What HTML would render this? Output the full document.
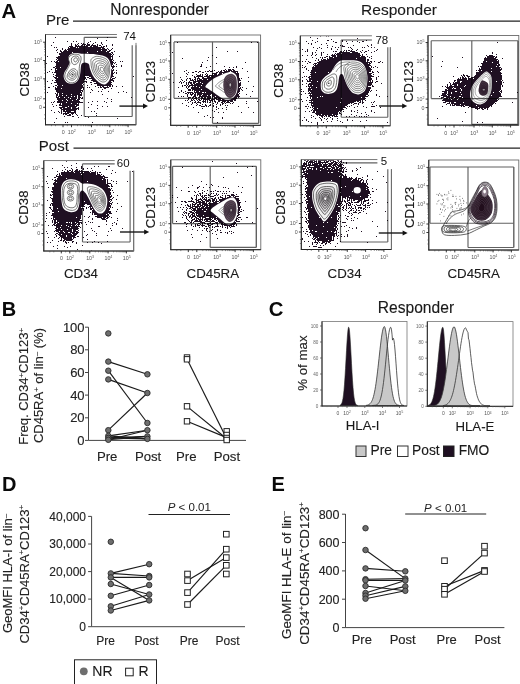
<!DOCTYPE html>
<html><head><meta charset="utf-8"><style>
html,body{margin:0;padding:0;background:#fff;width:520px;height:684px;overflow:hidden;}
svg{display:block;font-family:"Liberation Sans",sans-serif;will-change:transform;}
</style></head><body>
<svg width="520" height="684" viewBox="0 0 520 684" font-family="Liberation Sans, sans-serif">
<rect width="520" height="684" fill="#fff"/>
<defs>
<filter id="s1" x="-30%" y="-30%" width="160%" height="160%" color-interpolation-filters="sRGB"><feGaussianBlur in="SourceAlpha" stdDeviation="1.80" result="b"/><feTurbulence type="fractalNoise" baseFrequency="0.80" numOctaves="1" seed="4" result="n"/><feColorMatrix in="n" type="matrix" values="0 0 0 0 0 0 0 0 0 0 0 0 0 0 0 1 0 0 0 0" result="na"/><feComposite in="b" in2="na" operator="arithmetic" k1="0" k2="1" k3="2.00" k4="-1.00" result="d"/><feComponentTransfer in="d" result="t"><feFuncA type="discrete" tableValues="0 1"/></feComponentTransfer><feFlood flood-color="#1f1022"/><feComposite in2="t" operator="in"/></filter>
<filter id="s2" x="-30%" y="-30%" width="160%" height="160%" color-interpolation-filters="sRGB"><feGaussianBlur in="SourceAlpha" stdDeviation="2.40" result="b"/><feTurbulence type="fractalNoise" baseFrequency="0.80" numOctaves="1" seed="7" result="n"/><feColorMatrix in="n" type="matrix" values="0 0 0 0 0 0 0 0 0 0 0 0 0 0 0 1 0 0 0 0" result="na"/><feComposite in="b" in2="na" operator="arithmetic" k1="0" k2="1" k3="2.00" k4="-1.00" result="d"/><feComponentTransfer in="d" result="t"><feFuncA type="discrete" tableValues="0 1"/></feComponentTransfer><feFlood flood-color="#1f1022"/><feComposite in2="t" operator="in"/></filter>
<filter id="s3" x="-30%" y="-30%" width="160%" height="160%" color-interpolation-filters="sRGB"><feGaussianBlur in="SourceAlpha" stdDeviation="1.20" result="b"/><feTurbulence type="fractalNoise" baseFrequency="0.80" numOctaves="1" seed="11" result="n"/><feColorMatrix in="n" type="matrix" values="0 0 0 0 0 0 0 0 0 0 0 0 0 0 0 1 0 0 0 0" result="na"/><feComposite in="b" in2="na" operator="arithmetic" k1="0" k2="1" k3="2.00" k4="-1.00" result="d"/><feComponentTransfer in="d" result="t"><feFuncA type="discrete" tableValues="0 1"/></feComponentTransfer><feFlood flood-color="#1f1022"/><feComposite in2="t" operator="in"/></filter>
<radialGradient id="rg"><stop offset="0" stop-color="#000" stop-opacity="1"/><stop offset="0.45" stop-color="#000" stop-opacity="0.75"/><stop offset="1" stop-color="#000" stop-opacity="0"/></radialGradient>
<radialGradient id="gA"><stop offset="0.00" stop-opacity="0.900"/><stop offset="0.10" stop-opacity="0.826"/><stop offset="0.20" stop-opacity="0.687"/><stop offset="0.30" stop-opacity="0.571"/><stop offset="0.40" stop-opacity="0.473"/><stop offset="0.50" stop-opacity="0.404"/><stop offset="0.60" stop-opacity="0.319"/><stop offset="0.70" stop-opacity="0.228"/><stop offset="0.80" stop-opacity="0.140"/><stop offset="0.90" stop-opacity="0.072"/><stop offset="1.00" stop-opacity="0.000"/></radialGradient>
<radialGradient id="gB"><stop offset="0.00" stop-opacity="0.511"/><stop offset="0.10" stop-opacity="0.497"/><stop offset="0.20" stop-opacity="0.468"/><stop offset="0.30" stop-opacity="0.427"/><stop offset="0.40" stop-opacity="0.372"/><stop offset="0.50" stop-opacity="0.310"/><stop offset="0.60" stop-opacity="0.231"/><stop offset="0.70" stop-opacity="0.152"/><stop offset="0.80" stop-opacity="0.088"/><stop offset="0.90" stop-opacity="0.041"/><stop offset="1.00" stop-opacity="0.000"/></radialGradient>
</defs>
<text x="1.6" y="17.9" font-size="20.30" text-anchor="start" font-weight="bold" fill="#0a0a0a" >A</text>
<text x="110.2" y="14.6" font-size="15.60" text-anchor="start" font-weight="normal" fill="#1a1a1a" stroke="#1a1a1a" stroke-width="0.12" >Nonresponder</text>
<text x="361.1" y="14.6" font-size="15.50" text-anchor="start" font-weight="normal" fill="#1a1a1a" stroke="#1a1a1a" stroke-width="0.12" >Responder</text>
<text x="46.0" y="25.4" font-size="15.00" text-anchor="start" font-weight="normal" fill="#1a1a1a" stroke="#1a1a1a" stroke-width="0.12" >Pre</text>
<line x1="73.0" y1="21.2" x2="520.0" y2="21.2" stroke="#222" stroke-width="1.30"/>
<text x="38.8" y="151.4" font-size="15.00" text-anchor="start" font-weight="normal" fill="#1a1a1a" stroke="#1a1a1a" stroke-width="0.12" >Post</text>
<line x1="73.5" y1="148.1" x2="520.0" y2="148.1" stroke="#222" stroke-width="1.30"/>
<clipPath id="c1"><rect x="46.1" y="35.1" width="89.3" height="89.1"/></clipPath>
<g clip-path="url(#c1)"><g filter="url(#s1)">
<path d="M50.0,44.0 C55.8,30.3 73.7,39.3 85.0,39.0 C96.3,38.7 112.0,35.2 118.0,42.0 C124.0,48.8 121.3,70.3 121.0,80.0 C120.7,89.7 119.5,94.3 116.0,100.0 C112.5,105.7 105.3,110.5 100.0,114.0 C94.7,117.5 92.3,119.8 84.0,121.0 C75.7,122.2 55.7,133.8 50.0,121.0 C44.3,108.2 44.2,57.7 50.0,44.0Z" fill="#000" fill-opacity="0.13"/>
<path d="M57.2,55.2 C58.6,53.3 60.7,49.8 63.5,48.0 C66.3,46.1 70.4,45.0 73.8,44.1 C77.3,43.2 80.4,42.5 84.2,42.4 C88.0,42.2 92.9,42.6 96.7,43.2 C100.6,43.9 104.3,44.6 107.1,46.2 C109.9,47.9 111.9,49.9 113.4,53.2 C114.8,56.4 115.6,61.4 115.9,65.6 C116.1,69.7 115.4,74.6 114.8,78.0 C114.2,81.4 113.6,84.0 112.3,85.9 C111.0,87.7 109.0,88.8 107.1,89.0 C105.2,89.2 102.9,88.3 100.8,87.2 C98.8,86.1 96.4,83.8 94.6,82.3 C92.8,80.8 91.2,79.1 89.9,78.0 C88.7,76.9 88.0,75.5 87.2,75.8 C86.4,76.2 85.7,78.0 85.1,80.2 C84.4,82.3 83.9,85.7 83.2,88.8 C82.6,91.9 81.9,95.5 81.1,98.8 C80.2,102.2 79.3,105.9 78.1,108.8 C76.9,111.7 75.9,115.0 73.8,116.3 C71.8,117.7 67.9,117.6 65.5,116.7 C63.1,115.8 61.0,113.9 59.4,110.9 C57.7,108.0 56.5,103.3 55.7,98.8 C54.9,94.4 54.9,89.1 54.6,84.3 C54.3,79.4 53.7,73.9 53.8,69.8 C53.8,65.7 54.6,61.9 55.2,59.4 C55.7,57.0 55.8,57.1 57.2,55.2Z" fill="#000" fill-opacity="0.30"/>
<path d="M59.2,56.9 C60.5,55.1 62.4,51.9 65.0,50.2 C67.6,48.5 71.4,47.5 74.6,46.6 C77.8,45.7 80.7,45.1 84.2,45.0 C87.7,44.9 92.3,45.2 95.8,45.8 C99.3,46.4 102.8,47.1 105.4,48.6 C108.0,50.1 109.9,52.0 111.2,55.0 C112.5,58.0 113.3,62.7 113.5,66.5 C113.7,70.3 113.0,74.9 112.5,78.0 C112.0,81.1 111.4,83.6 110.2,85.3 C109.0,87.0 107.2,88.0 105.4,88.2 C103.6,88.4 101.5,87.5 99.6,86.5 C97.7,85.5 95.5,83.4 93.8,82.0 C92.1,80.6 90.6,79.0 89.5,78.0 C88.4,77.0 87.8,75.7 87.0,76.0 C86.2,76.3 85.6,78.0 85.0,80.0 C84.4,82.0 83.9,85.1 83.3,88.0 C82.7,90.9 82.1,94.2 81.3,97.3 C80.5,100.4 79.6,103.8 78.5,106.5 C77.4,109.2 76.5,112.3 74.6,113.5 C72.7,114.7 69.1,114.6 66.9,113.8 C64.7,113.0 62.7,111.2 61.2,108.5 C59.7,105.8 58.5,101.4 57.8,97.3 C57.1,93.2 57.1,88.3 56.8,83.8 C56.5,79.3 55.9,74.2 56.0,70.4 C56.1,66.6 56.8,63.0 57.3,60.8 C57.8,58.5 57.9,58.7 59.2,56.9Z" fill="#000" fill-opacity="0.66"/>
<path d="M58.0,58.0 C60.8,50.7 68.8,49.7 75.0,48.0 C81.2,46.3 89.3,46.7 95.0,48.0 C100.7,49.3 106.2,51.5 109.0,56.0 C111.8,60.5 112.5,70.0 112.0,75.0 C111.5,80.0 108.3,84.2 106.0,86.0 C103.7,87.8 101.0,88.0 98.0,86.0 C95.0,84.0 90.7,74.3 88.0,74.0 C85.3,73.7 83.3,81.0 82.0,84.0 C80.7,87.0 84.0,90.7 80.0,92.0 C76.0,93.3 61.7,97.7 58.0,92.0 C54.3,86.3 55.2,65.3 58.0,58.0Z" fill="#000" fill-opacity="0.80"/>
</g></g>
<path d="M68.8,56.2 C69.2,55.4 70.0,54.5 71.2,54.0 C72.5,53.5 74.6,53.1 76.2,53.1 C77.9,53.1 79.8,53.6 81.2,53.8 C82.7,53.9 83.3,53.7 85.0,53.8 C86.7,53.8 89.4,53.9 91.2,54.0 C93.1,54.1 94.4,54.1 96.2,54.4 C98.1,54.7 100.6,55.0 102.5,55.6 C104.4,56.2 106.2,57.0 107.5,58.1 C108.8,59.2 109.4,60.7 110.0,62.5 C110.6,64.3 111.2,66.5 111.2,68.8 C111.3,71.0 111.0,74.2 110.6,76.2 C110.2,78.3 109.7,79.9 108.8,81.2 C107.8,82.6 106.2,84.0 105.0,84.4 C103.8,84.8 102.7,84.5 101.2,83.8 C99.8,83.0 97.7,81.5 96.2,80.0 C94.8,78.5 93.5,76.9 92.5,75.0 C91.5,73.1 90.6,70.5 90.0,68.8 C89.4,67.0 89.5,65.3 89.0,64.4 C88.5,63.5 87.6,63.4 86.9,63.1 C86.2,62.8 85.7,62.5 85.0,62.5 C84.3,62.5 83.4,62.7 82.8,63.1 C82.1,63.5 81.6,63.9 81.2,65.0 C80.9,66.2 80.8,68.3 80.6,70.0 C80.4,71.7 80.4,73.3 80.0,75.0 C79.6,76.7 78.9,78.7 78.1,80.0 C77.3,81.3 76.2,82.5 75.0,83.1 C73.8,83.7 72.1,84.0 70.6,83.8 C69.1,83.5 67.4,82.9 66.2,81.9 C65.1,80.9 64.1,79.1 63.8,77.5 C63.4,75.9 63.8,74.2 64.4,72.5 C65.0,70.8 66.7,69.1 67.5,67.5 C68.3,65.9 69.2,64.5 69.4,63.1 C69.6,61.8 68.6,60.5 68.5,59.4 C68.4,58.3 68.3,57.1 68.8,56.2Z" fill="#fff"/>
<path d="M68.5,58.0 C68.9,56.5 70.6,55.4 72.0,54.8 C73.4,54.2 75.6,54.0 77.0,54.2 C78.4,54.4 79.8,55.0 80.5,56.0 C81.2,57.0 81.1,58.7 81.0,60.0 C80.9,61.3 80.1,62.6 79.8,64.0 C79.5,65.4 79.3,66.8 79.2,68.5 C79.1,70.2 79.5,72.2 79.2,74.0 C78.9,75.8 78.3,78.1 77.5,79.5 C76.7,80.9 75.7,81.8 74.5,82.3 C73.3,82.8 71.9,83.0 70.6,82.8 C69.3,82.5 67.8,81.8 66.8,80.8 C65.8,79.8 65.0,78.4 64.8,77.0 C64.6,75.6 64.9,74.0 65.5,72.5 C66.1,71.0 67.5,69.3 68.2,67.8 C68.9,66.3 69.8,65.1 69.8,63.5 C69.8,61.9 68.1,59.5 68.5,58.0Z" fill="none" stroke="#2a2a2a" stroke-width="0.65"/>
<path d="M71.8,57.8 C72.3,57.1 73.7,56.3 74.7,56.1 C75.8,55.9 77.4,56.0 78.1,56.5 C78.8,57.1 79.1,58.4 79.1,59.5 C79.0,60.6 78.4,62.0 77.7,62.9 C77.0,63.8 75.6,64.5 74.7,64.6 C73.8,64.7 72.7,64.0 72.2,63.3 C71.6,62.6 71.5,61.3 71.4,60.4 C71.3,59.4 71.2,58.5 71.8,57.8Z" fill="none" stroke="#2a2a2a" stroke-width="0.65"/>
<path d="M74.0,58.7 C74.3,58.4 74.9,58.0 75.4,57.9 C75.9,57.8 76.7,57.8 77.0,58.1 C77.3,58.4 77.5,59.0 77.4,59.5 C77.4,60.0 77.1,60.7 76.8,61.1 C76.5,61.5 75.8,61.9 75.4,61.9 C75.0,61.9 74.5,61.6 74.2,61.3 C73.9,61.0 73.9,60.3 73.8,59.9 C73.8,59.5 73.7,59.0 74.0,58.7Z" fill="none" stroke="#2a2a2a" stroke-width="0.65"/>
<path d="M67.7,74.1 C68.2,72.9 69.2,71.0 70.3,70.1 C71.4,69.2 73.1,68.6 74.3,68.8 C75.4,69.0 76.9,70.2 77.4,71.4 C77.8,72.7 77.5,74.9 76.9,76.3 C76.3,77.7 75.0,79.2 73.8,79.8 C72.7,80.4 71.0,80.2 69.9,79.8 C68.8,79.4 67.6,78.4 67.2,77.4 C66.9,76.5 67.2,75.3 67.7,74.1Z" fill="none" stroke="#2a2a2a" stroke-width="0.65"/>
<path d="M69.3,74.2 C69.6,73.4 70.3,72.2 71.1,71.6 C71.8,71.0 72.9,70.6 73.7,70.7 C74.5,70.9 75.5,71.6 75.8,72.5 C76.1,73.3 75.9,74.8 75.5,75.7 C75.1,76.7 74.2,77.7 73.4,78.1 C72.6,78.5 71.5,78.3 70.8,78.1 C70.0,77.8 69.2,77.1 69.0,76.5 C68.8,75.8 69.0,75.1 69.3,74.2Z" fill="none" stroke="#2a2a2a" stroke-width="0.65"/>
<path d="M70.9,74.4 C71.1,74.0 71.4,73.4 71.8,73.1 C72.2,72.8 72.8,72.5 73.2,72.6 C73.6,72.7 74.1,73.1 74.2,73.5 C74.4,73.9 74.3,74.7 74.1,75.2 C73.9,75.6 73.4,76.2 73.0,76.4 C72.6,76.6 72.0,76.5 71.7,76.4 C71.3,76.2 70.9,75.9 70.8,75.6 C70.6,75.2 70.7,74.8 70.9,74.4Z" fill="none" stroke="#2a2a2a" stroke-width="0.65"/>
<circle cx="72.6" cy="74.6" r="0.8" fill="#333"/>
<path d="M91.4,58.9 C92.3,57.9 94.5,56.6 96.3,56.4 C98.2,56.1 100.7,56.8 102.5,57.4 C104.3,57.9 106.0,58.7 107.1,59.8 C108.2,61.0 108.8,62.8 109.2,64.4 C109.6,66.1 109.7,68.1 109.7,70.0 C109.6,71.9 109.3,74.3 108.9,75.9 C108.5,77.6 107.8,79.1 107.1,80.1 C106.3,81.1 105.3,81.7 104.3,81.9 C103.3,82.2 102.3,82.1 101.1,81.5 C99.9,80.9 98.2,79.6 97.0,78.2 C95.7,76.9 94.6,75.3 93.7,73.6 C92.9,72.0 92.2,70.0 91.7,68.1 C91.3,66.3 91.0,64.1 91.0,62.6 C90.9,61.1 90.5,60.0 91.4,58.9Z" fill="none" stroke="#2e2e2e" stroke-width="0.60"/>
<path d="M93.2,60.7 C94.0,59.8 95.7,58.8 97.3,58.5 C98.8,58.3 100.9,58.9 102.4,59.4 C103.9,59.9 105.3,60.5 106.3,61.5 C107.2,62.4 107.7,63.9 108.0,65.3 C108.4,66.7 108.5,68.3 108.4,69.9 C108.4,71.5 108.2,73.5 107.8,74.9 C107.4,76.3 106.9,77.5 106.3,78.4 C105.6,79.2 104.8,79.7 104.0,79.9 C103.1,80.1 102.3,80.0 101.3,79.5 C100.3,79.0 98.8,77.9 97.8,76.8 C96.8,75.7 95.9,74.4 95.1,73.0 C94.4,71.6 93.8,69.9 93.4,68.4 C93.1,66.8 92.9,65.0 92.8,63.8 C92.8,62.5 92.5,61.6 93.2,60.7Z" fill="none" stroke="#2e2e2e" stroke-width="0.60"/>
<path d="M95.0,62.5 C95.6,61.8 97.0,60.9 98.3,60.7 C99.5,60.6 101.2,61.0 102.4,61.4 C103.6,61.8 104.7,62.3 105.5,63.1 C106.2,63.9 106.6,65.0 106.9,66.2 C107.2,67.3 107.2,68.6 107.2,69.8 C107.2,71.1 107.0,72.7 106.7,73.9 C106.4,75.0 106.0,76.0 105.5,76.6 C105.0,77.3 104.3,77.7 103.6,77.9 C102.9,78.0 102.3,78.0 101.5,77.5 C100.6,77.1 99.5,76.3 98.7,75.4 C97.9,74.5 97.1,73.4 96.5,72.3 C95.9,71.2 95.5,69.8 95.2,68.6 C94.9,67.4 94.7,65.9 94.7,64.9 C94.7,63.9 94.4,63.2 95.0,62.5Z" fill="none" stroke="#2e2e2e" stroke-width="0.60"/>
<path d="M96.8,64.2 C97.2,63.7 98.3,63.0 99.2,62.9 C100.2,62.8 101.4,63.1 102.3,63.4 C103.2,63.7 104.1,64.1 104.7,64.7 C105.2,65.3 105.5,66.2 105.7,67.0 C105.9,67.9 106.0,68.8 106.0,69.8 C105.9,70.8 105.8,72.0 105.6,72.8 C105.4,73.7 105.0,74.4 104.7,74.9 C104.3,75.4 103.8,75.7 103.3,75.8 C102.8,75.9 102.3,75.9 101.6,75.6 C101.0,75.3 100.2,74.6 99.6,74.0 C98.9,73.3 98.4,72.5 97.9,71.6 C97.5,70.8 97.1,69.8 96.9,68.9 C96.7,67.9 96.6,66.8 96.5,66.1 C96.5,65.3 96.3,64.7 96.8,64.2Z" fill="none" stroke="#2e2e2e" stroke-width="0.60"/>
<path d="M98.5,66.0 C98.9,65.6 99.6,65.2 100.2,65.1 C100.8,65.0 101.7,65.3 102.3,65.5 C102.9,65.6 103.5,65.9 103.9,66.3 C104.2,66.7 104.4,67.3 104.6,67.9 C104.7,68.4 104.7,69.1 104.7,69.7 C104.7,70.4 104.6,71.2 104.5,71.8 C104.3,72.3 104.1,72.8 103.9,73.2 C103.6,73.5 103.3,73.7 102.9,73.8 C102.6,73.9 102.2,73.8 101.8,73.6 C101.4,73.4 100.8,73.0 100.4,72.5 C100.0,72.1 99.6,71.5 99.3,71.0 C99.0,70.4 98.8,69.7 98.6,69.1 C98.5,68.5 98.4,67.7 98.4,67.2 C98.4,66.7 98.2,66.3 98.5,66.0Z" fill="none" stroke="#2e2e2e" stroke-width="0.60"/>
<path d="M100.3,67.7 C100.5,67.6 100.9,67.3 101.2,67.3 C101.5,67.3 101.9,67.4 102.2,67.5 C102.6,67.6 102.9,67.7 103.0,67.9 C103.2,68.1 103.3,68.4 103.4,68.7 C103.5,69.0 103.5,69.3 103.5,69.7 C103.5,70.0 103.4,70.4 103.4,70.7 C103.3,71.0 103.2,71.3 103.0,71.4 C102.9,71.6 102.7,71.7 102.6,71.7 C102.4,71.8 102.2,71.8 102.0,71.7 C101.8,71.6 101.5,71.3 101.3,71.1 C101.1,70.9 100.9,70.6 100.7,70.3 C100.6,70.0 100.5,69.7 100.4,69.3 C100.3,69.0 100.3,68.7 100.2,68.4 C100.2,68.1 100.2,67.9 100.3,67.7Z" fill="none" stroke="#2e2e2e" stroke-width="0.60"/>
<circle cx="102.2" cy="69.6" r="1" fill="#fff"/>
<clipPath id="c2"><rect x="171.3" y="35.6" width="88.7" height="89.1"/></clipPath>
<g clip-path="url(#c2)"><g filter="url(#s1)">
<ellipse cx="211.0" cy="88.0" rx="46.0" ry="34.0" fill="url(#gB)" fill-opacity="1.00"/>
<ellipse cx="203.0" cy="89.0" rx="24.0" ry="20.0" fill="url(#gA)" fill-opacity="0.85"/>
<path d="M201.5,85.9 C202.6,84.0 207.2,79.8 210.4,77.6 C213.6,75.4 217.4,73.8 220.7,72.4 C224.0,71.0 227.8,69.6 230.1,69.2 C232.3,68.8 232.9,69.1 234.3,69.8 C235.7,70.5 237.4,71.6 238.4,73.4 C239.3,75.2 239.7,78.1 239.9,80.7 C240.2,83.3 240.2,86.6 239.9,89.0 C239.7,91.4 239.3,93.3 238.4,95.2 C237.4,97.1 235.8,99.2 234.3,100.4 C232.7,101.6 230.7,102.2 229.0,102.4 C227.3,102.7 225.7,102.6 223.8,102.0 C221.9,101.3 219.8,99.8 217.6,98.4 C215.4,96.9 212.6,94.8 210.4,93.2 C208.2,91.6 205.6,90.2 204.2,89.0 C202.7,87.8 200.5,87.8 201.5,85.9Z" fill="#000" fill-opacity="1.00"/>
</g></g>
<path d="M205.6,85.9 C206.5,84.3 210.3,80.9 213.0,79.0 C215.7,77.1 218.9,75.9 221.6,74.7 C224.3,73.5 227.5,72.4 229.4,72.0 C231.3,71.6 231.8,71.9 232.9,72.5 C234.1,73.1 235.5,74.0 236.3,75.5 C237.1,77.0 237.4,79.4 237.6,81.6 C237.8,83.8 237.8,86.5 237.6,88.5 C237.4,90.5 237.1,92.1 236.3,93.7 C235.5,95.3 234.2,97.0 232.9,98.0 C231.6,99.0 229.9,99.5 228.5,99.7 C227.1,99.9 225.8,99.9 224.2,99.3 C222.6,98.7 220.9,97.5 219.0,96.3 C217.1,95.1 214.9,93.3 213.0,92.0 C211.1,90.7 209.0,89.5 207.8,88.5 C206.6,87.5 204.7,87.5 205.6,85.9Z" fill="#fff"/>
<path d="M215.6,85.7 C216.2,84.8 218.6,82.6 220.2,81.5 C221.9,80.3 223.9,79.5 225.6,78.8 C227.2,78.1 229.2,77.4 230.4,77.1 C231.6,76.9 231.8,77.1 232.6,77.4 C233.3,77.8 234.2,78.4 234.7,79.3 C235.2,80.2 235.3,81.7 235.5,83.1 C235.6,84.4 235.6,86.1 235.5,87.4 C235.3,88.6 235.2,89.6 234.7,90.6 C234.2,91.6 233.4,92.6 232.6,93.2 C231.8,93.9 230.7,94.2 229.8,94.3 C228.9,94.4 228.1,94.4 227.2,94.1 C226.2,93.7 225.1,93.0 223.9,92.2 C222.8,91.4 221.4,90.3 220.2,89.5 C219.1,88.7 217.8,88.0 217.0,87.4 C216.2,86.7 215.1,86.7 215.6,85.7Z" fill="#2a1a28" fill-opacity="0.00" stroke="#444" stroke-width="0.55"/>
<path d="M218.8,85.7 C219.2,84.9 221.2,83.2 222.5,82.2 C223.8,81.3 225.4,80.7 226.8,80.1 C228.2,79.5 229.8,78.9 230.7,78.8 C231.6,78.6 231.9,78.7 232.4,79.0 C233.0,79.3 233.8,79.7 234.2,80.5 C234.5,81.3 234.7,82.5 234.8,83.5 C234.9,84.6 234.9,86.0 234.8,87.0 C234.7,88.0 234.5,88.8 234.2,89.6 C233.8,90.4 233.1,91.2 232.4,91.8 C231.8,92.2 231.0,92.5 230.2,92.6 C229.5,92.7 228.9,92.7 228.1,92.4 C227.3,92.1 226.4,91.5 225.5,90.9 C224.6,90.3 223.4,89.4 222.5,88.8 C221.6,88.1 220.5,87.5 219.9,87.0 C219.3,86.5 218.4,86.5 218.8,85.7Z" fill="#2a1a28" fill-opacity="0.00" stroke="#444" stroke-width="0.55"/>
<path d="M223.4,85.5 C223.3,83.0 223.7,79.8 224.5,78.0 C225.3,76.2 226.7,75.2 228.0,74.5 C229.3,73.8 231.2,73.5 232.5,74.0 C233.8,74.5 235.3,75.6 236.0,77.5 C236.7,79.4 236.8,82.9 236.8,85.5 C236.8,88.1 236.5,91.0 235.8,93.0 C235.1,95.0 233.8,96.5 232.5,97.3 C231.2,98.0 229.3,98.2 228.0,97.5 C226.7,96.8 225.6,95.0 224.8,93.0 C224.0,91.0 223.5,88.0 223.4,85.5Z" fill="#6a5a68"/>
<path d="M223.9,85.5 C223.9,83.2 224.3,80.3 225.0,78.6 C225.7,76.9 226.9,76.0 228.2,75.4 C229.4,74.8 231.1,74.5 232.3,74.9 C233.5,75.4 234.9,76.4 235.5,78.1 C236.2,79.9 236.3,83.1 236.3,85.5 C236.2,87.9 236.0,90.6 235.4,92.4 C234.7,94.2 233.5,95.7 232.3,96.4 C231.1,97.0 229.4,97.2 228.2,96.5 C227.0,95.9 225.9,94.2 225.2,92.4 C224.5,90.6 224.0,87.8 223.9,85.5Z" fill="#2a1a28" fill-opacity="0.10" stroke="#2a1a28" stroke-width="0.55"/>
<path d="M225.1,85.5 C225.0,83.6 225.3,81.2 225.9,79.9 C226.5,78.5 227.5,77.7 228.5,77.2 C229.5,76.7 230.9,76.5 231.9,76.8 C232.9,77.2 234.0,78.0 234.6,79.5 C235.1,80.9 235.2,83.6 235.2,85.5 C235.1,87.4 235.0,89.7 234.4,91.1 C233.9,92.6 232.9,93.8 231.9,94.4 C231.0,94.9 229.5,95.1 228.5,94.5 C227.6,94.0 226.7,92.6 226.1,91.1 C225.6,89.6 225.1,87.4 225.1,85.5Z" fill="#2a1a28" fill-opacity="0.10" stroke="#2a1a28" stroke-width="0.55"/>
<path d="M226.2,85.5 C226.2,84.0 226.4,82.2 226.9,81.1 C227.3,80.0 228.1,79.5 228.9,79.1 C229.7,78.7 230.8,78.5 231.5,78.8 C232.3,79.1 233.2,79.7 233.6,80.8 C234.0,81.9 234.1,84.0 234.1,85.5 C234.0,87.0 233.9,88.7 233.5,89.9 C233.1,91.0 232.3,92.0 231.5,92.4 C230.8,92.8 229.7,92.9 228.9,92.5 C228.2,92.1 227.5,91.1 227.0,89.9 C226.6,88.7 226.3,87.0 226.2,85.5Z" fill="#2a1a28" fill-opacity="0.10" stroke="#2a1a28" stroke-width="0.55"/>
<path d="M227.4,85.5 C227.3,84.5 227.5,83.1 227.8,82.4 C228.1,81.6 228.7,81.2 229.3,80.9 C229.8,80.6 230.6,80.5 231.2,80.7 C231.7,80.9 232.3,81.4 232.6,82.2 C232.9,83.0 233.0,84.4 233.0,85.5 C232.9,86.6 232.8,87.8 232.5,88.6 C232.2,89.5 231.7,90.1 231.2,90.4 C230.6,90.7 229.8,90.8 229.3,90.5 C228.7,90.2 228.3,89.5 227.9,88.6 C227.6,87.8 227.4,86.5 227.4,85.5Z" fill="#2a1a28" fill-opacity="0.10" stroke="#2a1a28" stroke-width="0.55"/>
<path d="M228.5,85.5 C228.5,84.9 228.6,84.1 228.8,83.6 C229.0,83.2 229.3,82.9 229.6,82.8 C230.0,82.6 230.4,82.5 230.8,82.6 C231.1,82.8 231.5,83.0 231.6,83.5 C231.8,84.0 231.9,84.9 231.8,85.5 C231.8,86.1 231.8,86.9 231.6,87.4 C231.4,87.9 231.1,88.3 230.8,88.5 C230.4,88.6 230.0,88.7 229.6,88.5 C229.3,88.3 229.0,87.9 228.8,87.4 C228.7,86.9 228.5,86.1 228.5,85.5Z" fill="#2a1a28" fill-opacity="0.10" stroke="#2a1a28" stroke-width="0.55"/>
<ellipse cx="230.3" cy="84.8" rx="0.8" ry="1.6" fill="#bbb"/>
<clipPath id="c3"><rect x="300.9" y="36.4" width="88.8" height="88.8"/></clipPath>
<g clip-path="url(#c3)"><g filter="url(#s1)">
<path d="M304.0,40.0 C310.8,26.0 333.2,37.2 345.0,38.0 C356.8,38.8 369.2,36.3 375.0,45.0 C380.8,53.7 380.5,77.8 380.0,90.0 C379.5,102.2 380.3,112.5 372.0,118.0 C363.7,123.5 341.3,122.3 330.0,123.0 C318.7,123.7 308.3,135.8 304.0,122.0 C299.7,108.2 297.2,54.0 304.0,40.0Z" fill="#000" fill-opacity="0.20"/>
<path d="M328.7,56.6 C331.7,55.4 335.8,52.2 339.8,51.1 C343.8,50.0 349.0,49.8 352.7,50.1 C356.4,50.4 359.3,51.2 362.0,52.9 C364.8,54.6 367.6,57.3 369.4,60.4 C371.3,63.5 372.7,67.4 373.2,71.4 C373.6,75.4 372.8,80.5 372.2,84.5 C371.6,88.5 370.8,92.6 369.4,95.5 C368.0,98.3 365.7,100.3 363.9,101.6 C362.0,102.9 360.5,102.7 358.3,103.2 C356.1,103.6 353.4,103.3 350.9,104.3 C348.5,105.2 345.7,107.1 343.5,109.1 C341.4,111.0 340.4,114.5 338.0,115.9 C335.5,117.4 332.1,117.6 328.7,117.7 C325.3,117.9 320.3,118.0 317.5,116.8 C314.7,115.5 313.4,113.3 312.0,110.4 C310.6,107.4 309.8,103.2 309.2,99.2 C308.6,95.2 308.3,90.6 308.3,86.3 C308.3,82.0 308.3,77.0 309.2,73.3 C310.1,69.6 311.9,66.5 313.9,64.0 C315.9,61.5 318.8,59.7 321.3,58.5 C323.7,57.2 325.6,57.9 328.7,56.6Z" fill="#000" fill-opacity="0.35"/>
<path d="M329.4,58.5 C332.3,57.4 336.1,54.3 339.8,53.3 C343.6,52.3 348.4,52.1 351.9,52.4 C355.4,52.7 358.0,53.4 360.6,55.0 C363.2,56.6 365.8,59.1 367.5,62.0 C369.2,64.9 370.6,68.5 371.0,72.3 C371.4,76.0 370.7,80.8 370.1,84.5 C369.5,88.2 368.8,92.1 367.5,94.8 C366.2,97.5 364.0,99.3 362.3,100.5 C360.6,101.7 359.1,101.6 357.1,102.0 C355.1,102.4 352.5,102.1 350.2,103.0 C347.9,103.9 345.3,105.7 343.3,107.5 C341.3,109.3 340.4,112.6 338.1,113.9 C335.8,115.2 332.6,115.5 329.4,115.6 C326.2,115.7 321.6,115.8 319.0,114.7 C316.4,113.6 315.1,111.4 313.8,108.7 C312.5,106.0 311.8,102.0 311.2,98.3 C310.6,94.5 310.4,90.2 310.4,86.2 C310.4,82.2 310.3,77.6 311.2,74.1 C312.1,70.6 313.7,67.7 315.6,65.4 C317.5,63.1 320.2,61.4 322.5,60.2 C324.8,59.1 326.5,59.6 329.4,58.5Z" fill="#000" fill-opacity="0.93"/>
</g></g>
<path d="M320.8,86.7 C320.7,85.1 320.7,83.1 321.3,81.5 C321.9,79.9 323.2,78.5 324.5,77.2 C325.8,76.0 327.6,75.0 328.8,74.0 C330.0,73.0 330.8,72.3 331.9,70.9 C332.9,69.5 334.0,67.1 335.1,65.6 C336.2,64.1 337.1,62.8 338.3,61.9 C339.5,61.0 340.6,60.6 342.5,60.3 C344.4,60.0 347.4,60.2 349.9,60.3 C352.4,60.4 355.2,60.3 357.3,60.8 C359.4,61.3 361.2,62.2 362.6,63.5 C364.0,64.8 365.0,66.7 365.8,68.8 C366.6,70.9 367.2,73.6 367.4,76.2 C367.6,78.8 367.3,82.1 366.9,84.6 C366.4,87.1 365.9,89.4 364.7,91.0 C363.4,92.6 361.1,93.8 359.4,94.2 C357.6,94.6 355.8,94.3 354.2,93.6 C352.6,92.9 351.1,91.4 349.9,89.9 C348.6,88.4 347.6,86.4 346.7,84.6 C345.8,82.8 345.2,80.9 344.6,79.3 C344.0,77.7 343.5,76.0 343.0,75.1 C342.5,74.2 342.0,74.0 341.5,74.0 C341.0,74.0 340.3,74.2 339.9,75.1 C339.4,76.0 339.1,77.5 338.8,79.3 C338.5,81.1 338.3,83.8 337.8,85.7 C337.3,87.7 336.8,89.7 335.6,91.0 C334.5,92.3 332.6,93.2 330.9,93.6 C329.2,94.0 327.1,94.0 325.6,93.6 C324.1,93.2 322.7,92.2 321.9,91.0 C321.1,89.8 320.9,88.3 320.8,86.7Z" fill="#fff"/>
<path d="M322.2,86.3 C322.1,85.0 322.2,82.9 322.8,81.6 C323.4,80.2 324.6,79.2 325.7,78.3 C326.8,77.3 328.2,76.6 329.5,75.9 C330.7,75.2 332.2,74.1 333.3,74.0 C334.4,73.8 335.5,74.0 336.1,74.9 C336.7,75.9 336.8,77.9 336.8,79.7 C336.8,81.4 336.5,83.7 336.1,85.4 C335.7,87.0 335.2,88.6 334.2,89.7 C333.3,90.8 331.8,91.6 330.4,92.0 C329.0,92.4 327.2,92.4 325.9,92.0 C324.7,91.6 323.5,90.6 322.9,89.7 C322.3,88.7 322.2,87.7 322.2,86.3Z" fill="none" stroke="#2a2a2a" stroke-width="0.65"/>
<path d="M324.4,85.3 C324.4,84.4 324.5,83.0 324.9,82.1 C325.2,81.3 326.0,80.6 326.7,80.0 C327.5,79.3 328.4,78.9 329.2,78.4 C330.1,77.9 331.0,77.2 331.7,77.1 C332.5,77.0 333.2,77.1 333.6,77.8 C334.0,78.4 334.1,79.7 334.1,80.9 C334.1,82.0 333.9,83.5 333.6,84.6 C333.3,85.7 333.0,86.7 332.4,87.5 C331.7,88.2 330.8,88.8 329.9,89.0 C329.0,89.3 327.7,89.3 326.9,89.0 C326.1,88.8 325.3,88.1 324.9,87.5 C324.5,86.8 324.4,86.1 324.4,85.3Z" fill="none" stroke="#2a2a2a" stroke-width="0.65"/>
<path d="M326.7,84.2 C326.7,83.8 326.7,83.1 326.9,82.7 C327.1,82.3 327.5,81.9 327.8,81.6 C328.2,81.3 328.6,81.1 329.0,80.9 C329.4,80.7 329.9,80.3 330.2,80.3 C330.6,80.2 330.9,80.3 331.1,80.6 C331.3,80.9 331.3,81.5 331.3,82.1 C331.3,82.6 331.2,83.4 331.1,83.9 C331.0,84.4 330.8,84.9 330.5,85.2 C330.2,85.6 329.7,85.9 329.3,86.0 C328.9,86.1 328.3,86.1 327.9,86.0 C327.5,85.9 327.1,85.5 326.9,85.2 C326.7,84.9 326.7,84.6 326.7,84.2Z" fill="none" stroke="#2a2a2a" stroke-width="0.65"/>
<circle cx="328.8" cy="83.2" r="0.8" fill="#222"/>
<path d="M344.2,66.5 C345.2,64.7 348.1,62.9 350.3,62.3 C352.5,61.6 355.3,62.1 357.3,62.5 C359.3,63.0 361.0,63.9 362.3,65.1 C363.7,66.3 364.7,68.0 365.4,69.9 C366.1,71.7 366.4,73.8 366.5,76.2 C366.6,78.6 366.5,81.9 366.1,84.2 C365.6,86.5 365.1,88.4 364.0,89.8 C362.8,91.2 360.9,92.2 359.3,92.6 C357.7,92.9 355.9,92.6 354.4,92.0 C352.9,91.3 351.5,90.0 350.4,88.7 C349.2,87.3 348.3,85.6 347.5,83.9 C346.7,82.3 346.1,80.7 345.6,78.9 C345.1,77.1 344.7,75.2 344.5,73.2 C344.2,71.1 343.2,68.4 344.2,66.5Z" fill="none" stroke="#3a3a3a" stroke-width="0.60"/>
<path d="M345.8,67.8 C346.7,66.2 349.3,64.6 351.2,64.0 C353.1,63.5 355.6,63.9 357.3,64.3 C359.1,64.7 360.6,65.5 361.7,66.5 C362.9,67.6 363.8,69.1 364.4,70.7 C365.0,72.3 365.3,74.2 365.4,76.3 C365.5,78.4 365.4,81.3 365.0,83.3 C364.6,85.3 364.1,87.0 363.2,88.2 C362.2,89.4 360.5,90.3 359.1,90.6 C357.7,90.9 356.1,90.7 354.8,90.1 C353.4,89.5 352.3,88.4 351.3,87.2 C350.3,86.0 349.4,84.5 348.8,83.0 C348.1,81.6 347.5,80.2 347.1,78.6 C346.6,77.0 346.3,75.4 346.1,73.6 C345.9,71.8 345.0,69.4 345.8,67.8Z" fill="none" stroke="#3a3a3a" stroke-width="0.60"/>
<path d="M347.5,69.0 C348.2,67.7 350.4,66.3 352.1,65.8 C353.7,65.3 355.8,65.7 357.4,66.0 C358.9,66.4 360.1,67.0 361.2,68.0 C362.2,68.9 362.9,70.2 363.4,71.5 C364.0,72.9 364.2,74.5 364.3,76.3 C364.4,78.1 364.3,80.6 363.9,82.4 C363.6,84.1 363.2,85.5 362.4,86.6 C361.5,87.6 360.1,88.4 358.9,88.7 C357.7,88.9 356.3,88.7 355.1,88.2 C354.0,87.7 353.0,86.7 352.1,85.7 C351.3,84.7 350.6,83.4 350.0,82.1 C349.4,80.9 348.9,79.7 348.6,78.3 C348.2,77.0 347.9,75.6 347.7,74.1 C347.5,72.5 346.8,70.4 347.5,69.0Z" fill="none" stroke="#3a3a3a" stroke-width="0.60"/>
<path d="M349.1,70.3 C349.7,69.1 351.6,68.0 353.0,67.6 C354.3,67.2 356.1,67.5 357.4,67.8 C358.6,68.1 359.7,68.6 360.6,69.4 C361.4,70.2 362.0,71.2 362.5,72.4 C362.9,73.6 363.1,74.9 363.2,76.4 C363.3,77.9 363.2,80.0 362.9,81.4 C362.6,82.9 362.3,84.1 361.6,85.0 C360.9,85.8 359.6,86.5 358.6,86.7 C357.6,86.9 356.5,86.7 355.5,86.3 C354.6,85.9 353.7,85.1 353.0,84.2 C352.3,83.4 351.7,82.3 351.2,81.2 C350.7,80.2 350.3,79.2 350.0,78.1 C349.7,76.9 349.4,75.8 349.3,74.5 C349.1,73.2 348.5,71.4 349.1,70.3Z" fill="none" stroke="#3a3a3a" stroke-width="0.60"/>
<path d="M350.8,71.5 C351.2,70.6 352.7,69.7 353.8,69.4 C354.9,69.0 356.4,69.3 357.4,69.5 C358.4,69.8 359.3,70.2 360.0,70.8 C360.6,71.4 361.1,72.3 361.5,73.2 C361.8,74.2 362.0,75.2 362.1,76.5 C362.1,77.7 362.0,79.4 361.8,80.5 C361.6,81.7 361.3,82.6 360.8,83.3 C360.2,84.0 359.2,84.6 358.4,84.7 C357.6,84.9 356.7,84.8 355.9,84.5 C355.2,84.1 354.5,83.4 353.9,82.8 C353.3,82.1 352.8,81.2 352.4,80.4 C352.0,79.5 351.7,78.7 351.5,77.8 C351.2,76.9 351.0,76.0 350.9,74.9 C350.8,73.9 350.3,72.5 350.8,71.5Z" fill="none" stroke="#3a3a3a" stroke-width="0.60"/>
<path d="M352.4,72.8 C352.8,72.1 353.9,71.4 354.7,71.2 C355.6,70.9 356.7,71.1 357.4,71.3 C358.2,71.5 358.8,71.8 359.4,72.3 C359.9,72.7 360.3,73.4 360.5,74.1 C360.8,74.8 360.9,75.6 361.0,76.5 C361.0,77.4 360.9,78.7 360.8,79.6 C360.6,80.4 360.4,81.2 360.0,81.7 C359.5,82.3 358.8,82.6 358.2,82.8 C357.6,82.9 356.9,82.8 356.3,82.6 C355.7,82.3 355.2,81.8 354.8,81.3 C354.3,80.8 354.0,80.1 353.7,79.5 C353.4,78.8 353.1,78.2 352.9,77.5 C352.8,76.9 352.6,76.1 352.5,75.4 C352.4,74.6 352.0,73.5 352.4,72.8Z" fill="none" stroke="#3a3a3a" stroke-width="0.60"/>
<path d="M354.0,74.1 C354.3,73.6 355.1,73.1 355.6,72.9 C356.2,72.8 356.9,72.9 357.5,73.0 C358.0,73.1 358.4,73.4 358.8,73.7 C359.1,74.0 359.4,74.4 359.6,74.9 C359.7,75.4 359.8,76.0 359.8,76.6 C359.9,77.2 359.8,78.1 359.7,78.7 C359.6,79.2 359.5,79.7 359.2,80.1 C358.9,80.5 358.4,80.7 358.0,80.8 C357.6,80.9 357.1,80.8 356.7,80.7 C356.3,80.5 355.9,80.2 355.6,79.8 C355.3,79.5 355.1,79.0 354.9,78.6 C354.7,78.2 354.5,77.7 354.4,77.3 C354.3,76.8 354.2,76.3 354.1,75.8 C354.1,75.3 353.8,74.5 354.0,74.1Z" fill="none" stroke="#3a3a3a" stroke-width="0.60"/>
<path d="M355.7,75.3 C355.8,75.1 356.2,74.8 356.5,74.7 C356.8,74.6 357.2,74.7 357.5,74.8 C357.7,74.8 358.0,74.9 358.2,75.1 C358.3,75.3 358.5,75.5 358.6,75.8 C358.7,76.0 358.7,76.3 358.7,76.6 C358.8,77.0 358.7,77.4 358.7,77.7 C358.6,78.0 358.5,78.3 358.4,78.5 C358.2,78.7 358.0,78.8 357.7,78.9 C357.5,78.9 357.3,78.9 357.1,78.8 C356.9,78.7 356.7,78.5 356.5,78.3 C356.4,78.2 356.2,77.9 356.1,77.7 C356.0,77.5 355.9,77.2 355.9,77.0 C355.8,76.8 355.8,76.5 355.7,76.2 C355.7,75.9 355.5,75.6 355.7,75.3Z" fill="none" stroke="#3a3a3a" stroke-width="0.60"/>
<ellipse cx="357.6" cy="76.5" rx="0.9" ry="1.5" fill="#fff"/>
<path d="M333,70 C337,63 343,61.5 350,62 M336,72 C339,66 344,64 349,64.5" fill="none" stroke="#444" stroke-width="0.55"/>
<clipPath id="c4"><rect x="428.6" y="36.1" width="89.6" height="88.4"/></clipPath>
<g clip-path="url(#c4)"><g filter="url(#s1)">
<ellipse cx="458.0" cy="93.0" rx="26.0" ry="16.0" fill="url(#gB)" fill-opacity="0.60" transform="rotate(-20.0 458.0 93.0)"/>
<path d="M441.0,98.0 C441.2,94.8 445.3,88.2 448.0,85.0 C450.7,81.8 453.7,80.8 457.0,79.0 C460.3,77.2 465.5,70.5 468.0,74.0 C470.5,77.5 472.3,94.5 472.0,100.0 C471.7,105.5 470.2,106.3 466.0,107.0 C461.8,107.7 451.2,105.5 447.0,104.0 C442.8,102.5 440.8,101.2 441.0,98.0Z" fill="#000" fill-opacity="0.68"/>
<path d="M488.6,55.0 C490.6,54.3 493.8,54.7 495.5,55.9 C497.2,57.1 498.0,59.3 499.0,62.0 C500.0,64.7 501.0,68.5 501.6,72.3 C502.2,76.0 502.5,80.8 502.4,84.5 C502.2,88.2 501.8,91.6 500.7,94.8 C499.6,98.0 497.8,101.2 495.5,103.5 C493.2,105.8 490.0,107.8 486.8,108.7 C483.6,109.6 479.6,109.2 476.5,108.7 C473.4,108.2 470.2,107.0 468.0,105.5 C465.8,104.0 464.1,102.6 463.5,100.0 C462.9,97.4 463.4,93.3 464.5,90.0 C465.6,86.7 467.8,83.2 470.0,80.0 C472.2,76.8 475.8,74.3 478.0,71.0 C480.2,67.7 481.6,62.9 483.4,60.2 C485.2,57.5 486.6,55.7 488.6,55.0Z" fill="#000" fill-opacity="0.95"/>
</g></g>
<path d="M486.5,71.4 C487.6,71.5 489.0,73.0 489.9,74.1 C490.8,75.2 491.3,76.3 491.6,78.1 C491.9,79.9 492.0,82.7 491.9,84.8 C491.8,86.9 491.6,89.0 491.2,90.9 C490.8,92.8 490.1,94.5 489.2,96.3 C488.3,98.1 487.2,100.3 485.9,101.6 C484.6,102.9 482.8,103.9 481.2,104.3 C479.6,104.7 478.0,104.4 476.4,103.7 C474.8,103.0 472.8,101.8 471.7,100.3 C470.6,98.8 470.1,96.8 470.0,94.9 C469.9,93.0 470.4,90.9 471.1,88.9 C471.8,86.9 473.1,84.7 474.4,82.8 C475.7,80.9 477.6,79.0 479.1,77.4 C480.6,75.8 482.0,74.4 483.2,73.4 C484.4,72.4 485.4,71.3 486.5,71.4Z" fill="#fff"/>
<path d="M486.4,72.6 C487.4,72.7 488.7,74.0 489.5,75.1 C490.3,76.1 490.8,77.1 491.1,78.7 C491.4,80.4 491.4,82.9 491.3,84.9 C491.3,86.9 491.1,88.7 490.7,90.5 C490.3,92.3 489.7,93.8 488.9,95.5 C488.1,97.1 487.1,99.1 485.8,100.4 C484.6,101.6 483.0,102.5 481.5,102.8 C480.0,103.2 478.5,102.9 477.1,102.3 C475.6,101.7 473.7,100.5 472.8,99.2 C471.8,97.8 471.3,95.9 471.2,94.2 C471.1,92.4 471.5,90.5 472.2,88.7 C472.9,86.8 474.0,84.8 475.2,83.1 C476.5,81.3 478.2,79.5 479.6,78.1 C480.9,76.6 482.2,75.3 483.3,74.4 C484.5,73.5 485.4,72.5 486.4,72.6Z" fill="#2a1a28" fill-opacity="0.00" stroke="#555" stroke-width="0.50"/>
<path d="M486.2,74.5 C487.1,74.6 488.2,75.7 488.9,76.6 C489.5,77.5 490.0,78.4 490.2,79.8 C490.5,81.2 490.5,83.4 490.5,85.1 C490.4,86.7 490.3,88.4 489.9,89.9 C489.5,91.4 489.0,92.7 488.3,94.1 C487.6,95.5 486.8,97.3 485.7,98.3 C484.7,99.4 483.2,100.2 482.0,100.5 C480.7,100.7 479.5,100.5 478.2,100.0 C477.0,99.5 475.3,98.5 474.5,97.3 C473.7,96.1 473.2,94.5 473.1,93.0 C473.1,91.5 473.4,89.9 474.0,88.3 C474.6,86.7 475.6,85.0 476.6,83.5 C477.7,82.0 479.2,80.4 480.3,79.2 C481.5,78.0 482.6,76.8 483.6,76.0 C484.6,75.3 485.3,74.4 486.2,74.5Z" fill="#2a1a28" fill-opacity="0.00" stroke="#555" stroke-width="0.50"/>
<path d="M486.0,76.4 C486.7,76.4 487.7,77.4 488.2,78.1 C488.8,78.9 489.1,79.6 489.4,80.8 C489.6,82.0 489.6,83.8 489.6,85.2 C489.5,86.6 489.4,88.0 489.1,89.2 C488.8,90.5 488.4,91.6 487.8,92.8 C487.2,94.0 486.5,95.4 485.6,96.3 C484.7,97.2 483.5,97.8 482.5,98.1 C481.4,98.3 480.4,98.1 479.3,97.7 C478.3,97.2 476.9,96.4 476.2,95.4 C475.5,94.5 475.2,93.1 475.1,91.9 C475.0,90.6 475.3,89.2 475.8,87.9 C476.3,86.6 477.1,85.2 478.0,83.9 C478.9,82.6 480.1,81.4 481.1,80.3 C482.1,79.3 483.0,78.3 483.8,77.7 C484.6,77.0 485.3,76.3 486.0,76.4Z" fill="#2a1a28" fill-opacity="0.00" stroke="#555" stroke-width="0.50"/>
<path d="M482.9,80.4 C484.1,80.6 486.8,81.7 487.7,83.0 C488.6,84.4 488.3,86.5 488.2,88.3 C488.1,90.0 487.8,92.3 487.2,93.5 C486.5,94.7 485.6,95.3 484.5,95.6 C483.4,95.9 481.8,95.8 480.8,95.1 C479.9,94.4 479.0,92.9 478.7,91.4 C478.5,89.9 478.9,87.7 479.3,86.2 C479.6,84.6 480.2,82.9 480.8,81.9 C481.4,81.0 481.8,80.2 482.9,80.4Z" fill="#4a3a48"/>
<path d="M483.0,81.3 C484.1,81.5 486.5,82.5 487.3,83.7 C488.1,84.9 487.8,86.8 487.7,88.4 C487.6,90.0 487.4,92.0 486.8,93.1 C486.3,94.2 485.4,94.8 484.4,95.0 C483.5,95.2 482.0,95.1 481.1,94.5 C480.3,93.9 479.5,92.5 479.2,91.2 C479.0,89.9 479.4,87.9 479.7,86.5 C480.0,85.1 480.6,83.6 481.1,82.7 C481.7,81.8 482.0,81.1 483.0,81.3Z" fill="#1a0a18" fill-opacity="0.12" stroke="#2a1a28" stroke-width="0.50"/>
<path d="M483.2,83.1 C484.0,83.2 485.9,84.1 486.5,85.0 C487.1,85.9 486.9,87.4 486.9,88.6 C486.8,89.9 486.6,91.4 486.1,92.3 C485.7,93.1 485.0,93.6 484.3,93.8 C483.6,94.0 482.4,93.9 481.7,93.4 C481.1,92.9 480.4,91.9 480.2,90.8 C480.1,89.8 480.4,88.3 480.6,87.2 C480.9,86.1 481.3,84.9 481.7,84.2 C482.2,83.5 482.4,83.0 483.2,83.1Z" fill="#1a0a18" fill-opacity="0.12" stroke="#2a1a28" stroke-width="0.50"/>
<path d="M483.4,84.9 C483.9,85.0 485.3,85.6 485.7,86.3 C486.2,86.9 486.0,88.0 486.0,88.9 C485.9,89.8 485.8,90.9 485.5,91.5 C485.2,92.1 484.7,92.4 484.1,92.5 C483.6,92.7 482.8,92.6 482.3,92.3 C481.8,91.9 481.4,91.2 481.3,90.4 C481.1,89.7 481.4,88.6 481.5,87.8 C481.7,87.0 482.0,86.2 482.3,85.7 C482.6,85.2 482.8,84.9 483.4,84.9Z" fill="#1a0a18" fill-opacity="0.12" stroke="#2a1a28" stroke-width="0.50"/>
<path d="M483.5,86.8 C483.9,86.8 484.7,87.2 485.0,87.6 C485.2,88.0 485.1,88.6 485.1,89.1 C485.1,89.7 485.0,90.3 484.8,90.7 C484.6,91.1 484.3,91.3 484.0,91.3 C483.7,91.4 483.2,91.4 482.9,91.2 C482.6,91.0 482.4,90.5 482.3,90.1 C482.2,89.6 482.3,89.0 482.4,88.5 C482.5,88.0 482.7,87.5 482.9,87.2 C483.1,86.9 483.2,86.7 483.5,86.8Z" fill="#1a0a18" fill-opacity="0.12" stroke="#2a1a28" stroke-width="0.50"/>
<ellipse cx="483.8" cy="89.8" rx="1.2" ry="0.8" fill="#999"/>
<clipPath id="c5"><rect x="44.4" y="161.2" width="88.7" height="89.2"/></clipPath>
<g clip-path="url(#c5)"><g filter="url(#s1)">
<path d="M48.0,168.0 C55.0,154.3 78.8,164.0 90.0,164.0 C101.2,164.0 110.0,158.7 115.0,168.0 C120.0,177.3 121.7,208.0 120.0,220.0 C118.3,232.0 110.8,235.3 105.0,240.0 C99.2,244.7 94.5,247.0 85.0,248.0 C75.5,249.0 54.2,259.3 48.0,246.0 C41.8,232.7 41.0,181.7 48.0,168.0Z" fill="#000" fill-opacity="0.13"/>
<path d="M54.0,178.0 C55.9,174.6 58.4,172.3 61.5,170.5 C64.6,168.8 69.0,168.0 72.7,167.7 C76.5,167.4 80.2,168.2 83.9,168.7 C87.7,169.2 91.8,169.6 95.2,170.5 C98.6,171.5 102.0,172.5 104.5,174.3 C106.9,176.2 108.7,178.4 110.1,181.8 C111.5,185.2 112.6,190.5 112.9,194.8 C113.2,199.2 112.5,204.2 112.0,207.9 C111.6,211.7 111.3,215.1 110.1,217.3 C108.8,219.5 106.6,221.0 104.5,221.0 C102.3,221.0 99.5,219.5 97.0,217.3 C94.5,215.1 91.6,210.7 89.6,207.9 C87.5,205.1 86.0,200.5 84.9,200.5 C83.8,200.5 83.7,204.8 83.1,207.9 C82.5,211.0 81.9,215.1 81.1,219.1 C80.3,223.2 79.7,228.5 78.3,232.2 C76.9,236.0 75.2,239.7 72.7,241.6 C70.2,243.5 66.2,244.4 63.4,243.4 C60.6,242.5 57.7,239.4 55.9,236.0 C54.0,232.6 53.1,227.6 52.2,222.9 C51.3,218.2 50.7,213.2 50.4,207.9 C50.1,202.6 49.7,196.2 50.4,191.2 C51.0,186.2 52.2,181.4 54.0,178.0Z" fill="#000" fill-opacity="0.30"/>
<path d="M56.1,180.0 C57.8,176.8 60.1,174.7 63.0,173.1 C65.9,171.5 69.9,170.8 73.4,170.5 C76.9,170.2 80.3,171.0 83.8,171.4 C87.3,171.8 91.0,172.2 94.2,173.1 C97.4,174.0 100.5,174.9 102.8,176.6 C105.1,178.3 106.7,180.3 108.0,183.5 C109.3,186.7 110.3,191.6 110.6,195.6 C110.9,199.6 110.2,204.2 109.8,207.7 C109.4,211.2 109.2,214.4 108.0,216.4 C106.8,218.4 104.8,219.8 102.8,219.8 C100.8,219.8 98.2,218.4 95.9,216.4 C93.6,214.4 90.9,210.3 89.0,207.7 C87.1,205.1 85.7,200.8 84.7,200.8 C83.7,200.8 83.6,204.8 83.0,207.7 C82.4,210.6 81.9,214.3 81.2,218.1 C80.5,221.8 79.9,226.7 78.6,230.2 C77.3,233.7 75.7,237.2 73.4,238.9 C71.1,240.6 67.4,241.5 64.8,240.6 C62.2,239.7 59.5,236.9 57.8,233.7 C56.1,230.5 55.2,225.9 54.4,221.6 C53.5,217.3 53.0,212.6 52.7,207.7 C52.4,202.8 52.1,196.8 52.7,192.2 C53.3,187.6 54.4,183.2 56.1,180.0Z" fill="#000" fill-opacity="0.66"/>
<path d="M56.0,180.0 C59.2,172.3 68.5,173.0 75.0,172.0 C81.5,171.0 89.7,172.0 95.0,174.0 C100.3,176.0 104.7,178.8 107.0,184.0 C109.3,189.2 109.7,199.5 109.0,205.0 C108.3,210.5 105.3,215.5 103.0,217.0 C100.7,218.5 97.5,216.5 95.0,214.0 C92.5,211.5 90.2,202.7 88.0,202.0 C85.8,201.3 83.5,207.3 82.0,210.0 C80.5,212.7 83.3,216.7 79.0,218.0 C74.7,219.3 59.8,224.3 56.0,218.0 C52.2,211.7 52.8,187.7 56.0,180.0Z" fill="#000" fill-opacity="0.80"/>
</g></g>
<path d="M61.3,187.0 C61.9,184.0 63.1,182.2 64.8,180.9 C66.5,179.6 69.4,179.2 71.7,179.2 C74.0,179.2 76.9,180.2 78.6,180.9 C80.3,181.6 80.6,183.1 82.1,183.5 C83.5,183.9 85.0,183.2 87.3,183.5 C89.6,183.8 93.2,184.0 95.9,185.2 C98.6,186.3 101.8,188.1 103.7,190.4 C105.6,192.7 106.8,196.2 107.2,199.1 C107.6,202.0 107.0,205.4 106.3,207.7 C105.6,210.0 104.2,212.0 102.8,212.9 C101.4,213.8 99.3,213.8 97.7,212.9 C96.1,212.0 94.8,210.0 93.3,207.7 C91.8,205.4 90.3,201.5 89.0,199.1 C87.7,196.7 86.7,194.4 85.5,193.0 C84.3,191.6 83.1,190.2 82.1,190.4 C81.1,190.6 79.9,191.9 79.5,193.9 C79.1,195.9 79.8,199.9 79.5,202.5 C79.2,205.1 78.7,207.9 77.7,209.5 C76.7,211.1 75.1,211.8 73.4,212.1 C71.7,212.4 69.1,211.9 67.4,211.2 C65.7,210.5 64.0,209.7 63.0,207.7 C62.0,205.7 61.6,202.5 61.3,199.1 C61.0,195.7 60.7,190.0 61.3,187.0Z" fill="#fff"/>
<path d="M62.6,188.3 C63.2,185.7 64.2,183.6 65.7,182.3 C67.2,181.1 69.7,180.9 71.7,180.9 C73.6,180.9 76.2,181.3 77.5,182.5 C78.8,183.8 79.1,186.0 79.2,188.3 C79.4,190.5 78.6,193.6 78.5,196.0 C78.3,198.4 78.5,200.6 78.2,202.7 C77.9,204.8 77.5,207.2 76.5,208.4 C75.6,209.7 73.9,210.2 72.4,210.4 C70.9,210.5 69.0,210.1 67.6,209.4 C66.2,208.7 64.9,208.0 64.1,206.0 C63.2,204.1 62.6,200.8 62.3,197.9 C62.1,194.9 62.1,190.9 62.6,188.3Z" fill="none" stroke="#2a2a2a" stroke-width="0.65"/>
<path d="M63.9,189.4 C64.4,187.2 65.2,185.5 66.5,184.4 C67.8,183.4 69.8,183.2 71.5,183.2 C73.1,183.3 75.3,183.6 76.3,184.6 C77.4,185.6 77.6,187.5 77.8,189.4 C77.9,191.3 77.3,193.8 77.1,195.8 C77.0,197.8 77.2,199.7 76.9,201.4 C76.6,203.1 76.3,205.1 75.5,206.2 C74.7,207.3 73.3,207.7 72.1,207.8 C70.9,207.9 69.3,207.6 68.1,207.0 C66.9,206.4 65.9,205.8 65.1,204.2 C64.4,202.6 63.9,199.9 63.7,197.4 C63.5,194.9 63.5,191.6 63.9,189.4Z" fill="none" stroke="#2a2a2a" stroke-width="0.65"/>
<ellipse cx="70.5" cy="186.5" rx="3.2" ry="2.6" fill="none" stroke="#2a2a2a" stroke-width="0.6"/>
<ellipse cx="70.5" cy="186.5" rx="1.6" ry="1.3" fill="none" stroke="#2a2a2a" stroke-width="0.6"/>
<ellipse cx="70.5" cy="192.5" rx="3.2" ry="2.6" fill="none" stroke="#2a2a2a" stroke-width="0.6"/>
<ellipse cx="70.5" cy="192.5" rx="1.6" ry="1.3" fill="none" stroke="#2a2a2a" stroke-width="0.6"/>
<ellipse cx="70.5" cy="198.5" rx="3.2" ry="2.6" fill="none" stroke="#2a2a2a" stroke-width="0.6"/>
<ellipse cx="70.5" cy="198.5" rx="1.6" ry="1.3" fill="none" stroke="#2a2a2a" stroke-width="0.6"/>
<path d="M88.0,187.1 C89.3,186.3 93.4,186.8 95.8,187.6 C98.2,188.3 100.6,189.8 102.3,191.7 C103.9,193.6 105.0,196.7 105.5,199.1 C105.9,201.5 105.6,204.1 105.0,206.0 C104.4,207.9 103.2,209.8 102.1,210.6 C100.9,211.3 99.3,211.3 97.9,210.6 C96.6,209.8 95.2,207.9 94.0,206.0 C92.8,204.1 91.7,201.3 90.8,199.1 C89.8,196.9 88.6,194.6 88.2,192.6 C87.7,190.6 86.7,188.0 88.0,187.1Z" fill="none" stroke="#2e2e2e" stroke-width="0.60"/>
<path d="M89.9,189.2 C90.9,188.5 94.4,189.0 96.4,189.6 C98.4,190.3 100.4,191.5 101.8,193.1 C103.1,194.7 104.1,197.2 104.5,199.2 C104.9,201.2 104.6,203.4 104.1,205.0 C103.6,206.6 102.6,208.2 101.6,208.8 C100.6,209.5 99.3,209.5 98.2,208.8 C97.0,208.2 95.9,206.6 94.9,205.0 C93.9,203.4 93.0,201.1 92.2,199.2 C91.4,197.4 90.4,195.5 90.0,193.9 C89.6,192.2 88.8,190.0 89.9,189.2Z" fill="none" stroke="#2e2e2e" stroke-width="0.60"/>
<path d="M91.8,191.4 C92.6,190.8 95.4,191.2 97.0,191.7 C98.6,192.2 100.2,193.2 101.3,194.5 C102.4,195.7 103.2,197.8 103.5,199.4 C103.8,201.0 103.5,202.7 103.2,204.0 C102.8,205.3 102.0,206.6 101.2,207.1 C100.4,207.6 99.3,207.6 98.4,207.1 C97.5,206.6 96.6,205.3 95.8,204.0 C95.0,202.7 94.3,200.9 93.6,199.4 C93.0,197.9 92.2,196.4 91.9,195.1 C91.6,193.7 90.9,191.9 91.8,191.4Z" fill="none" stroke="#2e2e2e" stroke-width="0.60"/>
<path d="M93.6,193.5 C94.3,193.1 96.4,193.3 97.6,193.7 C98.8,194.1 100.0,194.9 100.8,195.8 C101.7,196.8 102.2,198.3 102.5,199.5 C102.7,200.7 102.5,202.0 102.2,203.0 C101.9,204.0 101.3,204.9 100.7,205.3 C100.2,205.7 99.3,205.7 98.7,205.3 C98.0,204.9 97.3,204.0 96.7,203.0 C96.1,202.0 95.5,200.7 95.0,199.5 C94.6,198.4 94.0,197.3 93.7,196.3 C93.5,195.3 93.0,193.9 93.6,193.5Z" fill="none" stroke="#2e2e2e" stroke-width="0.60"/>
<path d="M95.5,195.6 C96.0,195.3 97.4,195.5 98.2,195.8 C99.0,196.0 99.8,196.5 100.4,197.2 C100.9,197.8 101.3,198.9 101.5,199.7 C101.6,200.5 101.5,201.4 101.3,202.0 C101.1,202.7 100.7,203.3 100.3,203.6 C99.9,203.8 99.4,203.8 98.9,203.6 C98.4,203.3 98.0,202.7 97.6,202.0 C97.2,201.4 96.8,200.4 96.5,199.7 C96.1,198.9 95.7,198.2 95.6,197.5 C95.4,196.8 95.1,195.9 95.5,195.6Z" fill="none" stroke="#2e2e2e" stroke-width="0.60"/>
<path d="M97.4,197.8 C97.6,197.6 98.4,197.7 98.8,197.8 C99.2,198.0 99.6,198.2 99.9,198.6 C100.2,198.9 100.4,199.4 100.5,199.8 C100.5,200.3 100.5,200.7 100.4,201.0 C100.3,201.4 100.1,201.7 99.9,201.8 C99.7,202.0 99.4,202.0 99.1,201.8 C98.9,201.7 98.7,201.4 98.5,201.0 C98.2,200.7 98.1,200.2 97.9,199.8 C97.7,199.5 97.5,199.1 97.4,198.7 C97.4,198.4 97.2,197.9 97.4,197.8Z" fill="none" stroke="#2e2e2e" stroke-width="0.60"/>
<circle cx="99.4" cy="200.5" r="1" fill="#fff"/>
<clipPath id="c6"><rect x="171.4" y="160.4" width="88.8" height="88.7"/></clipPath>
<g clip-path="url(#c6)"><g filter="url(#s1)">
<ellipse cx="212.0" cy="210.0" rx="46.0" ry="34.0" fill="url(#gB)" fill-opacity="1.00"/>
<ellipse cx="204.0" cy="211.0" rx="24.0" ry="20.0" fill="url(#gA)" fill-opacity="0.85"/>
<path d="M206.9,209.9 C207.6,208.4 211.4,205.8 214.2,203.9 C217.0,202.0 220.7,199.9 223.4,198.4 C226.2,196.9 229.0,195.8 230.9,195.2 C232.7,194.6 233.4,194.1 234.6,194.8 C235.8,195.5 237.4,197.3 238.2,199.2 C239.0,201.2 239.5,204.1 239.6,206.7 C239.8,209.3 239.6,212.5 239.2,215.0 C238.7,217.4 238.0,219.6 236.9,221.4 C235.8,223.3 234.3,225.1 232.7,226.0 C231.1,226.9 229.0,227.4 227.2,227.0 C225.3,226.5 223.6,224.8 221.6,223.2 C219.6,221.7 217.2,219.4 215.2,217.7 C213.2,216.0 211.0,214.5 209.6,213.2 C208.3,211.9 206.1,211.5 206.9,209.9Z" fill="#000" fill-opacity="1.00"/>
</g></g>
<path d="M210.4,210.1 C211.0,208.8 214.2,206.7 216.5,205.1 C218.8,203.5 221.9,201.7 224.2,200.5 C226.5,199.3 228.8,198.3 230.4,197.8 C232.0,197.3 232.5,196.9 233.5,197.5 C234.5,198.1 235.8,199.5 236.5,201.2 C237.2,202.8 237.6,205.2 237.7,207.4 C237.8,209.6 237.7,212.2 237.3,214.3 C236.9,216.4 236.3,218.2 235.4,219.7 C234.5,221.2 233.2,222.7 231.9,223.5 C230.6,224.3 228.8,224.7 227.3,224.3 C225.8,223.9 224.4,222.5 222.7,221.2 C221.0,219.9 219.0,218.0 217.3,216.6 C215.6,215.2 213.8,213.9 212.7,212.8 C211.5,211.7 209.8,211.4 210.4,210.1Z" fill="#fff"/>
<path d="M219.0,210.3 C219.4,209.5 221.3,208.1 222.8,207.2 C224.2,206.2 226.1,205.1 227.5,204.3 C229.0,203.5 230.4,202.9 231.4,202.6 C232.3,202.3 232.7,202.1 233.3,202.4 C233.9,202.8 234.7,203.7 235.2,204.7 C235.6,205.8 235.8,207.2 235.9,208.6 C236.0,209.9 235.9,211.6 235.7,212.9 C235.4,214.1 235.0,215.3 234.5,216.2 C233.9,217.2 233.2,218.1 232.3,218.6 C231.5,219.0 230.4,219.3 229.5,219.1 C228.5,218.8 227.6,217.9 226.6,217.1 C225.6,216.3 224.3,215.1 223.3,214.3 C222.2,213.4 221.1,212.6 220.4,211.9 C219.7,211.3 218.6,211.0 219.0,210.3Z" fill="#2a1a28" fill-opacity="0.00" stroke="#444" stroke-width="0.55"/>
<path d="M221.7,210.3 C222.0,209.7 223.6,208.6 224.8,207.8 C225.9,207.0 227.4,206.1 228.6,205.5 C229.8,204.9 230.9,204.4 231.7,204.2 C232.5,203.9 232.7,203.7 233.2,204.0 C233.8,204.3 234.4,205.0 234.8,205.8 C235.1,206.7 235.3,207.9 235.3,208.9 C235.4,210.0 235.3,211.4 235.2,212.4 C235.0,213.4 234.6,214.3 234.2,215.1 C233.8,215.9 233.1,216.6 232.4,217.0 C231.8,217.4 230.9,217.6 230.2,217.4 C229.4,217.2 228.7,216.5 227.8,215.8 C227.0,215.2 226.0,214.2 225.2,213.6 C224.3,212.9 223.4,212.2 222.8,211.7 C222.3,211.1 221.4,210.9 221.7,210.3Z" fill="#2a1a28" fill-opacity="0.00" stroke="#444" stroke-width="0.55"/>
<path d="M223.5,208.2 C223.7,206.5 223.8,204.8 225.0,203.5 C226.2,202.2 228.7,200.3 230.4,200.1 C232.1,199.8 234.0,200.8 235.0,202.0 C236.0,203.2 236.1,205.3 236.2,207.4 C236.3,209.5 236.2,212.2 235.8,214.3 C235.4,216.4 234.5,218.4 233.5,219.7 C232.5,221.0 230.9,222.1 229.6,222.0 C228.3,221.9 226.8,220.3 225.8,218.9 C224.8,217.5 224.2,215.3 223.8,213.5 C223.4,211.7 223.3,209.9 223.5,208.2Z" fill="#6a5a68"/>
<path d="M224.1,208.4 C224.3,206.9 224.4,205.3 225.5,204.1 C226.6,202.8 228.9,201.2 230.5,200.9 C232.0,200.7 233.8,201.6 234.7,202.7 C235.6,203.8 235.7,205.8 235.8,207.6 C235.9,209.5 235.8,212.1 235.4,214.0 C235.0,215.9 234.3,217.8 233.3,219.0 C232.4,220.1 230.9,221.2 229.7,221.1 C228.5,221.0 227.1,219.5 226.2,218.2 C225.3,216.9 224.7,214.9 224.4,213.3 C224.0,211.6 223.9,209.9 224.1,208.4Z" fill="#2a1a28" fill-opacity="0.10" stroke="#2a1a28" stroke-width="0.55"/>
<path d="M225.4,208.8 C225.6,207.5 225.7,206.2 226.5,205.2 C227.4,204.2 229.3,202.9 230.6,202.7 C231.9,202.5 233.3,203.2 234.1,204.1 C234.8,205.0 234.9,206.6 235.0,208.2 C235.1,209.7 235.0,211.8 234.7,213.4 C234.3,214.9 233.7,216.5 232.9,217.4 C232.2,218.4 231.0,219.3 230.0,219.2 C229.0,219.1 227.9,217.9 227.1,216.8 C226.4,215.8 225.9,214.1 225.6,212.8 C225.3,211.4 225.3,210.0 225.4,208.8Z" fill="#2a1a28" fill-opacity="0.10" stroke="#2a1a28" stroke-width="0.55"/>
<path d="M226.7,209.2 C226.8,208.2 226.9,207.2 227.6,206.4 C228.2,205.6 229.8,204.6 230.7,204.4 C231.7,204.3 232.9,204.8 233.4,205.5 C234.0,206.2 234.0,207.5 234.1,208.7 C234.2,209.9 234.2,211.5 233.9,212.7 C233.6,213.9 233.2,215.1 232.5,215.9 C231.9,216.6 231.0,217.3 230.3,217.2 C229.5,217.1 228.6,216.2 228.0,215.4 C227.5,214.6 227.1,213.3 226.9,212.3 C226.6,211.2 226.6,210.1 226.7,209.2Z" fill="#2a1a28" fill-opacity="0.10" stroke="#2a1a28" stroke-width="0.55"/>
<path d="M228.0,209.5 C228.1,208.8 228.1,208.1 228.6,207.6 C229.1,207.0 230.2,206.3 230.9,206.2 C231.6,206.1 232.4,206.4 232.8,207.0 C233.2,207.5 233.2,208.3 233.3,209.2 C233.3,210.1 233.3,211.2 233.1,212.1 C232.9,212.9 232.6,213.8 232.2,214.3 C231.7,214.9 231.1,215.4 230.5,215.3 C230.0,215.2 229.3,214.6 228.9,214.0 C228.5,213.4 228.3,212.5 228.1,211.8 C228.0,211.0 227.9,210.2 228.0,209.5Z" fill="#2a1a28" fill-opacity="0.10" stroke="#2a1a28" stroke-width="0.55"/>
<path d="M229.3,209.9 C229.3,209.5 229.4,209.1 229.6,208.8 C229.9,208.4 230.6,208.0 231.0,207.9 C231.4,207.8 231.9,208.1 232.1,208.4 C232.4,208.7 232.4,209.2 232.4,209.7 C232.5,210.2 232.5,210.9 232.3,211.4 C232.2,212.0 232.0,212.5 231.8,212.8 C231.5,213.1 231.1,213.4 230.8,213.4 C230.5,213.3 230.1,213.0 229.8,212.6 C229.6,212.2 229.4,211.7 229.3,211.2 C229.3,210.8 229.2,210.3 229.3,209.9Z" fill="#2a1a28" fill-opacity="0.10" stroke="#2a1a28" stroke-width="0.55"/>
<ellipse cx="231.2" cy="210.1" rx="0.8" ry="1.2" fill="#aaa"/>
<clipPath id="c7"><rect x="301.9" y="160.2" width="88.9" height="88.7"/></clipPath>
<g clip-path="url(#c7)"><g filter="url(#s1)">
<path d="M303.0,161.0 C309.5,146.7 330.5,158.2 342.0,161.0 C353.5,163.8 366.7,170.7 372.0,178.0 C377.3,185.3 376.0,198.8 374.0,205.0 C372.0,211.2 365.3,208.3 360.0,215.0 C354.7,221.7 351.5,239.7 342.0,245.0 C332.5,250.3 309.5,261.0 303.0,247.0 C296.5,233.0 296.5,175.3 303.0,161.0Z" fill="#000" fill-opacity="0.20"/>
<path d="M306.0,173.9 C307.3,171.1 310.0,170.6 313.4,170.1 C316.8,169.7 322.7,170.6 326.4,171.1 C330.1,171.6 332.9,172.3 335.6,172.9 C338.4,173.5 340.2,174.0 343.0,174.7 C345.8,175.5 349.2,176.7 352.3,177.5 C355.4,178.3 359.1,178.5 361.5,179.5 C364.0,180.4 365.5,181.2 367.1,183.1 C368.7,184.9 370.5,188.4 370.8,190.6 C371.2,192.7 370.3,194.5 369.0,196.0 C367.8,197.6 365.9,199.2 363.5,199.8 C361.0,200.4 356.9,200.2 354.2,199.8 C351.4,199.3 348.8,197.3 346.8,197.0 C344.8,196.7 343.2,196.6 342.2,198.0 C341.1,199.4 341.0,202.3 340.4,205.3 C339.7,208.4 339.0,212.8 338.4,216.5 C337.8,220.2 337.2,224.2 336.6,227.6 C336.0,231.0 335.6,234.2 334.7,236.8 C333.8,239.4 333.0,242.1 331.0,243.3 C329.0,244.6 325.5,244.5 322.7,244.2 C319.9,243.9 316.7,243.2 314.3,241.4 C312.0,239.6 310.0,237.0 308.8,233.2 C307.6,229.3 307.4,223.2 307.0,218.3 C306.5,213.4 306.2,208.8 306.0,203.5 C305.8,198.3 305.7,191.8 305.7,186.8 C305.7,181.9 304.7,176.7 306.0,173.9Z" fill="#000" fill-opacity="0.35"/>
<path d="M307.9,175.6 C309.1,173.0 311.6,172.5 314.8,172.1 C318.0,171.7 323.5,172.6 327.0,173.0 C330.5,173.4 333.0,174.1 335.6,174.7 C338.2,175.3 339.9,175.7 342.5,176.4 C345.1,177.1 348.3,178.3 351.2,179.0 C354.1,179.7 357.5,179.9 359.8,180.8 C362.1,181.7 363.6,182.5 365.0,184.2 C366.4,185.9 368.2,189.2 368.5,191.2 C368.8,193.2 367.9,194.9 366.8,196.3 C365.7,197.7 363.9,199.2 361.6,199.8 C359.3,200.4 355.5,200.2 352.9,199.8 C350.3,199.4 347.9,197.5 346.0,197.2 C344.1,196.9 342.7,196.8 341.7,198.1 C340.7,199.4 340.6,202.1 340.0,205.0 C339.4,207.9 338.8,211.9 338.2,215.4 C337.6,218.9 337.1,222.6 336.5,225.8 C335.9,229.0 335.6,232.0 334.7,234.4 C333.8,236.8 333.2,239.3 331.3,240.5 C329.4,241.7 326.1,241.6 323.5,241.3 C320.9,241.0 317.9,240.4 315.7,238.7 C313.5,237.0 311.6,234.6 310.5,231.0 C309.4,227.4 309.2,221.7 308.8,217.1 C308.4,212.5 308.1,208.2 307.9,203.3 C307.7,198.4 307.6,192.3 307.6,187.7 C307.6,183.1 306.7,178.2 307.9,175.6Z" fill="#000" fill-opacity="0.90"/>
<path d="M303.0,161.0 C309.0,158.2 333.8,158.5 340.0,161.0 C346.2,163.5 346.0,173.2 340.0,176.0 C334.0,178.8 310.2,180.5 304.0,178.0 C297.8,175.5 297.0,163.8 303.0,161.0Z" fill="#000" fill-opacity="0.55"/>
<path d="M342.0,198.0 C344.8,195.8 355.2,196.7 360.0,197.0 C364.8,197.3 370.0,197.5 371.0,200.0 C372.0,202.5 369.5,209.7 366.0,212.0 C362.5,214.3 353.8,214.3 350.0,214.0 C346.2,213.7 344.3,212.7 343.0,210.0 C341.7,207.3 339.2,200.2 342.0,198.0Z" fill="#000" fill-opacity="0.30"/>
</g></g>
<path d="M313.1,189.4 C314.1,187.5 316.0,184.7 318.3,183.4 C320.6,182.1 324.1,181.8 327.0,181.6 C329.9,181.4 333.7,181.8 335.6,182.5 C337.5,183.2 337.8,184.0 338.2,186.0 C338.6,188.0 338.8,191.2 338.2,194.6 C337.6,198.0 336.3,202.9 334.7,206.7 C333.1,210.4 330.4,214.6 328.7,217.1 C327.0,219.6 325.7,221.2 324.4,221.4 C323.1,221.6 322.3,219.9 320.9,218.0 C319.4,216.1 317.0,212.9 315.7,210.2 C314.4,207.4 313.4,204.1 312.8,201.5 C312.2,198.9 312.1,196.6 312.2,194.6 C312.2,192.6 312.1,191.3 313.1,189.4Z" fill="#fff"/>
<path d="M314.3,190.3 C315.3,188.6 316.9,186.0 319.0,184.9 C321.1,183.7 324.3,183.4 326.9,183.2 C329.4,183.1 332.9,183.4 334.6,184.1 C336.3,184.7 336.5,185.4 336.9,187.2 C337.3,189.0 337.5,191.8 336.9,194.9 C336.4,198.0 335.2,202.5 333.8,205.8 C332.4,209.2 329.9,213.0 328.4,215.2 C326.8,217.4 325.7,218.9 324.5,219.1 C323.3,219.2 322.7,217.7 321.4,216.0 C320.1,214.3 317.9,211.5 316.7,209.0 C315.5,206.5 314.6,203.5 314.1,201.2 C313.5,198.8 313.5,196.8 313.5,194.9 C313.6,193.1 313.4,191.9 314.3,190.3Z" fill="#2a1a28" fill-opacity="0.07" stroke="#1e1e1e" stroke-width="0.65"/>
<path d="M316.8,192.0 C317.5,190.7 318.8,188.7 320.4,187.8 C322.1,186.8 324.5,186.6 326.6,186.5 C328.6,186.4 331.3,186.6 332.6,187.1 C333.9,187.6 334.1,188.2 334.4,189.6 C334.7,191.0 334.8,193.2 334.4,195.6 C334.0,198.0 333.1,201.5 332.0,204.1 C330.8,206.7 329.0,209.7 327.7,211.4 C326.5,213.1 325.6,214.3 324.7,214.4 C323.8,214.5 323.3,213.3 322.3,212.0 C321.3,210.7 319.6,208.5 318.6,206.6 C317.7,204.6 317.0,202.3 316.6,200.5 C316.2,198.6 316.1,197.0 316.2,195.6 C316.2,194.2 316.1,193.3 316.8,192.0Z" fill="#2a1a28" fill-opacity="0.07" stroke="#1e1e1e" stroke-width="0.65"/>
<path d="M318.5,193.1 C319.1,192.1 320.1,190.5 321.4,189.7 C322.7,189.0 324.7,188.8 326.3,188.7 C328.0,188.6 330.2,188.8 331.2,189.2 C332.3,189.6 332.5,190.1 332.7,191.2 C332.9,192.3 333.0,194.1 332.7,196.1 C332.4,198.0 331.6,200.8 330.7,202.9 C329.8,205.1 328.3,207.4 327.3,208.8 C326.3,210.2 325.6,211.2 324.9,211.3 C324.1,211.3 323.7,210.4 322.9,209.3 C322.1,208.3 320.7,206.5 319.9,204.9 C319.2,203.4 318.6,201.5 318.3,200.0 C318.0,198.5 317.9,197.2 318.0,196.1 C318.0,194.9 317.9,194.2 318.5,193.1Z" fill="#2a1a28" fill-opacity="0.07" stroke="#1e1e1e" stroke-width="0.65"/>
<path d="M319.9,194.1 C320.4,193.3 321.2,192.0 322.3,191.5 C323.3,190.9 324.9,190.7 326.2,190.7 C327.5,190.6 329.2,190.7 330.0,191.1 C330.9,191.4 331.0,191.7 331.2,192.6 C331.4,193.5 331.5,194.9 331.2,196.5 C330.9,198.0 330.3,200.2 329.6,201.9 C328.9,203.6 327.7,205.5 326.9,206.6 C326.2,207.7 325.6,208.4 325.0,208.5 C324.4,208.6 324.1,207.8 323.4,207.0 C322.8,206.1 321.7,204.7 321.1,203.5 C320.5,202.2 320.1,200.7 319.8,199.6 C319.5,198.4 319.5,197.4 319.5,196.5 C319.6,195.6 319.5,195.0 319.9,194.1Z" fill="#2a1a28" fill-opacity="0.07" stroke="#1e1e1e" stroke-width="0.65"/>
<path d="M321.3,195.1 C321.6,194.4 322.3,193.5 323.1,193.0 C323.8,192.6 325.0,192.5 326.0,192.4 C327.0,192.4 328.3,192.5 328.9,192.7 C329.6,193.0 329.7,193.2 329.8,193.9 C330.0,194.6 330.0,195.7 329.8,196.8 C329.6,198.0 329.2,199.7 328.6,201.0 C328.1,202.2 327.2,203.6 326.6,204.5 C326.0,205.3 325.6,205.9 325.1,205.9 C324.7,206.0 324.4,205.4 323.9,204.8 C323.4,204.2 322.6,203.1 322.2,202.1 C321.7,201.2 321.4,200.1 321.2,199.2 C321.0,198.3 321.0,197.5 321.0,196.8 C321.0,196.2 320.9,195.7 321.3,195.1Z" fill="#2a1a28" fill-opacity="0.07" stroke="#1e1e1e" stroke-width="0.65"/>
<path d="M322.6,196.0 C322.8,195.5 323.2,194.8 323.8,194.5 C324.3,194.2 325.2,194.1 325.9,194.1 C326.5,194.1 327.5,194.2 327.9,194.3 C328.3,194.5 328.4,194.7 328.5,195.2 C328.6,195.6 328.6,196.4 328.5,197.2 C328.4,198.0 328.1,199.2 327.7,200.1 C327.3,201.0 326.7,201.9 326.3,202.5 C325.9,203.1 325.5,203.5 325.2,203.5 C324.9,203.6 324.8,203.2 324.4,202.7 C324.1,202.3 323.5,201.5 323.2,200.9 C322.9,200.2 322.6,199.4 322.5,198.8 C322.4,198.2 322.3,197.7 322.3,197.2 C322.4,196.7 322.3,196.4 322.6,196.0Z" fill="#2a1a28" fill-opacity="0.07" stroke="#1e1e1e" stroke-width="0.65"/>
<path d="M323.8,196.8 C323.9,196.5 324.2,196.1 324.5,196.0 C324.8,195.8 325.3,195.7 325.7,195.7 C326.1,195.7 326.7,195.7 326.9,195.8 C327.2,195.9 327.2,196.0 327.3,196.3 C327.3,196.6 327.4,197.0 327.3,197.5 C327.2,198.0 327.0,198.7 326.8,199.2 C326.6,199.7 326.2,200.3 325.9,200.7 C325.7,201.0 325.5,201.3 325.3,201.3 C325.2,201.3 325.1,201.1 324.9,200.8 C324.7,200.5 324.3,200.1 324.1,199.7 C323.9,199.3 323.8,198.9 323.7,198.5 C323.6,198.1 323.6,197.8 323.6,197.5 C323.6,197.2 323.6,197.1 323.8,196.8Z" fill="#2a1a28" fill-opacity="0.07" stroke="#1e1e1e" stroke-width="0.65"/>
<circle cx="325.3" cy="198.8" r="1.1" fill="#fff"/>
<ellipse cx="357.2" cy="190.3" rx="3.6" ry="3.2" fill="#fff"/>
<path d="M450.5 190h.8m-3.3 1.5h.8m-9.8 1.5h.8m8.7 0h.8m-12.8 1h.8m6.7 0h.8m-6.8 .5h.8m1.7 0h.8m3.2 0h.8m1.2 0h.8m5.2 0h.8m-15.3 .5h.8m2.2 .5h.8m.2 0h.8m9.2 .5h.8m.2 0h.8m1.7 0h.8m3.2 0h.8m-12.8 1.5h.8m13.7 .5h.8m-16.3 .5h.8m8.7 0h.8m-14.3 .5h.8m-.8 0h.8m16.2 0h.8m-12.8 .5h.8m-9.8 .5h.8m3.7 0h.8m19.2 0h.8m-3.8 .5h.8m-23.3 .5h.8m25.2 0h.8m-21.3 1h.8m11.7 0h.8m-1.8 .5h.8m-.3 0h.8m10.2 0h.8m3.2 0h.8m-10.3 .5h.8m1.7 0h.8m-27.3 .5h.8m3.2 0h.8m.7 0h.8m7.7 .5h.8m3.7 0h.8m2.7 0h.8m-17.8 .5h.8m18.7 .5h.8m-18.3 .5h.8m.2 0h.8m6.7 0h.8m5.2 0h.8m-7.3 .5h.8m-8.8 1h.8m7.7 0h.8m-5.3 .5h.8m2.2 0h.8m9.2 0h.8m-.3 0h.8m-5.3 .5h.8m2.2 0h.8m-20.3 .5h.8m-.8 .5h.8m4.2 0h.8m13.7 0h.8m-18.3 .5h.8m9.2 0h.8m-8.8 1h.8m-3.8 1.5h.8m11.7 0h.8m-3.8 .5h.8m3.2 0h.8m7.7 1h.8m-24.3 .5h.8m20.7 .5h.8m-13.3 1h.8m1.2 0h.8m-7.8 .5h.8m2.7 2h.8m-7.8 2.5h.8" stroke="#333" stroke-width="0.80" opacity="0.90" transform="translate(0 0.40)"/>
<path d="M452.0,211.8 C453.4,211.1 456.1,211.1 458.2,210.6 C460.2,210.1 462.7,209.5 464.3,208.8 C465.9,208.1 466.7,207.9 468.0,206.3 C469.3,204.7 470.7,201.5 472.0,199.0 C473.3,196.5 474.8,193.8 476.0,191.5 C477.2,189.2 478.2,186.6 479.5,185.0 C480.8,183.4 482.4,182.4 484.0,182.2 C485.6,182.0 487.8,182.3 489.3,183.6 C490.8,184.9 492.0,187.4 493.2,190.0 C494.4,192.6 495.8,195.8 496.4,198.9 C497.0,202.0 497.2,205.7 497.0,208.8 C496.8,212.0 496.3,215.4 495.2,217.8 C494.1,220.2 492.4,221.8 490.5,223.2 C488.6,224.6 486.3,224.9 484.0,226.0 C481.7,227.1 479.5,228.4 476.6,229.7 C473.7,231.0 470.5,233.1 466.8,234.0 C463.1,234.9 458.2,235.3 454.5,235.4 C450.8,235.5 446.7,235.6 444.6,234.8 C442.5,234.1 442.2,232.4 442.0,230.9 C441.8,229.4 442.6,227.6 443.2,226.0 C443.8,224.4 444.8,222.9 445.8,221.1 C446.9,219.2 448.5,216.4 449.5,214.9 C450.5,213.4 450.6,212.5 452.0,211.8Z" fill="none" stroke="#222" stroke-width="0.7"/>
<path d="M446,224 C449,218 454,214 460,212.5 C465,211 468,208 470,204" fill="none" stroke="#222" stroke-width="0.65"/>
<path d="M466,227 C468,222 469,219 471,218" fill="none" stroke="#222" stroke-width="0.6"/>
<path d="M467.5,231 C475,228 482,226 488,223.5" fill="none" stroke="#222" stroke-width="0.6"/>
<path d="M484.0,182.9 C485.5,182.7 487.5,183.0 488.9,184.2 C490.3,185.4 491.5,187.9 492.6,190.3 C493.7,192.8 495.1,195.8 495.7,198.9 C496.3,202.0 496.5,205.7 496.3,208.8 C496.1,211.9 495.5,215.2 494.5,217.4 C493.5,219.7 491.9,221.2 490.2,222.3 C488.4,223.4 486.3,224.0 484.0,224.2 C481.7,224.4 478.7,224.2 476.6,223.5 C474.6,222.8 473.0,221.4 471.7,219.8 C470.4,218.2 469.0,215.9 468.6,213.7 C468.2,211.4 468.5,208.8 469.2,206.3 C469.9,203.8 471.7,201.4 472.9,198.9 C474.1,196.4 475.5,193.8 476.6,191.5 C477.7,189.2 478.5,186.8 479.7,185.4 C480.9,184.0 482.5,183.1 484.0,182.9Z" fill="#2a1a28" fill-opacity="0.00" stroke="#1f1220" stroke-width="0.70"/>
<path d="M483.9,184.2 C485.4,184.0 487.2,184.3 488.5,185.4 C489.9,186.6 491.0,188.9 492.0,191.2 C493.1,193.5 494.4,196.4 494.9,199.3 C495.5,202.2 495.7,205.7 495.5,208.6 C495.3,211.5 494.8,214.5 493.8,216.7 C492.9,218.8 491.4,220.2 489.8,221.3 C488.1,222.3 486.1,222.9 483.9,223.0 C481.8,223.2 478.9,223.1 477.0,222.4 C475.1,221.7 473.6,220.4 472.4,218.9 C471.1,217.4 469.9,215.3 469.5,213.2 C469.1,211.1 469.4,208.5 470.0,206.2 C470.7,203.9 472.3,201.6 473.5,199.3 C474.7,196.9 475.9,194.4 477.0,192.3 C478.0,190.2 478.7,187.9 479.9,186.6 C481.1,185.2 482.5,184.4 483.9,184.2Z" fill="#2a1a28" fill-opacity="0.00" stroke="#1f1220" stroke-width="0.70"/>
<path d="M483.9,185.6 C485.2,185.4 486.9,185.6 488.2,186.7 C489.5,187.8 490.5,189.9 491.4,192.1 C492.4,194.2 493.6,196.9 494.2,199.6 C494.7,202.3 494.9,205.6 494.7,208.3 C494.5,211.1 494.0,213.9 493.1,215.9 C492.2,217.9 490.9,219.2 489.3,220.2 C487.8,221.2 485.9,221.7 483.9,221.9 C481.9,222.1 479.2,221.9 477.4,221.3 C475.6,220.6 474.2,219.5 473.1,218.0 C471.9,216.6 470.7,214.6 470.3,212.7 C470.0,210.7 470.2,208.3 470.9,206.1 C471.5,204.0 473.0,201.8 474.1,199.6 C475.2,197.5 476.4,195.1 477.4,193.1 C478.4,191.1 479.0,189.0 480.1,187.8 C481.2,186.5 482.5,185.7 483.9,185.6Z" fill="#2a1a28" fill-opacity="0.00" stroke="#1f1220" stroke-width="0.70"/>
<path d="M482.9,190.1 C484.3,190.2 485.9,191.9 487.5,193.9 C489.1,195.9 491.6,199.1 492.3,202.3 C493.0,205.5 492.8,210.2 491.7,213.2 C490.5,216.1 487.9,218.7 485.5,219.9 C483.1,221.0 479.6,220.8 477.4,219.9 C475.1,219.0 473.1,216.5 472.0,214.5 C470.9,212.4 470.2,210.1 470.7,207.7 C471.1,205.2 473.4,202.1 474.7,199.6 C476.1,197.1 477.5,194.4 478.8,192.8 C480.2,191.2 481.4,189.9 482.9,190.1Z" fill="#2e1e2c"/>
<path d="M482.8,191.5 C484.1,191.7 485.6,193.2 487.0,195.0 C488.5,196.9 490.8,199.8 491.5,202.7 C492.1,205.7 491.9,210.0 490.9,212.7 C489.8,215.4 487.4,217.9 485.2,218.9 C483.0,219.9 479.8,219.7 477.7,218.9 C475.6,218.1 473.8,215.8 472.8,214.0 C471.7,212.1 471.1,210.0 471.5,207.7 C472.0,205.4 474.0,202.6 475.3,200.3 C476.5,198.0 477.8,195.5 479.0,194.0 C480.3,192.5 481.4,191.3 482.8,191.5Z" fill="#1a0a18" fill-opacity="0.14" stroke="#5a4a58" stroke-width="0.50"/>
<path d="M482.6,193.7 C483.8,193.9 485.0,195.2 486.3,196.8 C487.5,198.4 489.6,200.9 490.1,203.4 C490.7,206.0 490.5,209.8 489.6,212.1 C488.7,214.4 486.6,216.6 484.7,217.4 C482.8,218.3 480.0,218.2 478.2,217.4 C476.4,216.7 474.8,214.8 473.9,213.2 C473.0,211.5 472.5,209.7 472.9,207.7 C473.2,205.8 475.0,203.3 476.1,201.3 C477.2,199.4 478.3,197.2 479.4,195.9 C480.4,194.6 481.4,193.6 482.6,193.7Z" fill="#1a0a18" fill-opacity="0.14" stroke="#5a4a58" stroke-width="0.50"/>
<path d="M482.4,195.9 C483.4,196.1 484.5,197.2 485.5,198.5 C486.6,199.9 488.3,202.0 488.8,204.1 C489.3,206.3 489.1,209.5 488.3,211.5 C487.6,213.4 485.8,215.2 484.2,216.0 C482.6,216.7 480.2,216.6 478.7,216.0 C477.2,215.4 475.9,213.7 475.1,212.3 C474.4,211.0 473.9,209.4 474.2,207.8 C474.5,206.1 476.0,204.0 477.0,202.4 C477.9,200.7 478.8,198.9 479.7,197.8 C480.6,196.7 481.5,195.8 482.4,195.9Z" fill="#1a0a18" fill-opacity="0.14" stroke="#5a4a58" stroke-width="0.50"/>
<path d="M482.3,198.2 C483.0,198.3 483.9,199.2 484.8,200.3 C485.7,201.4 487.1,203.1 487.4,204.9 C487.8,206.6 487.7,209.2 487.1,210.8 C486.5,212.4 485.0,213.9 483.7,214.5 C482.4,215.1 480.5,215.0 479.2,214.5 C478.0,214.0 476.9,212.7 476.3,211.5 C475.7,210.4 475.3,209.2 475.6,207.8 C475.8,206.5 477.1,204.8 477.8,203.4 C478.5,202.1 479.3,200.5 480.0,199.7 C480.8,198.8 481.5,198.1 482.3,198.2Z" fill="#1a0a18" fill-opacity="0.14" stroke="#5a4a58" stroke-width="0.50"/>
<path d="M482.1,200.4 C482.7,200.5 483.4,201.2 484.0,202.0 C484.7,202.9 485.8,204.2 486.1,205.6 C486.4,206.9 486.3,208.9 485.8,210.2 C485.3,211.4 484.2,212.6 483.2,213.0 C482.2,213.5 480.7,213.4 479.8,213.0 C478.8,212.6 477.9,211.6 477.5,210.7 C477.0,209.9 476.7,208.9 476.9,207.9 C477.1,206.8 478.1,205.5 478.6,204.4 C479.2,203.4 479.8,202.2 480.4,201.6 C480.9,200.9 481.5,200.3 482.1,200.4Z" fill="#1a0a18" fill-opacity="0.14" stroke="#5a4a58" stroke-width="0.50"/>
<path d="M481.9,202.6 C482.3,202.7 482.8,203.2 483.3,203.8 C483.8,204.4 484.5,205.3 484.8,206.3 C485.0,207.2 484.9,208.7 484.6,209.5 C484.2,210.4 483.4,211.2 482.7,211.6 C482.0,211.9 480.9,211.8 480.3,211.6 C479.6,211.3 479.0,210.6 478.6,209.9 C478.3,209.3 478.1,208.6 478.3,207.9 C478.4,207.2 479.1,206.2 479.5,205.5 C479.9,204.7 480.3,203.9 480.7,203.4 C481.1,203.0 481.5,202.6 481.9,202.6Z" fill="#1a0a18" fill-opacity="0.14" stroke="#5a4a58" stroke-width="0.50"/>
<path d="M484.6,186.5 C485.6,186.1 486.9,187.8 487.5,189.0 C488.1,190.2 488.3,192.2 488.0,193.5 C487.7,194.8 486.4,196.6 485.5,197.0 C484.6,197.4 483.2,196.9 482.5,196.0 C481.8,195.1 481.1,193.1 481.5,191.5 C481.9,189.9 483.6,186.9 484.6,186.5Z" fill="#8a7a88" stroke="#333" stroke-width="0.5"/>
<ellipse cx="484.6" cy="191.5" rx="1.3" ry="2.0" fill="#fff"/>
<path d="M442.2,226.6 C443.1,225.6 445.2,225.5 448.3,225.4 C451.4,225.3 457.7,225.5 460.6,225.8 C463.5,226.1 464.6,226.5 465.5,227.2 C466.4,227.8 466.6,228.9 466.2,229.7 C465.8,230.5 465.7,231.7 463.1,232.2 C460.5,232.7 454.2,232.9 450.8,232.8 C447.4,232.7 444.2,232.5 442.8,231.5 C441.4,230.5 441.3,227.6 442.2,226.6Z" fill="#2a1a28" fill-opacity="0.00" stroke="#222" stroke-width="0.70"/>
<path d="M444.5,227.2 C445.3,226.5 446.9,226.4 449.3,226.3 C451.7,226.2 456.7,226.4 459.0,226.6 C461.2,226.9 462.1,227.2 462.8,227.7 C463.5,228.2 463.7,229.0 463.3,229.7 C463.0,230.3 462.9,231.2 460.9,231.6 C458.9,232.0 453.9,232.2 451.3,232.1 C448.6,232.0 446.1,231.9 445.0,231.1 C443.9,230.3 443.8,228.0 444.5,227.2Z" fill="#2a1a28" fill-opacity="0.00" stroke="#222" stroke-width="0.70"/>
<path d="M446.9,227.9 C447.4,227.3 448.6,227.3 450.3,227.2 C452.1,227.1 455.7,227.3 457.3,227.4 C458.9,227.6 459.6,227.9 460.1,228.2 C460.6,228.6 460.7,229.2 460.5,229.7 C460.3,230.1 460.2,230.8 458.7,231.1 C457.3,231.4 453.7,231.5 451.8,231.4 C449.8,231.3 448.0,231.3 447.2,230.7 C446.4,230.1 446.4,228.5 446.9,227.9Z" fill="#2a1a28" fill-opacity="0.00" stroke="#222" stroke-width="0.70"/>
<path d="M449.2,228.5 C449.5,228.2 450.3,228.2 451.4,228.1 C452.4,228.1 454.7,228.2 455.7,228.3 C456.7,228.4 457.0,228.5 457.4,228.8 C457.7,229.0 457.8,229.3 457.6,229.6 C457.5,229.9 457.4,230.3 456.5,230.5 C455.6,230.7 453.4,230.8 452.2,230.7 C451.0,230.7 449.9,230.6 449.4,230.3 C448.9,229.9 448.9,228.9 449.2,228.5Z" fill="#2a1a28" fill-opacity="0.00" stroke="#222" stroke-width="0.70"/>
<ellipse cx="453" cy="229.7" rx="2.4" ry="1.1" fill="#fff" stroke="#444" stroke-width="0.5"/>
<rect x="45.5" y="34.5" width="90.5" height="90.3" stroke="#6a6a6a" stroke-width="0.90" fill="none"/>
<line x1="45.5" y1="34.5" x2="45.5" y2="125.2" stroke="#222" stroke-width="1.00"/>
<line x1="45.1" y1="124.8" x2="136.0" y2="124.8" stroke="#222" stroke-width="1.00"/>
<line x1="63.0" y1="124.8" x2="63.0" y2="127.2" stroke="#222" stroke-width="0.90"/>
<line x1="43.1" y1="107.3" x2="45.5" y2="107.3" stroke="#222" stroke-width="0.90"/>
<text x="63.3" y="134.2" font-size="5.30" text-anchor="middle" font-weight="normal" fill="#555" >0</text>
<text x="41.9" y="109.2" font-size="5.30" text-anchor="end" font-weight="normal" fill="#555" >0</text>
<line x1="71.5" y1="124.8" x2="71.5" y2="127.2" stroke="#222" stroke-width="0.90"/>
<line x1="43.1" y1="98.8" x2="45.5" y2="98.8" stroke="#222" stroke-width="0.90"/>
<text x="71.8" y="134.2" font-size="5.30" text-anchor="middle" font-weight="normal" fill="#555" >10<tspan dy="-2" font-size="3.6">2</tspan></text>
<text x="41.9" y="100.7" font-size="5.30" text-anchor="end" font-weight="normal" fill="#555" >10<tspan dy="-2" font-size="3.6">2</tspan></text>
<line x1="91.5" y1="124.8" x2="91.5" y2="127.2" stroke="#222" stroke-width="0.90"/>
<line x1="43.1" y1="78.8" x2="45.5" y2="78.8" stroke="#222" stroke-width="0.90"/>
<text x="91.8" y="134.2" font-size="5.30" text-anchor="middle" font-weight="normal" fill="#555" >10<tspan dy="-2" font-size="3.6">3</tspan></text>
<text x="41.9" y="80.7" font-size="5.30" text-anchor="end" font-weight="normal" fill="#555" >10<tspan dy="-2" font-size="3.6">3</tspan></text>
<line x1="109.8" y1="124.8" x2="109.8" y2="127.2" stroke="#222" stroke-width="0.90"/>
<line x1="43.1" y1="60.5" x2="45.5" y2="60.5" stroke="#222" stroke-width="0.90"/>
<text x="110.1" y="134.2" font-size="5.30" text-anchor="middle" font-weight="normal" fill="#555" >10<tspan dy="-2" font-size="3.6">4</tspan></text>
<text x="41.9" y="62.4" font-size="5.30" text-anchor="end" font-weight="normal" fill="#555" >10<tspan dy="-2" font-size="3.6">4</tspan></text>
<line x1="128.1" y1="124.8" x2="128.1" y2="127.2" stroke="#222" stroke-width="0.90"/>
<line x1="43.1" y1="42.2" x2="45.5" y2="42.2" stroke="#222" stroke-width="0.90"/>
<text x="128.4" y="134.2" font-size="5.30" text-anchor="middle" font-weight="normal" fill="#555" >10<tspan dy="-2" font-size="3.6">5</tspan></text>
<text x="41.9" y="44.1" font-size="5.30" text-anchor="end" font-weight="normal" fill="#555" >10<tspan dy="-2" font-size="3.6">5</tspan></text>
<line x1="77.5" y1="124.8" x2="77.5" y2="126.2" stroke="#444" stroke-width="0.60"/>
<line x1="44.1" y1="92.8" x2="45.5" y2="92.8" stroke="#444" stroke-width="0.60"/>
<line x1="81.0" y1="124.8" x2="81.0" y2="126.2" stroke="#444" stroke-width="0.60"/>
<line x1="44.1" y1="89.3" x2="45.5" y2="89.3" stroke="#444" stroke-width="0.60"/>
<line x1="83.5" y1="124.8" x2="83.5" y2="126.2" stroke="#444" stroke-width="0.60"/>
<line x1="44.1" y1="86.8" x2="45.5" y2="86.8" stroke="#444" stroke-width="0.60"/>
<line x1="85.5" y1="124.8" x2="85.5" y2="126.2" stroke="#444" stroke-width="0.60"/>
<line x1="44.1" y1="84.8" x2="45.5" y2="84.8" stroke="#444" stroke-width="0.60"/>
<line x1="87.1" y1="124.8" x2="87.1" y2="126.2" stroke="#444" stroke-width="0.60"/>
<line x1="44.1" y1="83.2" x2="45.5" y2="83.2" stroke="#444" stroke-width="0.60"/>
<line x1="88.4" y1="124.8" x2="88.4" y2="126.2" stroke="#444" stroke-width="0.60"/>
<line x1="44.1" y1="81.9" x2="45.5" y2="81.9" stroke="#444" stroke-width="0.60"/>
<line x1="89.6" y1="124.8" x2="89.6" y2="126.2" stroke="#444" stroke-width="0.60"/>
<line x1="44.1" y1="80.7" x2="45.5" y2="80.7" stroke="#444" stroke-width="0.60"/>
<line x1="90.6" y1="124.8" x2="90.6" y2="126.2" stroke="#444" stroke-width="0.60"/>
<line x1="44.1" y1="79.7" x2="45.5" y2="79.7" stroke="#444" stroke-width="0.60"/>
<line x1="97.0" y1="124.8" x2="97.0" y2="126.2" stroke="#444" stroke-width="0.60"/>
<line x1="44.1" y1="73.3" x2="45.5" y2="73.3" stroke="#444" stroke-width="0.60"/>
<line x1="100.2" y1="124.8" x2="100.2" y2="126.2" stroke="#444" stroke-width="0.60"/>
<line x1="44.1" y1="70.1" x2="45.5" y2="70.1" stroke="#444" stroke-width="0.60"/>
<line x1="102.5" y1="124.8" x2="102.5" y2="126.2" stroke="#444" stroke-width="0.60"/>
<line x1="44.1" y1="67.8" x2="45.5" y2="67.8" stroke="#444" stroke-width="0.60"/>
<line x1="104.3" y1="124.8" x2="104.3" y2="126.2" stroke="#444" stroke-width="0.60"/>
<line x1="44.1" y1="66.0" x2="45.5" y2="66.0" stroke="#444" stroke-width="0.60"/>
<line x1="105.7" y1="124.8" x2="105.7" y2="126.2" stroke="#444" stroke-width="0.60"/>
<line x1="44.1" y1="64.6" x2="45.5" y2="64.6" stroke="#444" stroke-width="0.60"/>
<line x1="107.0" y1="124.8" x2="107.0" y2="126.2" stroke="#444" stroke-width="0.60"/>
<line x1="44.1" y1="63.3" x2="45.5" y2="63.3" stroke="#444" stroke-width="0.60"/>
<line x1="108.0" y1="124.8" x2="108.0" y2="126.2" stroke="#444" stroke-width="0.60"/>
<line x1="44.1" y1="62.3" x2="45.5" y2="62.3" stroke="#444" stroke-width="0.60"/>
<line x1="109.0" y1="124.8" x2="109.0" y2="126.2" stroke="#444" stroke-width="0.60"/>
<line x1="44.1" y1="61.3" x2="45.5" y2="61.3" stroke="#444" stroke-width="0.60"/>
<line x1="115.3" y1="124.8" x2="115.3" y2="126.2" stroke="#444" stroke-width="0.60"/>
<line x1="44.1" y1="55.0" x2="45.5" y2="55.0" stroke="#444" stroke-width="0.60"/>
<line x1="118.5" y1="124.8" x2="118.5" y2="126.2" stroke="#444" stroke-width="0.60"/>
<line x1="44.1" y1="51.8" x2="45.5" y2="51.8" stroke="#444" stroke-width="0.60"/>
<line x1="120.8" y1="124.8" x2="120.8" y2="126.2" stroke="#444" stroke-width="0.60"/>
<line x1="44.1" y1="49.5" x2="45.5" y2="49.5" stroke="#444" stroke-width="0.60"/>
<line x1="122.6" y1="124.8" x2="122.6" y2="126.2" stroke="#444" stroke-width="0.60"/>
<line x1="44.1" y1="47.7" x2="45.5" y2="47.7" stroke="#444" stroke-width="0.60"/>
<line x1="124.0" y1="124.8" x2="124.0" y2="126.2" stroke="#444" stroke-width="0.60"/>
<line x1="44.1" y1="46.3" x2="45.5" y2="46.3" stroke="#444" stroke-width="0.60"/>
<line x1="125.3" y1="124.8" x2="125.3" y2="126.2" stroke="#444" stroke-width="0.60"/>
<line x1="44.1" y1="45.0" x2="45.5" y2="45.0" stroke="#444" stroke-width="0.60"/>
<line x1="126.3" y1="124.8" x2="126.3" y2="126.2" stroke="#444" stroke-width="0.60"/>
<line x1="44.1" y1="44.0" x2="45.5" y2="44.0" stroke="#444" stroke-width="0.60"/>
<line x1="127.3" y1="124.8" x2="127.3" y2="126.2" stroke="#444" stroke-width="0.60"/>
<line x1="44.1" y1="43.0" x2="45.5" y2="43.0" stroke="#444" stroke-width="0.60"/>
<line x1="51.5" y1="124.8" x2="51.5" y2="126.2" stroke="#444" stroke-width="0.60"/>
<line x1="44.1" y1="118.8" x2="45.5" y2="118.8" stroke="#444" stroke-width="0.60"/>
<line x1="55.5" y1="124.8" x2="55.5" y2="126.2" stroke="#444" stroke-width="0.60"/>
<line x1="44.1" y1="114.8" x2="45.5" y2="114.8" stroke="#444" stroke-width="0.60"/>
<line x1="67.3" y1="124.8" x2="67.3" y2="126.2" stroke="#444" stroke-width="0.60"/>
<line x1="44.1" y1="103.0" x2="45.5" y2="103.0" stroke="#444" stroke-width="0.60"/>
<rect x="170.7" y="35.0" width="89.9" height="90.3" stroke="#6a6a6a" stroke-width="0.90" fill="none"/>
<line x1="170.7" y1="35.0" x2="170.7" y2="125.7" stroke="#222" stroke-width="1.00"/>
<line x1="170.3" y1="125.3" x2="260.6" y2="125.3" stroke="#222" stroke-width="1.00"/>
<line x1="188.2" y1="125.3" x2="188.2" y2="127.7" stroke="#222" stroke-width="0.90"/>
<line x1="168.3" y1="107.8" x2="170.7" y2="107.8" stroke="#222" stroke-width="0.90"/>
<text x="188.5" y="134.7" font-size="5.30" text-anchor="middle" font-weight="normal" fill="#555" >0</text>
<text x="167.1" y="109.7" font-size="5.30" text-anchor="end" font-weight="normal" fill="#555" >0</text>
<line x1="196.7" y1="125.3" x2="196.7" y2="127.7" stroke="#222" stroke-width="0.90"/>
<line x1="168.3" y1="99.3" x2="170.7" y2="99.3" stroke="#222" stroke-width="0.90"/>
<text x="197.0" y="134.7" font-size="5.30" text-anchor="middle" font-weight="normal" fill="#555" >10<tspan dy="-2" font-size="3.6">2</tspan></text>
<text x="167.1" y="101.2" font-size="5.30" text-anchor="end" font-weight="normal" fill="#555" >10<tspan dy="-2" font-size="3.6">2</tspan></text>
<line x1="216.7" y1="125.3" x2="216.7" y2="127.7" stroke="#222" stroke-width="0.90"/>
<line x1="168.3" y1="79.3" x2="170.7" y2="79.3" stroke="#222" stroke-width="0.90"/>
<text x="217.0" y="134.7" font-size="5.30" text-anchor="middle" font-weight="normal" fill="#555" >10<tspan dy="-2" font-size="3.6">3</tspan></text>
<text x="167.1" y="81.2" font-size="5.30" text-anchor="end" font-weight="normal" fill="#555" >10<tspan dy="-2" font-size="3.6">3</tspan></text>
<line x1="235.0" y1="125.3" x2="235.0" y2="127.7" stroke="#222" stroke-width="0.90"/>
<line x1="168.3" y1="61.0" x2="170.7" y2="61.0" stroke="#222" stroke-width="0.90"/>
<text x="235.3" y="134.7" font-size="5.30" text-anchor="middle" font-weight="normal" fill="#555" >10<tspan dy="-2" font-size="3.6">4</tspan></text>
<text x="167.1" y="62.9" font-size="5.30" text-anchor="end" font-weight="normal" fill="#555" >10<tspan dy="-2" font-size="3.6">4</tspan></text>
<line x1="253.3" y1="125.3" x2="253.3" y2="127.7" stroke="#222" stroke-width="0.90"/>
<line x1="168.3" y1="42.7" x2="170.7" y2="42.7" stroke="#222" stroke-width="0.90"/>
<text x="253.6" y="134.7" font-size="5.30" text-anchor="middle" font-weight="normal" fill="#555" >10<tspan dy="-2" font-size="3.6">5</tspan></text>
<text x="167.1" y="44.6" font-size="5.30" text-anchor="end" font-weight="normal" fill="#555" >10<tspan dy="-2" font-size="3.6">5</tspan></text>
<line x1="202.7" y1="125.3" x2="202.7" y2="126.7" stroke="#444" stroke-width="0.60"/>
<line x1="169.3" y1="93.3" x2="170.7" y2="93.3" stroke="#444" stroke-width="0.60"/>
<line x1="206.2" y1="125.3" x2="206.2" y2="126.7" stroke="#444" stroke-width="0.60"/>
<line x1="169.3" y1="89.8" x2="170.7" y2="89.8" stroke="#444" stroke-width="0.60"/>
<line x1="208.7" y1="125.3" x2="208.7" y2="126.7" stroke="#444" stroke-width="0.60"/>
<line x1="169.3" y1="87.3" x2="170.7" y2="87.3" stroke="#444" stroke-width="0.60"/>
<line x1="210.7" y1="125.3" x2="210.7" y2="126.7" stroke="#444" stroke-width="0.60"/>
<line x1="169.3" y1="85.3" x2="170.7" y2="85.3" stroke="#444" stroke-width="0.60"/>
<line x1="212.3" y1="125.3" x2="212.3" y2="126.7" stroke="#444" stroke-width="0.60"/>
<line x1="169.3" y1="83.7" x2="170.7" y2="83.7" stroke="#444" stroke-width="0.60"/>
<line x1="213.6" y1="125.3" x2="213.6" y2="126.7" stroke="#444" stroke-width="0.60"/>
<line x1="169.3" y1="82.4" x2="170.7" y2="82.4" stroke="#444" stroke-width="0.60"/>
<line x1="214.8" y1="125.3" x2="214.8" y2="126.7" stroke="#444" stroke-width="0.60"/>
<line x1="169.3" y1="81.2" x2="170.7" y2="81.2" stroke="#444" stroke-width="0.60"/>
<line x1="215.8" y1="125.3" x2="215.8" y2="126.7" stroke="#444" stroke-width="0.60"/>
<line x1="169.3" y1="80.2" x2="170.7" y2="80.2" stroke="#444" stroke-width="0.60"/>
<line x1="222.2" y1="125.3" x2="222.2" y2="126.7" stroke="#444" stroke-width="0.60"/>
<line x1="169.3" y1="73.8" x2="170.7" y2="73.8" stroke="#444" stroke-width="0.60"/>
<line x1="225.4" y1="125.3" x2="225.4" y2="126.7" stroke="#444" stroke-width="0.60"/>
<line x1="169.3" y1="70.6" x2="170.7" y2="70.6" stroke="#444" stroke-width="0.60"/>
<line x1="227.7" y1="125.3" x2="227.7" y2="126.7" stroke="#444" stroke-width="0.60"/>
<line x1="169.3" y1="68.3" x2="170.7" y2="68.3" stroke="#444" stroke-width="0.60"/>
<line x1="229.5" y1="125.3" x2="229.5" y2="126.7" stroke="#444" stroke-width="0.60"/>
<line x1="169.3" y1="66.5" x2="170.7" y2="66.5" stroke="#444" stroke-width="0.60"/>
<line x1="230.9" y1="125.3" x2="230.9" y2="126.7" stroke="#444" stroke-width="0.60"/>
<line x1="169.3" y1="65.1" x2="170.7" y2="65.1" stroke="#444" stroke-width="0.60"/>
<line x1="232.2" y1="125.3" x2="232.2" y2="126.7" stroke="#444" stroke-width="0.60"/>
<line x1="169.3" y1="63.8" x2="170.7" y2="63.8" stroke="#444" stroke-width="0.60"/>
<line x1="233.2" y1="125.3" x2="233.2" y2="126.7" stroke="#444" stroke-width="0.60"/>
<line x1="169.3" y1="62.8" x2="170.7" y2="62.8" stroke="#444" stroke-width="0.60"/>
<line x1="234.2" y1="125.3" x2="234.2" y2="126.7" stroke="#444" stroke-width="0.60"/>
<line x1="169.3" y1="61.8" x2="170.7" y2="61.8" stroke="#444" stroke-width="0.60"/>
<line x1="240.5" y1="125.3" x2="240.5" y2="126.7" stroke="#444" stroke-width="0.60"/>
<line x1="169.3" y1="55.5" x2="170.7" y2="55.5" stroke="#444" stroke-width="0.60"/>
<line x1="243.7" y1="125.3" x2="243.7" y2="126.7" stroke="#444" stroke-width="0.60"/>
<line x1="169.3" y1="52.3" x2="170.7" y2="52.3" stroke="#444" stroke-width="0.60"/>
<line x1="246.0" y1="125.3" x2="246.0" y2="126.7" stroke="#444" stroke-width="0.60"/>
<line x1="169.3" y1="50.0" x2="170.7" y2="50.0" stroke="#444" stroke-width="0.60"/>
<line x1="247.8" y1="125.3" x2="247.8" y2="126.7" stroke="#444" stroke-width="0.60"/>
<line x1="169.3" y1="48.2" x2="170.7" y2="48.2" stroke="#444" stroke-width="0.60"/>
<line x1="249.2" y1="125.3" x2="249.2" y2="126.7" stroke="#444" stroke-width="0.60"/>
<line x1="169.3" y1="46.8" x2="170.7" y2="46.8" stroke="#444" stroke-width="0.60"/>
<line x1="250.5" y1="125.3" x2="250.5" y2="126.7" stroke="#444" stroke-width="0.60"/>
<line x1="169.3" y1="45.5" x2="170.7" y2="45.5" stroke="#444" stroke-width="0.60"/>
<line x1="251.5" y1="125.3" x2="251.5" y2="126.7" stroke="#444" stroke-width="0.60"/>
<line x1="169.3" y1="44.5" x2="170.7" y2="44.5" stroke="#444" stroke-width="0.60"/>
<line x1="252.5" y1="125.3" x2="252.5" y2="126.7" stroke="#444" stroke-width="0.60"/>
<line x1="169.3" y1="43.5" x2="170.7" y2="43.5" stroke="#444" stroke-width="0.60"/>
<line x1="176.7" y1="125.3" x2="176.7" y2="126.7" stroke="#444" stroke-width="0.60"/>
<line x1="169.3" y1="119.3" x2="170.7" y2="119.3" stroke="#444" stroke-width="0.60"/>
<line x1="180.7" y1="125.3" x2="180.7" y2="126.7" stroke="#444" stroke-width="0.60"/>
<line x1="169.3" y1="115.3" x2="170.7" y2="115.3" stroke="#444" stroke-width="0.60"/>
<line x1="192.5" y1="125.3" x2="192.5" y2="126.7" stroke="#444" stroke-width="0.60"/>
<line x1="169.3" y1="103.5" x2="170.7" y2="103.5" stroke="#444" stroke-width="0.60"/>
<rect x="300.3" y="35.8" width="90.0" height="90.0" stroke="#6a6a6a" stroke-width="0.90" fill="none"/>
<line x1="300.3" y1="35.8" x2="300.3" y2="126.2" stroke="#222" stroke-width="1.00"/>
<line x1="299.9" y1="125.8" x2="390.3" y2="125.8" stroke="#222" stroke-width="1.00"/>
<line x1="317.8" y1="125.8" x2="317.8" y2="128.2" stroke="#222" stroke-width="0.90"/>
<line x1="297.9" y1="108.3" x2="300.3" y2="108.3" stroke="#222" stroke-width="0.90"/>
<text x="318.1" y="135.2" font-size="5.30" text-anchor="middle" font-weight="normal" fill="#555" >0</text>
<text x="296.7" y="110.2" font-size="5.30" text-anchor="end" font-weight="normal" fill="#555" >0</text>
<line x1="326.3" y1="125.8" x2="326.3" y2="128.2" stroke="#222" stroke-width="0.90"/>
<line x1="297.9" y1="99.8" x2="300.3" y2="99.8" stroke="#222" stroke-width="0.90"/>
<text x="326.6" y="135.2" font-size="5.30" text-anchor="middle" font-weight="normal" fill="#555" >10<tspan dy="-2" font-size="3.6">2</tspan></text>
<text x="296.7" y="101.7" font-size="5.30" text-anchor="end" font-weight="normal" fill="#555" >10<tspan dy="-2" font-size="3.6">2</tspan></text>
<line x1="346.3" y1="125.8" x2="346.3" y2="128.2" stroke="#222" stroke-width="0.90"/>
<line x1="297.9" y1="79.8" x2="300.3" y2="79.8" stroke="#222" stroke-width="0.90"/>
<text x="346.6" y="135.2" font-size="5.30" text-anchor="middle" font-weight="normal" fill="#555" >10<tspan dy="-2" font-size="3.6">3</tspan></text>
<text x="296.7" y="81.7" font-size="5.30" text-anchor="end" font-weight="normal" fill="#555" >10<tspan dy="-2" font-size="3.6">3</tspan></text>
<line x1="364.6" y1="125.8" x2="364.6" y2="128.2" stroke="#222" stroke-width="0.90"/>
<line x1="297.9" y1="61.5" x2="300.3" y2="61.5" stroke="#222" stroke-width="0.90"/>
<text x="364.9" y="135.2" font-size="5.30" text-anchor="middle" font-weight="normal" fill="#555" >10<tspan dy="-2" font-size="3.6">4</tspan></text>
<text x="296.7" y="63.4" font-size="5.30" text-anchor="end" font-weight="normal" fill="#555" >10<tspan dy="-2" font-size="3.6">4</tspan></text>
<line x1="382.9" y1="125.8" x2="382.9" y2="128.2" stroke="#222" stroke-width="0.90"/>
<line x1="297.9" y1="43.2" x2="300.3" y2="43.2" stroke="#222" stroke-width="0.90"/>
<text x="383.2" y="135.2" font-size="5.30" text-anchor="middle" font-weight="normal" fill="#555" >10<tspan dy="-2" font-size="3.6">5</tspan></text>
<text x="296.7" y="45.1" font-size="5.30" text-anchor="end" font-weight="normal" fill="#555" >10<tspan dy="-2" font-size="3.6">5</tspan></text>
<line x1="332.3" y1="125.8" x2="332.3" y2="127.2" stroke="#444" stroke-width="0.60"/>
<line x1="298.9" y1="93.8" x2="300.3" y2="93.8" stroke="#444" stroke-width="0.60"/>
<line x1="335.8" y1="125.8" x2="335.8" y2="127.2" stroke="#444" stroke-width="0.60"/>
<line x1="298.9" y1="90.3" x2="300.3" y2="90.3" stroke="#444" stroke-width="0.60"/>
<line x1="338.3" y1="125.8" x2="338.3" y2="127.2" stroke="#444" stroke-width="0.60"/>
<line x1="298.9" y1="87.8" x2="300.3" y2="87.8" stroke="#444" stroke-width="0.60"/>
<line x1="340.3" y1="125.8" x2="340.3" y2="127.2" stroke="#444" stroke-width="0.60"/>
<line x1="298.9" y1="85.8" x2="300.3" y2="85.8" stroke="#444" stroke-width="0.60"/>
<line x1="341.9" y1="125.8" x2="341.9" y2="127.2" stroke="#444" stroke-width="0.60"/>
<line x1="298.9" y1="84.2" x2="300.3" y2="84.2" stroke="#444" stroke-width="0.60"/>
<line x1="343.2" y1="125.8" x2="343.2" y2="127.2" stroke="#444" stroke-width="0.60"/>
<line x1="298.9" y1="82.9" x2="300.3" y2="82.9" stroke="#444" stroke-width="0.60"/>
<line x1="344.4" y1="125.8" x2="344.4" y2="127.2" stroke="#444" stroke-width="0.60"/>
<line x1="298.9" y1="81.7" x2="300.3" y2="81.7" stroke="#444" stroke-width="0.60"/>
<line x1="345.4" y1="125.8" x2="345.4" y2="127.2" stroke="#444" stroke-width="0.60"/>
<line x1="298.9" y1="80.7" x2="300.3" y2="80.7" stroke="#444" stroke-width="0.60"/>
<line x1="351.8" y1="125.8" x2="351.8" y2="127.2" stroke="#444" stroke-width="0.60"/>
<line x1="298.9" y1="74.3" x2="300.3" y2="74.3" stroke="#444" stroke-width="0.60"/>
<line x1="355.0" y1="125.8" x2="355.0" y2="127.2" stroke="#444" stroke-width="0.60"/>
<line x1="298.9" y1="71.1" x2="300.3" y2="71.1" stroke="#444" stroke-width="0.60"/>
<line x1="357.3" y1="125.8" x2="357.3" y2="127.2" stroke="#444" stroke-width="0.60"/>
<line x1="298.9" y1="68.8" x2="300.3" y2="68.8" stroke="#444" stroke-width="0.60"/>
<line x1="359.1" y1="125.8" x2="359.1" y2="127.2" stroke="#444" stroke-width="0.60"/>
<line x1="298.9" y1="67.0" x2="300.3" y2="67.0" stroke="#444" stroke-width="0.60"/>
<line x1="360.5" y1="125.8" x2="360.5" y2="127.2" stroke="#444" stroke-width="0.60"/>
<line x1="298.9" y1="65.6" x2="300.3" y2="65.6" stroke="#444" stroke-width="0.60"/>
<line x1="361.8" y1="125.8" x2="361.8" y2="127.2" stroke="#444" stroke-width="0.60"/>
<line x1="298.9" y1="64.3" x2="300.3" y2="64.3" stroke="#444" stroke-width="0.60"/>
<line x1="362.8" y1="125.8" x2="362.8" y2="127.2" stroke="#444" stroke-width="0.60"/>
<line x1="298.9" y1="63.3" x2="300.3" y2="63.3" stroke="#444" stroke-width="0.60"/>
<line x1="363.8" y1="125.8" x2="363.8" y2="127.2" stroke="#444" stroke-width="0.60"/>
<line x1="298.9" y1="62.3" x2="300.3" y2="62.3" stroke="#444" stroke-width="0.60"/>
<line x1="370.1" y1="125.8" x2="370.1" y2="127.2" stroke="#444" stroke-width="0.60"/>
<line x1="298.9" y1="56.0" x2="300.3" y2="56.0" stroke="#444" stroke-width="0.60"/>
<line x1="373.3" y1="125.8" x2="373.3" y2="127.2" stroke="#444" stroke-width="0.60"/>
<line x1="298.9" y1="52.8" x2="300.3" y2="52.8" stroke="#444" stroke-width="0.60"/>
<line x1="375.6" y1="125.8" x2="375.6" y2="127.2" stroke="#444" stroke-width="0.60"/>
<line x1="298.9" y1="50.5" x2="300.3" y2="50.5" stroke="#444" stroke-width="0.60"/>
<line x1="377.4" y1="125.8" x2="377.4" y2="127.2" stroke="#444" stroke-width="0.60"/>
<line x1="298.9" y1="48.7" x2="300.3" y2="48.7" stroke="#444" stroke-width="0.60"/>
<line x1="378.8" y1="125.8" x2="378.8" y2="127.2" stroke="#444" stroke-width="0.60"/>
<line x1="298.9" y1="47.3" x2="300.3" y2="47.3" stroke="#444" stroke-width="0.60"/>
<line x1="380.1" y1="125.8" x2="380.1" y2="127.2" stroke="#444" stroke-width="0.60"/>
<line x1="298.9" y1="46.0" x2="300.3" y2="46.0" stroke="#444" stroke-width="0.60"/>
<line x1="381.1" y1="125.8" x2="381.1" y2="127.2" stroke="#444" stroke-width="0.60"/>
<line x1="298.9" y1="45.0" x2="300.3" y2="45.0" stroke="#444" stroke-width="0.60"/>
<line x1="382.1" y1="125.8" x2="382.1" y2="127.2" stroke="#444" stroke-width="0.60"/>
<line x1="298.9" y1="44.0" x2="300.3" y2="44.0" stroke="#444" stroke-width="0.60"/>
<line x1="306.3" y1="125.8" x2="306.3" y2="127.2" stroke="#444" stroke-width="0.60"/>
<line x1="298.9" y1="119.8" x2="300.3" y2="119.8" stroke="#444" stroke-width="0.60"/>
<line x1="310.3" y1="125.8" x2="310.3" y2="127.2" stroke="#444" stroke-width="0.60"/>
<line x1="298.9" y1="115.8" x2="300.3" y2="115.8" stroke="#444" stroke-width="0.60"/>
<line x1="322.1" y1="125.8" x2="322.1" y2="127.2" stroke="#444" stroke-width="0.60"/>
<line x1="298.9" y1="104.0" x2="300.3" y2="104.0" stroke="#444" stroke-width="0.60"/>
<rect x="428.0" y="35.5" width="90.8" height="89.6" stroke="#6a6a6a" stroke-width="0.90" fill="none"/>
<line x1="428.0" y1="35.5" x2="428.0" y2="125.5" stroke="#222" stroke-width="1.00"/>
<line x1="427.6" y1="125.1" x2="518.8" y2="125.1" stroke="#222" stroke-width="1.00"/>
<line x1="445.5" y1="125.1" x2="445.5" y2="127.5" stroke="#222" stroke-width="0.90"/>
<line x1="425.6" y1="107.6" x2="428.0" y2="107.6" stroke="#222" stroke-width="0.90"/>
<text x="445.8" y="134.5" font-size="5.30" text-anchor="middle" font-weight="normal" fill="#555" >0</text>
<text x="424.4" y="109.5" font-size="5.30" text-anchor="end" font-weight="normal" fill="#555" >0</text>
<line x1="454.0" y1="125.1" x2="454.0" y2="127.5" stroke="#222" stroke-width="0.90"/>
<line x1="425.6" y1="99.1" x2="428.0" y2="99.1" stroke="#222" stroke-width="0.90"/>
<text x="454.3" y="134.5" font-size="5.30" text-anchor="middle" font-weight="normal" fill="#555" >10<tspan dy="-2" font-size="3.6">2</tspan></text>
<text x="424.4" y="101.0" font-size="5.30" text-anchor="end" font-weight="normal" fill="#555" >10<tspan dy="-2" font-size="3.6">2</tspan></text>
<line x1="474.0" y1="125.1" x2="474.0" y2="127.5" stroke="#222" stroke-width="0.90"/>
<line x1="425.6" y1="79.1" x2="428.0" y2="79.1" stroke="#222" stroke-width="0.90"/>
<text x="474.3" y="134.5" font-size="5.30" text-anchor="middle" font-weight="normal" fill="#555" >10<tspan dy="-2" font-size="3.6">3</tspan></text>
<text x="424.4" y="81.0" font-size="5.30" text-anchor="end" font-weight="normal" fill="#555" >10<tspan dy="-2" font-size="3.6">3</tspan></text>
<line x1="492.3" y1="125.1" x2="492.3" y2="127.5" stroke="#222" stroke-width="0.90"/>
<line x1="425.6" y1="60.8" x2="428.0" y2="60.8" stroke="#222" stroke-width="0.90"/>
<text x="492.6" y="134.5" font-size="5.30" text-anchor="middle" font-weight="normal" fill="#555" >10<tspan dy="-2" font-size="3.6">4</tspan></text>
<text x="424.4" y="62.7" font-size="5.30" text-anchor="end" font-weight="normal" fill="#555" >10<tspan dy="-2" font-size="3.6">4</tspan></text>
<line x1="510.6" y1="125.1" x2="510.6" y2="127.5" stroke="#222" stroke-width="0.90"/>
<line x1="425.6" y1="42.5" x2="428.0" y2="42.5" stroke="#222" stroke-width="0.90"/>
<text x="510.9" y="134.5" font-size="5.30" text-anchor="middle" font-weight="normal" fill="#555" >10<tspan dy="-2" font-size="3.6">5</tspan></text>
<text x="424.4" y="44.4" font-size="5.30" text-anchor="end" font-weight="normal" fill="#555" >10<tspan dy="-2" font-size="3.6">5</tspan></text>
<line x1="460.0" y1="125.1" x2="460.0" y2="126.5" stroke="#444" stroke-width="0.60"/>
<line x1="426.6" y1="93.1" x2="428.0" y2="93.1" stroke="#444" stroke-width="0.60"/>
<line x1="463.5" y1="125.1" x2="463.5" y2="126.5" stroke="#444" stroke-width="0.60"/>
<line x1="426.6" y1="89.6" x2="428.0" y2="89.6" stroke="#444" stroke-width="0.60"/>
<line x1="466.0" y1="125.1" x2="466.0" y2="126.5" stroke="#444" stroke-width="0.60"/>
<line x1="426.6" y1="87.1" x2="428.0" y2="87.1" stroke="#444" stroke-width="0.60"/>
<line x1="468.0" y1="125.1" x2="468.0" y2="126.5" stroke="#444" stroke-width="0.60"/>
<line x1="426.6" y1="85.1" x2="428.0" y2="85.1" stroke="#444" stroke-width="0.60"/>
<line x1="469.6" y1="125.1" x2="469.6" y2="126.5" stroke="#444" stroke-width="0.60"/>
<line x1="426.6" y1="83.5" x2="428.0" y2="83.5" stroke="#444" stroke-width="0.60"/>
<line x1="470.9" y1="125.1" x2="470.9" y2="126.5" stroke="#444" stroke-width="0.60"/>
<line x1="426.6" y1="82.2" x2="428.0" y2="82.2" stroke="#444" stroke-width="0.60"/>
<line x1="472.1" y1="125.1" x2="472.1" y2="126.5" stroke="#444" stroke-width="0.60"/>
<line x1="426.6" y1="81.0" x2="428.0" y2="81.0" stroke="#444" stroke-width="0.60"/>
<line x1="473.1" y1="125.1" x2="473.1" y2="126.5" stroke="#444" stroke-width="0.60"/>
<line x1="426.6" y1="80.0" x2="428.0" y2="80.0" stroke="#444" stroke-width="0.60"/>
<line x1="479.5" y1="125.1" x2="479.5" y2="126.5" stroke="#444" stroke-width="0.60"/>
<line x1="426.6" y1="73.6" x2="428.0" y2="73.6" stroke="#444" stroke-width="0.60"/>
<line x1="482.7" y1="125.1" x2="482.7" y2="126.5" stroke="#444" stroke-width="0.60"/>
<line x1="426.6" y1="70.4" x2="428.0" y2="70.4" stroke="#444" stroke-width="0.60"/>
<line x1="485.0" y1="125.1" x2="485.0" y2="126.5" stroke="#444" stroke-width="0.60"/>
<line x1="426.6" y1="68.1" x2="428.0" y2="68.1" stroke="#444" stroke-width="0.60"/>
<line x1="486.8" y1="125.1" x2="486.8" y2="126.5" stroke="#444" stroke-width="0.60"/>
<line x1="426.6" y1="66.3" x2="428.0" y2="66.3" stroke="#444" stroke-width="0.60"/>
<line x1="488.2" y1="125.1" x2="488.2" y2="126.5" stroke="#444" stroke-width="0.60"/>
<line x1="426.6" y1="64.9" x2="428.0" y2="64.9" stroke="#444" stroke-width="0.60"/>
<line x1="489.5" y1="125.1" x2="489.5" y2="126.5" stroke="#444" stroke-width="0.60"/>
<line x1="426.6" y1="63.6" x2="428.0" y2="63.6" stroke="#444" stroke-width="0.60"/>
<line x1="490.5" y1="125.1" x2="490.5" y2="126.5" stroke="#444" stroke-width="0.60"/>
<line x1="426.6" y1="62.6" x2="428.0" y2="62.6" stroke="#444" stroke-width="0.60"/>
<line x1="491.5" y1="125.1" x2="491.5" y2="126.5" stroke="#444" stroke-width="0.60"/>
<line x1="426.6" y1="61.6" x2="428.0" y2="61.6" stroke="#444" stroke-width="0.60"/>
<line x1="497.8" y1="125.1" x2="497.8" y2="126.5" stroke="#444" stroke-width="0.60"/>
<line x1="426.6" y1="55.3" x2="428.0" y2="55.3" stroke="#444" stroke-width="0.60"/>
<line x1="501.0" y1="125.1" x2="501.0" y2="126.5" stroke="#444" stroke-width="0.60"/>
<line x1="426.6" y1="52.1" x2="428.0" y2="52.1" stroke="#444" stroke-width="0.60"/>
<line x1="503.3" y1="125.1" x2="503.3" y2="126.5" stroke="#444" stroke-width="0.60"/>
<line x1="426.6" y1="49.8" x2="428.0" y2="49.8" stroke="#444" stroke-width="0.60"/>
<line x1="505.1" y1="125.1" x2="505.1" y2="126.5" stroke="#444" stroke-width="0.60"/>
<line x1="426.6" y1="48.0" x2="428.0" y2="48.0" stroke="#444" stroke-width="0.60"/>
<line x1="506.5" y1="125.1" x2="506.5" y2="126.5" stroke="#444" stroke-width="0.60"/>
<line x1="426.6" y1="46.6" x2="428.0" y2="46.6" stroke="#444" stroke-width="0.60"/>
<line x1="507.8" y1="125.1" x2="507.8" y2="126.5" stroke="#444" stroke-width="0.60"/>
<line x1="426.6" y1="45.3" x2="428.0" y2="45.3" stroke="#444" stroke-width="0.60"/>
<line x1="508.8" y1="125.1" x2="508.8" y2="126.5" stroke="#444" stroke-width="0.60"/>
<line x1="426.6" y1="44.3" x2="428.0" y2="44.3" stroke="#444" stroke-width="0.60"/>
<line x1="509.8" y1="125.1" x2="509.8" y2="126.5" stroke="#444" stroke-width="0.60"/>
<line x1="426.6" y1="43.3" x2="428.0" y2="43.3" stroke="#444" stroke-width="0.60"/>
<line x1="434.0" y1="125.1" x2="434.0" y2="126.5" stroke="#444" stroke-width="0.60"/>
<line x1="426.6" y1="119.1" x2="428.0" y2="119.1" stroke="#444" stroke-width="0.60"/>
<line x1="438.0" y1="125.1" x2="438.0" y2="126.5" stroke="#444" stroke-width="0.60"/>
<line x1="426.6" y1="115.1" x2="428.0" y2="115.1" stroke="#444" stroke-width="0.60"/>
<line x1="449.8" y1="125.1" x2="449.8" y2="126.5" stroke="#444" stroke-width="0.60"/>
<line x1="426.6" y1="103.3" x2="428.0" y2="103.3" stroke="#444" stroke-width="0.60"/>
<rect x="43.8" y="160.6" width="89.9" height="90.4" stroke="#6a6a6a" stroke-width="0.90" fill="none"/>
<line x1="43.8" y1="160.6" x2="43.8" y2="251.4" stroke="#222" stroke-width="1.00"/>
<line x1="43.4" y1="251.0" x2="133.7" y2="251.0" stroke="#222" stroke-width="1.00"/>
<line x1="61.3" y1="251.0" x2="61.3" y2="253.4" stroke="#222" stroke-width="0.90"/>
<line x1="41.4" y1="233.5" x2="43.8" y2="233.5" stroke="#222" stroke-width="0.90"/>
<text x="61.6" y="260.4" font-size="5.30" text-anchor="middle" font-weight="normal" fill="#555" >0</text>
<text x="40.2" y="235.4" font-size="5.30" text-anchor="end" font-weight="normal" fill="#555" >0</text>
<line x1="69.8" y1="251.0" x2="69.8" y2="253.4" stroke="#222" stroke-width="0.90"/>
<line x1="41.4" y1="225.0" x2="43.8" y2="225.0" stroke="#222" stroke-width="0.90"/>
<text x="70.1" y="260.4" font-size="5.30" text-anchor="middle" font-weight="normal" fill="#555" >10<tspan dy="-2" font-size="3.6">2</tspan></text>
<text x="40.2" y="226.9" font-size="5.30" text-anchor="end" font-weight="normal" fill="#555" >10<tspan dy="-2" font-size="3.6">2</tspan></text>
<line x1="89.8" y1="251.0" x2="89.8" y2="253.4" stroke="#222" stroke-width="0.90"/>
<line x1="41.4" y1="205.0" x2="43.8" y2="205.0" stroke="#222" stroke-width="0.90"/>
<text x="90.1" y="260.4" font-size="5.30" text-anchor="middle" font-weight="normal" fill="#555" >10<tspan dy="-2" font-size="3.6">3</tspan></text>
<text x="40.2" y="206.9" font-size="5.30" text-anchor="end" font-weight="normal" fill="#555" >10<tspan dy="-2" font-size="3.6">3</tspan></text>
<line x1="108.1" y1="251.0" x2="108.1" y2="253.4" stroke="#222" stroke-width="0.90"/>
<line x1="41.4" y1="186.7" x2="43.8" y2="186.7" stroke="#222" stroke-width="0.90"/>
<text x="108.4" y="260.4" font-size="5.30" text-anchor="middle" font-weight="normal" fill="#555" >10<tspan dy="-2" font-size="3.6">4</tspan></text>
<text x="40.2" y="188.6" font-size="5.30" text-anchor="end" font-weight="normal" fill="#555" >10<tspan dy="-2" font-size="3.6">4</tspan></text>
<line x1="126.4" y1="251.0" x2="126.4" y2="253.4" stroke="#222" stroke-width="0.90"/>
<line x1="41.4" y1="168.4" x2="43.8" y2="168.4" stroke="#222" stroke-width="0.90"/>
<text x="126.7" y="260.4" font-size="5.30" text-anchor="middle" font-weight="normal" fill="#555" >10<tspan dy="-2" font-size="3.6">5</tspan></text>
<text x="40.2" y="170.3" font-size="5.30" text-anchor="end" font-weight="normal" fill="#555" >10<tspan dy="-2" font-size="3.6">5</tspan></text>
<line x1="75.8" y1="251.0" x2="75.8" y2="252.4" stroke="#444" stroke-width="0.60"/>
<line x1="42.4" y1="219.0" x2="43.8" y2="219.0" stroke="#444" stroke-width="0.60"/>
<line x1="79.3" y1="251.0" x2="79.3" y2="252.4" stroke="#444" stroke-width="0.60"/>
<line x1="42.4" y1="215.5" x2="43.8" y2="215.5" stroke="#444" stroke-width="0.60"/>
<line x1="81.8" y1="251.0" x2="81.8" y2="252.4" stroke="#444" stroke-width="0.60"/>
<line x1="42.4" y1="213.0" x2="43.8" y2="213.0" stroke="#444" stroke-width="0.60"/>
<line x1="83.8" y1="251.0" x2="83.8" y2="252.4" stroke="#444" stroke-width="0.60"/>
<line x1="42.4" y1="211.0" x2="43.8" y2="211.0" stroke="#444" stroke-width="0.60"/>
<line x1="85.4" y1="251.0" x2="85.4" y2="252.4" stroke="#444" stroke-width="0.60"/>
<line x1="42.4" y1="209.4" x2="43.8" y2="209.4" stroke="#444" stroke-width="0.60"/>
<line x1="86.7" y1="251.0" x2="86.7" y2="252.4" stroke="#444" stroke-width="0.60"/>
<line x1="42.4" y1="208.1" x2="43.8" y2="208.1" stroke="#444" stroke-width="0.60"/>
<line x1="87.9" y1="251.0" x2="87.9" y2="252.4" stroke="#444" stroke-width="0.60"/>
<line x1="42.4" y1="206.9" x2="43.8" y2="206.9" stroke="#444" stroke-width="0.60"/>
<line x1="88.9" y1="251.0" x2="88.9" y2="252.4" stroke="#444" stroke-width="0.60"/>
<line x1="42.4" y1="205.9" x2="43.8" y2="205.9" stroke="#444" stroke-width="0.60"/>
<line x1="95.3" y1="251.0" x2="95.3" y2="252.4" stroke="#444" stroke-width="0.60"/>
<line x1="42.4" y1="199.5" x2="43.8" y2="199.5" stroke="#444" stroke-width="0.60"/>
<line x1="98.5" y1="251.0" x2="98.5" y2="252.4" stroke="#444" stroke-width="0.60"/>
<line x1="42.4" y1="196.3" x2="43.8" y2="196.3" stroke="#444" stroke-width="0.60"/>
<line x1="100.8" y1="251.0" x2="100.8" y2="252.4" stroke="#444" stroke-width="0.60"/>
<line x1="42.4" y1="194.0" x2="43.8" y2="194.0" stroke="#444" stroke-width="0.60"/>
<line x1="102.6" y1="251.0" x2="102.6" y2="252.4" stroke="#444" stroke-width="0.60"/>
<line x1="42.4" y1="192.2" x2="43.8" y2="192.2" stroke="#444" stroke-width="0.60"/>
<line x1="104.0" y1="251.0" x2="104.0" y2="252.4" stroke="#444" stroke-width="0.60"/>
<line x1="42.4" y1="190.8" x2="43.8" y2="190.8" stroke="#444" stroke-width="0.60"/>
<line x1="105.3" y1="251.0" x2="105.3" y2="252.4" stroke="#444" stroke-width="0.60"/>
<line x1="42.4" y1="189.5" x2="43.8" y2="189.5" stroke="#444" stroke-width="0.60"/>
<line x1="106.3" y1="251.0" x2="106.3" y2="252.4" stroke="#444" stroke-width="0.60"/>
<line x1="42.4" y1="188.5" x2="43.8" y2="188.5" stroke="#444" stroke-width="0.60"/>
<line x1="107.3" y1="251.0" x2="107.3" y2="252.4" stroke="#444" stroke-width="0.60"/>
<line x1="42.4" y1="187.5" x2="43.8" y2="187.5" stroke="#444" stroke-width="0.60"/>
<line x1="113.6" y1="251.0" x2="113.6" y2="252.4" stroke="#444" stroke-width="0.60"/>
<line x1="42.4" y1="181.2" x2="43.8" y2="181.2" stroke="#444" stroke-width="0.60"/>
<line x1="116.8" y1="251.0" x2="116.8" y2="252.4" stroke="#444" stroke-width="0.60"/>
<line x1="42.4" y1="178.0" x2="43.8" y2="178.0" stroke="#444" stroke-width="0.60"/>
<line x1="119.1" y1="251.0" x2="119.1" y2="252.4" stroke="#444" stroke-width="0.60"/>
<line x1="42.4" y1="175.7" x2="43.8" y2="175.7" stroke="#444" stroke-width="0.60"/>
<line x1="120.9" y1="251.0" x2="120.9" y2="252.4" stroke="#444" stroke-width="0.60"/>
<line x1="42.4" y1="173.9" x2="43.8" y2="173.9" stroke="#444" stroke-width="0.60"/>
<line x1="122.3" y1="251.0" x2="122.3" y2="252.4" stroke="#444" stroke-width="0.60"/>
<line x1="42.4" y1="172.5" x2="43.8" y2="172.5" stroke="#444" stroke-width="0.60"/>
<line x1="123.6" y1="251.0" x2="123.6" y2="252.4" stroke="#444" stroke-width="0.60"/>
<line x1="42.4" y1="171.2" x2="43.8" y2="171.2" stroke="#444" stroke-width="0.60"/>
<line x1="124.6" y1="251.0" x2="124.6" y2="252.4" stroke="#444" stroke-width="0.60"/>
<line x1="42.4" y1="170.2" x2="43.8" y2="170.2" stroke="#444" stroke-width="0.60"/>
<line x1="125.6" y1="251.0" x2="125.6" y2="252.4" stroke="#444" stroke-width="0.60"/>
<line x1="42.4" y1="169.2" x2="43.8" y2="169.2" stroke="#444" stroke-width="0.60"/>
<line x1="49.8" y1="251.0" x2="49.8" y2="252.4" stroke="#444" stroke-width="0.60"/>
<line x1="42.4" y1="245.0" x2="43.8" y2="245.0" stroke="#444" stroke-width="0.60"/>
<line x1="53.8" y1="251.0" x2="53.8" y2="252.4" stroke="#444" stroke-width="0.60"/>
<line x1="42.4" y1="241.0" x2="43.8" y2="241.0" stroke="#444" stroke-width="0.60"/>
<line x1="65.6" y1="251.0" x2="65.6" y2="252.4" stroke="#444" stroke-width="0.60"/>
<line x1="42.4" y1="229.2" x2="43.8" y2="229.2" stroke="#444" stroke-width="0.60"/>
<rect x="170.8" y="159.8" width="90.0" height="89.9" stroke="#6a6a6a" stroke-width="0.90" fill="none"/>
<line x1="170.8" y1="159.8" x2="170.8" y2="250.1" stroke="#222" stroke-width="1.00"/>
<line x1="170.4" y1="249.7" x2="260.8" y2="249.7" stroke="#222" stroke-width="1.00"/>
<line x1="188.3" y1="249.7" x2="188.3" y2="252.1" stroke="#222" stroke-width="0.90"/>
<line x1="168.4" y1="232.2" x2="170.8" y2="232.2" stroke="#222" stroke-width="0.90"/>
<text x="188.6" y="259.1" font-size="5.30" text-anchor="middle" font-weight="normal" fill="#555" >0</text>
<text x="167.2" y="234.1" font-size="5.30" text-anchor="end" font-weight="normal" fill="#555" >0</text>
<line x1="196.8" y1="249.7" x2="196.8" y2="252.1" stroke="#222" stroke-width="0.90"/>
<line x1="168.4" y1="223.7" x2="170.8" y2="223.7" stroke="#222" stroke-width="0.90"/>
<text x="197.1" y="259.1" font-size="5.30" text-anchor="middle" font-weight="normal" fill="#555" >10<tspan dy="-2" font-size="3.6">2</tspan></text>
<text x="167.2" y="225.6" font-size="5.30" text-anchor="end" font-weight="normal" fill="#555" >10<tspan dy="-2" font-size="3.6">2</tspan></text>
<line x1="216.8" y1="249.7" x2="216.8" y2="252.1" stroke="#222" stroke-width="0.90"/>
<line x1="168.4" y1="203.7" x2="170.8" y2="203.7" stroke="#222" stroke-width="0.90"/>
<text x="217.1" y="259.1" font-size="5.30" text-anchor="middle" font-weight="normal" fill="#555" >10<tspan dy="-2" font-size="3.6">3</tspan></text>
<text x="167.2" y="205.6" font-size="5.30" text-anchor="end" font-weight="normal" fill="#555" >10<tspan dy="-2" font-size="3.6">3</tspan></text>
<line x1="235.1" y1="249.7" x2="235.1" y2="252.1" stroke="#222" stroke-width="0.90"/>
<line x1="168.4" y1="185.4" x2="170.8" y2="185.4" stroke="#222" stroke-width="0.90"/>
<text x="235.4" y="259.1" font-size="5.30" text-anchor="middle" font-weight="normal" fill="#555" >10<tspan dy="-2" font-size="3.6">4</tspan></text>
<text x="167.2" y="187.3" font-size="5.30" text-anchor="end" font-weight="normal" fill="#555" >10<tspan dy="-2" font-size="3.6">4</tspan></text>
<line x1="253.4" y1="249.7" x2="253.4" y2="252.1" stroke="#222" stroke-width="0.90"/>
<line x1="168.4" y1="167.1" x2="170.8" y2="167.1" stroke="#222" stroke-width="0.90"/>
<text x="253.7" y="259.1" font-size="5.30" text-anchor="middle" font-weight="normal" fill="#555" >10<tspan dy="-2" font-size="3.6">5</tspan></text>
<text x="167.2" y="169.0" font-size="5.30" text-anchor="end" font-weight="normal" fill="#555" >10<tspan dy="-2" font-size="3.6">5</tspan></text>
<line x1="202.8" y1="249.7" x2="202.8" y2="251.1" stroke="#444" stroke-width="0.60"/>
<line x1="169.4" y1="217.7" x2="170.8" y2="217.7" stroke="#444" stroke-width="0.60"/>
<line x1="206.3" y1="249.7" x2="206.3" y2="251.1" stroke="#444" stroke-width="0.60"/>
<line x1="169.4" y1="214.2" x2="170.8" y2="214.2" stroke="#444" stroke-width="0.60"/>
<line x1="208.8" y1="249.7" x2="208.8" y2="251.1" stroke="#444" stroke-width="0.60"/>
<line x1="169.4" y1="211.7" x2="170.8" y2="211.7" stroke="#444" stroke-width="0.60"/>
<line x1="210.8" y1="249.7" x2="210.8" y2="251.1" stroke="#444" stroke-width="0.60"/>
<line x1="169.4" y1="209.7" x2="170.8" y2="209.7" stroke="#444" stroke-width="0.60"/>
<line x1="212.4" y1="249.7" x2="212.4" y2="251.1" stroke="#444" stroke-width="0.60"/>
<line x1="169.4" y1="208.1" x2="170.8" y2="208.1" stroke="#444" stroke-width="0.60"/>
<line x1="213.7" y1="249.7" x2="213.7" y2="251.1" stroke="#444" stroke-width="0.60"/>
<line x1="169.4" y1="206.8" x2="170.8" y2="206.8" stroke="#444" stroke-width="0.60"/>
<line x1="214.9" y1="249.7" x2="214.9" y2="251.1" stroke="#444" stroke-width="0.60"/>
<line x1="169.4" y1="205.6" x2="170.8" y2="205.6" stroke="#444" stroke-width="0.60"/>
<line x1="215.9" y1="249.7" x2="215.9" y2="251.1" stroke="#444" stroke-width="0.60"/>
<line x1="169.4" y1="204.6" x2="170.8" y2="204.6" stroke="#444" stroke-width="0.60"/>
<line x1="222.3" y1="249.7" x2="222.3" y2="251.1" stroke="#444" stroke-width="0.60"/>
<line x1="169.4" y1="198.2" x2="170.8" y2="198.2" stroke="#444" stroke-width="0.60"/>
<line x1="225.5" y1="249.7" x2="225.5" y2="251.1" stroke="#444" stroke-width="0.60"/>
<line x1="169.4" y1="195.0" x2="170.8" y2="195.0" stroke="#444" stroke-width="0.60"/>
<line x1="227.8" y1="249.7" x2="227.8" y2="251.1" stroke="#444" stroke-width="0.60"/>
<line x1="169.4" y1="192.7" x2="170.8" y2="192.7" stroke="#444" stroke-width="0.60"/>
<line x1="229.6" y1="249.7" x2="229.6" y2="251.1" stroke="#444" stroke-width="0.60"/>
<line x1="169.4" y1="190.9" x2="170.8" y2="190.9" stroke="#444" stroke-width="0.60"/>
<line x1="231.0" y1="249.7" x2="231.0" y2="251.1" stroke="#444" stroke-width="0.60"/>
<line x1="169.4" y1="189.5" x2="170.8" y2="189.5" stroke="#444" stroke-width="0.60"/>
<line x1="232.3" y1="249.7" x2="232.3" y2="251.1" stroke="#444" stroke-width="0.60"/>
<line x1="169.4" y1="188.2" x2="170.8" y2="188.2" stroke="#444" stroke-width="0.60"/>
<line x1="233.3" y1="249.7" x2="233.3" y2="251.1" stroke="#444" stroke-width="0.60"/>
<line x1="169.4" y1="187.2" x2="170.8" y2="187.2" stroke="#444" stroke-width="0.60"/>
<line x1="234.3" y1="249.7" x2="234.3" y2="251.1" stroke="#444" stroke-width="0.60"/>
<line x1="169.4" y1="186.2" x2="170.8" y2="186.2" stroke="#444" stroke-width="0.60"/>
<line x1="240.6" y1="249.7" x2="240.6" y2="251.1" stroke="#444" stroke-width="0.60"/>
<line x1="169.4" y1="179.9" x2="170.8" y2="179.9" stroke="#444" stroke-width="0.60"/>
<line x1="243.8" y1="249.7" x2="243.8" y2="251.1" stroke="#444" stroke-width="0.60"/>
<line x1="169.4" y1="176.7" x2="170.8" y2="176.7" stroke="#444" stroke-width="0.60"/>
<line x1="246.1" y1="249.7" x2="246.1" y2="251.1" stroke="#444" stroke-width="0.60"/>
<line x1="169.4" y1="174.4" x2="170.8" y2="174.4" stroke="#444" stroke-width="0.60"/>
<line x1="247.9" y1="249.7" x2="247.9" y2="251.1" stroke="#444" stroke-width="0.60"/>
<line x1="169.4" y1="172.6" x2="170.8" y2="172.6" stroke="#444" stroke-width="0.60"/>
<line x1="249.3" y1="249.7" x2="249.3" y2="251.1" stroke="#444" stroke-width="0.60"/>
<line x1="169.4" y1="171.2" x2="170.8" y2="171.2" stroke="#444" stroke-width="0.60"/>
<line x1="250.6" y1="249.7" x2="250.6" y2="251.1" stroke="#444" stroke-width="0.60"/>
<line x1="169.4" y1="169.9" x2="170.8" y2="169.9" stroke="#444" stroke-width="0.60"/>
<line x1="251.6" y1="249.7" x2="251.6" y2="251.1" stroke="#444" stroke-width="0.60"/>
<line x1="169.4" y1="168.9" x2="170.8" y2="168.9" stroke="#444" stroke-width="0.60"/>
<line x1="252.6" y1="249.7" x2="252.6" y2="251.1" stroke="#444" stroke-width="0.60"/>
<line x1="169.4" y1="167.9" x2="170.8" y2="167.9" stroke="#444" stroke-width="0.60"/>
<line x1="176.8" y1="249.7" x2="176.8" y2="251.1" stroke="#444" stroke-width="0.60"/>
<line x1="169.4" y1="243.7" x2="170.8" y2="243.7" stroke="#444" stroke-width="0.60"/>
<line x1="180.8" y1="249.7" x2="180.8" y2="251.1" stroke="#444" stroke-width="0.60"/>
<line x1="169.4" y1="239.7" x2="170.8" y2="239.7" stroke="#444" stroke-width="0.60"/>
<line x1="192.6" y1="249.7" x2="192.6" y2="251.1" stroke="#444" stroke-width="0.60"/>
<line x1="169.4" y1="227.9" x2="170.8" y2="227.9" stroke="#444" stroke-width="0.60"/>
<rect x="301.3" y="159.6" width="90.1" height="89.9" stroke="#6a6a6a" stroke-width="0.90" fill="none"/>
<line x1="301.3" y1="159.6" x2="301.3" y2="249.9" stroke="#222" stroke-width="1.00"/>
<line x1="300.9" y1="249.5" x2="391.4" y2="249.5" stroke="#222" stroke-width="1.00"/>
<line x1="318.8" y1="249.5" x2="318.8" y2="251.9" stroke="#222" stroke-width="0.90"/>
<line x1="298.9" y1="232.0" x2="301.3" y2="232.0" stroke="#222" stroke-width="0.90"/>
<text x="319.1" y="258.9" font-size="5.30" text-anchor="middle" font-weight="normal" fill="#555" >0</text>
<text x="297.7" y="233.9" font-size="5.30" text-anchor="end" font-weight="normal" fill="#555" >0</text>
<line x1="327.3" y1="249.5" x2="327.3" y2="251.9" stroke="#222" stroke-width="0.90"/>
<line x1="298.9" y1="223.5" x2="301.3" y2="223.5" stroke="#222" stroke-width="0.90"/>
<text x="327.6" y="258.9" font-size="5.30" text-anchor="middle" font-weight="normal" fill="#555" >10<tspan dy="-2" font-size="3.6">2</tspan></text>
<text x="297.7" y="225.4" font-size="5.30" text-anchor="end" font-weight="normal" fill="#555" >10<tspan dy="-2" font-size="3.6">2</tspan></text>
<line x1="347.3" y1="249.5" x2="347.3" y2="251.9" stroke="#222" stroke-width="0.90"/>
<line x1="298.9" y1="203.5" x2="301.3" y2="203.5" stroke="#222" stroke-width="0.90"/>
<text x="347.6" y="258.9" font-size="5.30" text-anchor="middle" font-weight="normal" fill="#555" >10<tspan dy="-2" font-size="3.6">3</tspan></text>
<text x="297.7" y="205.4" font-size="5.30" text-anchor="end" font-weight="normal" fill="#555" >10<tspan dy="-2" font-size="3.6">3</tspan></text>
<line x1="365.6" y1="249.5" x2="365.6" y2="251.9" stroke="#222" stroke-width="0.90"/>
<line x1="298.9" y1="185.2" x2="301.3" y2="185.2" stroke="#222" stroke-width="0.90"/>
<text x="365.9" y="258.9" font-size="5.30" text-anchor="middle" font-weight="normal" fill="#555" >10<tspan dy="-2" font-size="3.6">4</tspan></text>
<text x="297.7" y="187.1" font-size="5.30" text-anchor="end" font-weight="normal" fill="#555" >10<tspan dy="-2" font-size="3.6">4</tspan></text>
<line x1="383.9" y1="249.5" x2="383.9" y2="251.9" stroke="#222" stroke-width="0.90"/>
<line x1="298.9" y1="166.9" x2="301.3" y2="166.9" stroke="#222" stroke-width="0.90"/>
<text x="384.2" y="258.9" font-size="5.30" text-anchor="middle" font-weight="normal" fill="#555" >10<tspan dy="-2" font-size="3.6">5</tspan></text>
<text x="297.7" y="168.8" font-size="5.30" text-anchor="end" font-weight="normal" fill="#555" >10<tspan dy="-2" font-size="3.6">5</tspan></text>
<line x1="333.3" y1="249.5" x2="333.3" y2="250.9" stroke="#444" stroke-width="0.60"/>
<line x1="299.9" y1="217.5" x2="301.3" y2="217.5" stroke="#444" stroke-width="0.60"/>
<line x1="336.8" y1="249.5" x2="336.8" y2="250.9" stroke="#444" stroke-width="0.60"/>
<line x1="299.9" y1="214.0" x2="301.3" y2="214.0" stroke="#444" stroke-width="0.60"/>
<line x1="339.3" y1="249.5" x2="339.3" y2="250.9" stroke="#444" stroke-width="0.60"/>
<line x1="299.9" y1="211.5" x2="301.3" y2="211.5" stroke="#444" stroke-width="0.60"/>
<line x1="341.3" y1="249.5" x2="341.3" y2="250.9" stroke="#444" stroke-width="0.60"/>
<line x1="299.9" y1="209.5" x2="301.3" y2="209.5" stroke="#444" stroke-width="0.60"/>
<line x1="342.9" y1="249.5" x2="342.9" y2="250.9" stroke="#444" stroke-width="0.60"/>
<line x1="299.9" y1="207.9" x2="301.3" y2="207.9" stroke="#444" stroke-width="0.60"/>
<line x1="344.2" y1="249.5" x2="344.2" y2="250.9" stroke="#444" stroke-width="0.60"/>
<line x1="299.9" y1="206.6" x2="301.3" y2="206.6" stroke="#444" stroke-width="0.60"/>
<line x1="345.4" y1="249.5" x2="345.4" y2="250.9" stroke="#444" stroke-width="0.60"/>
<line x1="299.9" y1="205.4" x2="301.3" y2="205.4" stroke="#444" stroke-width="0.60"/>
<line x1="346.4" y1="249.5" x2="346.4" y2="250.9" stroke="#444" stroke-width="0.60"/>
<line x1="299.9" y1="204.4" x2="301.3" y2="204.4" stroke="#444" stroke-width="0.60"/>
<line x1="352.8" y1="249.5" x2="352.8" y2="250.9" stroke="#444" stroke-width="0.60"/>
<line x1="299.9" y1="198.0" x2="301.3" y2="198.0" stroke="#444" stroke-width="0.60"/>
<line x1="356.0" y1="249.5" x2="356.0" y2="250.9" stroke="#444" stroke-width="0.60"/>
<line x1="299.9" y1="194.8" x2="301.3" y2="194.8" stroke="#444" stroke-width="0.60"/>
<line x1="358.3" y1="249.5" x2="358.3" y2="250.9" stroke="#444" stroke-width="0.60"/>
<line x1="299.9" y1="192.5" x2="301.3" y2="192.5" stroke="#444" stroke-width="0.60"/>
<line x1="360.1" y1="249.5" x2="360.1" y2="250.9" stroke="#444" stroke-width="0.60"/>
<line x1="299.9" y1="190.7" x2="301.3" y2="190.7" stroke="#444" stroke-width="0.60"/>
<line x1="361.5" y1="249.5" x2="361.5" y2="250.9" stroke="#444" stroke-width="0.60"/>
<line x1="299.9" y1="189.3" x2="301.3" y2="189.3" stroke="#444" stroke-width="0.60"/>
<line x1="362.8" y1="249.5" x2="362.8" y2="250.9" stroke="#444" stroke-width="0.60"/>
<line x1="299.9" y1="188.0" x2="301.3" y2="188.0" stroke="#444" stroke-width="0.60"/>
<line x1="363.8" y1="249.5" x2="363.8" y2="250.9" stroke="#444" stroke-width="0.60"/>
<line x1="299.9" y1="187.0" x2="301.3" y2="187.0" stroke="#444" stroke-width="0.60"/>
<line x1="364.8" y1="249.5" x2="364.8" y2="250.9" stroke="#444" stroke-width="0.60"/>
<line x1="299.9" y1="186.0" x2="301.3" y2="186.0" stroke="#444" stroke-width="0.60"/>
<line x1="371.1" y1="249.5" x2="371.1" y2="250.9" stroke="#444" stroke-width="0.60"/>
<line x1="299.9" y1="179.7" x2="301.3" y2="179.7" stroke="#444" stroke-width="0.60"/>
<line x1="374.3" y1="249.5" x2="374.3" y2="250.9" stroke="#444" stroke-width="0.60"/>
<line x1="299.9" y1="176.5" x2="301.3" y2="176.5" stroke="#444" stroke-width="0.60"/>
<line x1="376.6" y1="249.5" x2="376.6" y2="250.9" stroke="#444" stroke-width="0.60"/>
<line x1="299.9" y1="174.2" x2="301.3" y2="174.2" stroke="#444" stroke-width="0.60"/>
<line x1="378.4" y1="249.5" x2="378.4" y2="250.9" stroke="#444" stroke-width="0.60"/>
<line x1="299.9" y1="172.4" x2="301.3" y2="172.4" stroke="#444" stroke-width="0.60"/>
<line x1="379.8" y1="249.5" x2="379.8" y2="250.9" stroke="#444" stroke-width="0.60"/>
<line x1="299.9" y1="171.0" x2="301.3" y2="171.0" stroke="#444" stroke-width="0.60"/>
<line x1="381.1" y1="249.5" x2="381.1" y2="250.9" stroke="#444" stroke-width="0.60"/>
<line x1="299.9" y1="169.7" x2="301.3" y2="169.7" stroke="#444" stroke-width="0.60"/>
<line x1="382.1" y1="249.5" x2="382.1" y2="250.9" stroke="#444" stroke-width="0.60"/>
<line x1="299.9" y1="168.7" x2="301.3" y2="168.7" stroke="#444" stroke-width="0.60"/>
<line x1="383.1" y1="249.5" x2="383.1" y2="250.9" stroke="#444" stroke-width="0.60"/>
<line x1="299.9" y1="167.7" x2="301.3" y2="167.7" stroke="#444" stroke-width="0.60"/>
<line x1="307.3" y1="249.5" x2="307.3" y2="250.9" stroke="#444" stroke-width="0.60"/>
<line x1="299.9" y1="243.5" x2="301.3" y2="243.5" stroke="#444" stroke-width="0.60"/>
<line x1="311.3" y1="249.5" x2="311.3" y2="250.9" stroke="#444" stroke-width="0.60"/>
<line x1="299.9" y1="239.5" x2="301.3" y2="239.5" stroke="#444" stroke-width="0.60"/>
<line x1="323.1" y1="249.5" x2="323.1" y2="250.9" stroke="#444" stroke-width="0.60"/>
<line x1="299.9" y1="227.7" x2="301.3" y2="227.7" stroke="#444" stroke-width="0.60"/>
<rect x="428.8" y="160.0" width="90.0" height="90.0" stroke="#6a6a6a" stroke-width="0.90" fill="none"/>
<line x1="428.8" y1="160.0" x2="428.8" y2="250.4" stroke="#222" stroke-width="1.00"/>
<line x1="428.4" y1="250.0" x2="518.8" y2="250.0" stroke="#222" stroke-width="1.00"/>
<line x1="446.3" y1="250.0" x2="446.3" y2="252.4" stroke="#222" stroke-width="0.90"/>
<line x1="426.4" y1="232.5" x2="428.8" y2="232.5" stroke="#222" stroke-width="0.90"/>
<text x="446.6" y="259.4" font-size="5.30" text-anchor="middle" font-weight="normal" fill="#555" >0</text>
<text x="425.2" y="234.4" font-size="5.30" text-anchor="end" font-weight="normal" fill="#555" >0</text>
<line x1="454.8" y1="250.0" x2="454.8" y2="252.4" stroke="#222" stroke-width="0.90"/>
<line x1="426.4" y1="224.0" x2="428.8" y2="224.0" stroke="#222" stroke-width="0.90"/>
<text x="455.1" y="259.4" font-size="5.30" text-anchor="middle" font-weight="normal" fill="#555" >10<tspan dy="-2" font-size="3.6">2</tspan></text>
<text x="425.2" y="225.9" font-size="5.30" text-anchor="end" font-weight="normal" fill="#555" >10<tspan dy="-2" font-size="3.6">2</tspan></text>
<line x1="474.8" y1="250.0" x2="474.8" y2="252.4" stroke="#222" stroke-width="0.90"/>
<line x1="426.4" y1="204.0" x2="428.8" y2="204.0" stroke="#222" stroke-width="0.90"/>
<text x="475.1" y="259.4" font-size="5.30" text-anchor="middle" font-weight="normal" fill="#555" >10<tspan dy="-2" font-size="3.6">3</tspan></text>
<text x="425.2" y="205.9" font-size="5.30" text-anchor="end" font-weight="normal" fill="#555" >10<tspan dy="-2" font-size="3.6">3</tspan></text>
<line x1="493.1" y1="250.0" x2="493.1" y2="252.4" stroke="#222" stroke-width="0.90"/>
<line x1="426.4" y1="185.7" x2="428.8" y2="185.7" stroke="#222" stroke-width="0.90"/>
<text x="493.4" y="259.4" font-size="5.30" text-anchor="middle" font-weight="normal" fill="#555" >10<tspan dy="-2" font-size="3.6">4</tspan></text>
<text x="425.2" y="187.6" font-size="5.30" text-anchor="end" font-weight="normal" fill="#555" >10<tspan dy="-2" font-size="3.6">4</tspan></text>
<line x1="511.4" y1="250.0" x2="511.4" y2="252.4" stroke="#222" stroke-width="0.90"/>
<line x1="426.4" y1="167.4" x2="428.8" y2="167.4" stroke="#222" stroke-width="0.90"/>
<text x="511.7" y="259.4" font-size="5.30" text-anchor="middle" font-weight="normal" fill="#555" >10<tspan dy="-2" font-size="3.6">5</tspan></text>
<text x="425.2" y="169.3" font-size="5.30" text-anchor="end" font-weight="normal" fill="#555" >10<tspan dy="-2" font-size="3.6">5</tspan></text>
<line x1="460.8" y1="250.0" x2="460.8" y2="251.4" stroke="#444" stroke-width="0.60"/>
<line x1="427.4" y1="218.0" x2="428.8" y2="218.0" stroke="#444" stroke-width="0.60"/>
<line x1="464.3" y1="250.0" x2="464.3" y2="251.4" stroke="#444" stroke-width="0.60"/>
<line x1="427.4" y1="214.5" x2="428.8" y2="214.5" stroke="#444" stroke-width="0.60"/>
<line x1="466.8" y1="250.0" x2="466.8" y2="251.4" stroke="#444" stroke-width="0.60"/>
<line x1="427.4" y1="212.0" x2="428.8" y2="212.0" stroke="#444" stroke-width="0.60"/>
<line x1="468.8" y1="250.0" x2="468.8" y2="251.4" stroke="#444" stroke-width="0.60"/>
<line x1="427.4" y1="210.0" x2="428.8" y2="210.0" stroke="#444" stroke-width="0.60"/>
<line x1="470.4" y1="250.0" x2="470.4" y2="251.4" stroke="#444" stroke-width="0.60"/>
<line x1="427.4" y1="208.4" x2="428.8" y2="208.4" stroke="#444" stroke-width="0.60"/>
<line x1="471.7" y1="250.0" x2="471.7" y2="251.4" stroke="#444" stroke-width="0.60"/>
<line x1="427.4" y1="207.1" x2="428.8" y2="207.1" stroke="#444" stroke-width="0.60"/>
<line x1="472.9" y1="250.0" x2="472.9" y2="251.4" stroke="#444" stroke-width="0.60"/>
<line x1="427.4" y1="205.9" x2="428.8" y2="205.9" stroke="#444" stroke-width="0.60"/>
<line x1="473.9" y1="250.0" x2="473.9" y2="251.4" stroke="#444" stroke-width="0.60"/>
<line x1="427.4" y1="204.9" x2="428.8" y2="204.9" stroke="#444" stroke-width="0.60"/>
<line x1="480.3" y1="250.0" x2="480.3" y2="251.4" stroke="#444" stroke-width="0.60"/>
<line x1="427.4" y1="198.5" x2="428.8" y2="198.5" stroke="#444" stroke-width="0.60"/>
<line x1="483.5" y1="250.0" x2="483.5" y2="251.4" stroke="#444" stroke-width="0.60"/>
<line x1="427.4" y1="195.3" x2="428.8" y2="195.3" stroke="#444" stroke-width="0.60"/>
<line x1="485.8" y1="250.0" x2="485.8" y2="251.4" stroke="#444" stroke-width="0.60"/>
<line x1="427.4" y1="193.0" x2="428.8" y2="193.0" stroke="#444" stroke-width="0.60"/>
<line x1="487.6" y1="250.0" x2="487.6" y2="251.4" stroke="#444" stroke-width="0.60"/>
<line x1="427.4" y1="191.2" x2="428.8" y2="191.2" stroke="#444" stroke-width="0.60"/>
<line x1="489.0" y1="250.0" x2="489.0" y2="251.4" stroke="#444" stroke-width="0.60"/>
<line x1="427.4" y1="189.8" x2="428.8" y2="189.8" stroke="#444" stroke-width="0.60"/>
<line x1="490.3" y1="250.0" x2="490.3" y2="251.4" stroke="#444" stroke-width="0.60"/>
<line x1="427.4" y1="188.5" x2="428.8" y2="188.5" stroke="#444" stroke-width="0.60"/>
<line x1="491.3" y1="250.0" x2="491.3" y2="251.4" stroke="#444" stroke-width="0.60"/>
<line x1="427.4" y1="187.5" x2="428.8" y2="187.5" stroke="#444" stroke-width="0.60"/>
<line x1="492.3" y1="250.0" x2="492.3" y2="251.4" stroke="#444" stroke-width="0.60"/>
<line x1="427.4" y1="186.5" x2="428.8" y2="186.5" stroke="#444" stroke-width="0.60"/>
<line x1="498.6" y1="250.0" x2="498.6" y2="251.4" stroke="#444" stroke-width="0.60"/>
<line x1="427.4" y1="180.2" x2="428.8" y2="180.2" stroke="#444" stroke-width="0.60"/>
<line x1="501.8" y1="250.0" x2="501.8" y2="251.4" stroke="#444" stroke-width="0.60"/>
<line x1="427.4" y1="177.0" x2="428.8" y2="177.0" stroke="#444" stroke-width="0.60"/>
<line x1="504.1" y1="250.0" x2="504.1" y2="251.4" stroke="#444" stroke-width="0.60"/>
<line x1="427.4" y1="174.7" x2="428.8" y2="174.7" stroke="#444" stroke-width="0.60"/>
<line x1="505.9" y1="250.0" x2="505.9" y2="251.4" stroke="#444" stroke-width="0.60"/>
<line x1="427.4" y1="172.9" x2="428.8" y2="172.9" stroke="#444" stroke-width="0.60"/>
<line x1="507.3" y1="250.0" x2="507.3" y2="251.4" stroke="#444" stroke-width="0.60"/>
<line x1="427.4" y1="171.5" x2="428.8" y2="171.5" stroke="#444" stroke-width="0.60"/>
<line x1="508.6" y1="250.0" x2="508.6" y2="251.4" stroke="#444" stroke-width="0.60"/>
<line x1="427.4" y1="170.2" x2="428.8" y2="170.2" stroke="#444" stroke-width="0.60"/>
<line x1="509.6" y1="250.0" x2="509.6" y2="251.4" stroke="#444" stroke-width="0.60"/>
<line x1="427.4" y1="169.2" x2="428.8" y2="169.2" stroke="#444" stroke-width="0.60"/>
<line x1="510.6" y1="250.0" x2="510.6" y2="251.4" stroke="#444" stroke-width="0.60"/>
<line x1="427.4" y1="168.2" x2="428.8" y2="168.2" stroke="#444" stroke-width="0.60"/>
<line x1="434.8" y1="250.0" x2="434.8" y2="251.4" stroke="#444" stroke-width="0.60"/>
<line x1="427.4" y1="244.0" x2="428.8" y2="244.0" stroke="#444" stroke-width="0.60"/>
<line x1="438.8" y1="250.0" x2="438.8" y2="251.4" stroke="#444" stroke-width="0.60"/>
<line x1="427.4" y1="240.0" x2="428.8" y2="240.0" stroke="#444" stroke-width="0.60"/>
<line x1="450.6" y1="250.0" x2="450.6" y2="251.4" stroke="#444" stroke-width="0.60"/>
<line x1="427.4" y1="228.2" x2="428.8" y2="228.2" stroke="#444" stroke-width="0.60"/>
<rect x="116.9" y="28.5" width="22.1" height="16.8" fill="#fff"/>
<rect x="371.9" y="29.8" width="21.4" height="17.4" fill="#fff"/>
<rect x="114.7" y="154.6" width="22.0" height="16.1" fill="#fff"/>
<rect x="377.4" y="153.6" width="17.0" height="15.6" fill="#fff"/>
<line x1="136.0" y1="42.9" x2="136.0" y2="124.8" stroke="#6a6a6a" stroke-width="0.90"/>
<line x1="390.3" y1="47.2" x2="390.3" y2="125.8" stroke="#6a6a6a" stroke-width="0.90"/>
<line x1="133.7" y1="170.7" x2="133.7" y2="251.0" stroke="#6a6a6a" stroke-width="0.90"/>
<line x1="391.4" y1="169.2" x2="391.4" y2="249.5" stroke="#6a6a6a" stroke-width="0.90"/>
<g style="mix-blend-mode:multiply">
<line x1="84.2" y1="37.3" x2="116.9" y2="37.3" stroke="#606060" stroke-width="1.15"/>
<line x1="84.2" y1="37.3" x2="84.2" y2="116.5" stroke="#606060" stroke-width="1.15"/>
<line x1="84.2" y1="116.5" x2="132.2" y2="116.5" stroke="#606060" stroke-width="1.15"/>
<line x1="132.2" y1="45.3" x2="132.2" y2="116.5" stroke="#606060" stroke-width="1.15"/>
<line x1="174.0" y1="41.9" x2="258.7" y2="41.9" stroke="#606060" stroke-width="1.15"/>
<line x1="174.0" y1="41.9" x2="174.0" y2="98.3" stroke="#606060" stroke-width="1.15"/>
<line x1="174.0" y1="98.3" x2="258.7" y2="98.3" stroke="#606060" stroke-width="1.15"/>
<line x1="212.5" y1="41.9" x2="212.5" y2="123.3" stroke="#606060" stroke-width="1.15"/>
<line x1="212.5" y1="123.3" x2="258.7" y2="123.3" stroke="#606060" stroke-width="1.15"/>
<line x1="341.2" y1="40.0" x2="371.9" y2="40.0" stroke="#606060" stroke-width="1.15"/>
<line x1="341.2" y1="40.0" x2="341.2" y2="117.2" stroke="#606060" stroke-width="1.15"/>
<line x1="341.2" y1="117.2" x2="387.8" y2="117.2" stroke="#606060" stroke-width="1.15"/>
<line x1="387.8" y1="47.2" x2="387.8" y2="117.2" stroke="#606060" stroke-width="1.15"/>
<line x1="431.2" y1="40.7" x2="517.9" y2="40.7" stroke="#606060" stroke-width="1.15"/>
<line x1="431.2" y1="40.7" x2="431.2" y2="98.6" stroke="#606060" stroke-width="1.15"/>
<line x1="431.2" y1="98.6" x2="517.9" y2="98.6" stroke="#606060" stroke-width="1.15"/>
<line x1="471.8" y1="40.7" x2="471.8" y2="124.4" stroke="#606060" stroke-width="1.15"/>
<line x1="471.8" y1="124.4" x2="517.9" y2="124.4" stroke="#606060" stroke-width="1.15"/>
<line x1="82.5" y1="163.9" x2="114.7" y2="163.9" stroke="#606060" stroke-width="1.15"/>
<line x1="82.5" y1="163.9" x2="82.5" y2="242.0" stroke="#606060" stroke-width="1.15"/>
<line x1="82.5" y1="242.0" x2="130.1" y2="242.0" stroke="#606060" stroke-width="1.15"/>
<line x1="130.1" y1="170.7" x2="130.1" y2="242.0" stroke="#606060" stroke-width="1.15"/>
<line x1="172.6" y1="166.3" x2="256.3" y2="166.3" stroke="#606060" stroke-width="1.15"/>
<line x1="172.6" y1="166.3" x2="172.6" y2="223.6" stroke="#606060" stroke-width="1.15"/>
<line x1="172.6" y1="223.6" x2="256.3" y2="223.6" stroke="#606060" stroke-width="1.15"/>
<line x1="210.2" y1="166.3" x2="210.2" y2="247.4" stroke="#606060" stroke-width="1.15"/>
<line x1="210.2" y1="247.4" x2="256.3" y2="247.4" stroke="#606060" stroke-width="1.15"/>
<line x1="340.5" y1="162.8" x2="377.4" y2="162.8" stroke="#606060" stroke-width="1.15"/>
<line x1="340.5" y1="162.8" x2="340.5" y2="242.0" stroke="#606060" stroke-width="1.15"/>
<line x1="340.5" y1="242.0" x2="387.8" y2="242.0" stroke="#606060" stroke-width="1.15"/>
<line x1="387.8" y1="169.2" x2="387.8" y2="242.0" stroke="#606060" stroke-width="1.15"/>
<line x1="430.0" y1="167.0" x2="513.8" y2="167.0" stroke="#606060" stroke-width="1.15"/>
<line x1="430.0" y1="167.0" x2="430.0" y2="223.2" stroke="#606060" stroke-width="1.15"/>
<line x1="430.0" y1="223.2" x2="513.8" y2="223.2" stroke="#606060" stroke-width="1.15"/>
<line x1="468.0" y1="167.0" x2="468.0" y2="247.5" stroke="#606060" stroke-width="1.15"/>
<line x1="468.0" y1="247.5" x2="513.8" y2="247.5" stroke="#606060" stroke-width="1.15"/>
<line x1="258.7" y1="41.9" x2="258.7" y2="123.3" stroke="#606060" stroke-width="1.40"/>
<line x1="517.9" y1="40.7" x2="517.9" y2="124.4" stroke="#606060" stroke-width="1.40"/>
<line x1="256.3" y1="166.3" x2="256.3" y2="247.4" stroke="#606060" stroke-width="1.40"/>
<line x1="513.8" y1="167.0" x2="513.8" y2="247.5" stroke="#606060" stroke-width="1.40"/>
</g>
<text x="123.2" y="39.8" font-size="11.50" text-anchor="start" font-weight="normal" fill="#111" >74</text>
<text x="375.4" y="43.6" font-size="11.50" text-anchor="start" font-weight="normal" fill="#111" >78</text>
<text x="116.8" y="166.5" font-size="11.50" text-anchor="start" font-weight="normal" fill="#111" >60</text>
<text x="380.8" y="164.6" font-size="11.50" text-anchor="start" font-weight="normal" fill="#111" >5</text>
<text x="28.9" y="79.6" font-size="13.30" text-anchor="middle" font-weight="normal" fill="#1a1a1a" transform="rotate(-90 28.9 79.6)" stroke="#1a1a1a" stroke-width="0.12" >CD38</text>
<text x="155.3" y="81.5" font-size="13.30" text-anchor="middle" font-weight="normal" fill="#1a1a1a" transform="rotate(-90 155.3 81.5)" stroke="#1a1a1a" stroke-width="0.12" >CD123</text>
<text x="283.2" y="80.7" font-size="13.30" text-anchor="middle" font-weight="normal" fill="#1a1a1a" transform="rotate(-90 283.2 80.7)" stroke="#1a1a1a" stroke-width="0.12" >CD38</text>
<text x="413.4" y="81.6" font-size="13.30" text-anchor="middle" font-weight="normal" fill="#1a1a1a" transform="rotate(-90 413.4 81.6)" stroke="#1a1a1a" stroke-width="0.12" >CD123</text>
<text x="28.1" y="207.4" font-size="13.30" text-anchor="middle" font-weight="normal" fill="#1a1a1a" transform="rotate(-90 28.1 207.4)" stroke="#1a1a1a" stroke-width="0.12" >CD38</text>
<text x="154.8" y="207.6" font-size="13.30" text-anchor="middle" font-weight="normal" fill="#1a1a1a" transform="rotate(-90 154.8 207.6)" stroke="#1a1a1a" stroke-width="0.12" >CD123</text>
<text x="285.3" y="207.4" font-size="13.30" text-anchor="middle" font-weight="normal" fill="#1a1a1a" transform="rotate(-90 285.3 207.4)" stroke="#1a1a1a" stroke-width="0.12" >CD38</text>
<text x="413.6" y="207.4" font-size="13.30" text-anchor="middle" font-weight="normal" fill="#1a1a1a" transform="rotate(-90 413.6 207.4)" stroke="#1a1a1a" stroke-width="0.12" >CD123</text>
<text x="81.0" y="277.6" font-size="13.30" text-anchor="middle" font-weight="normal" fill="#1a1a1a" stroke="#1a1a1a" stroke-width="0.12" >CD34</text>
<text x="212.8" y="277.6" font-size="13.30" text-anchor="middle" font-weight="normal" fill="#1a1a1a" stroke="#1a1a1a" stroke-width="0.12" >CD45RA</text>
<text x="344.6" y="278.0" font-size="13.30" text-anchor="middle" font-weight="normal" fill="#1a1a1a" stroke="#1a1a1a" stroke-width="0.12" >CD34</text>
<text x="473.7" y="278.0" font-size="13.30" text-anchor="middle" font-weight="normal" fill="#1a1a1a" stroke="#1a1a1a" stroke-width="0.12" >CD45RA</text>
<line x1="119.4" y1="106.1" x2="145.0" y2="106.1" stroke="#111" stroke-width="1.35"/>
<path d="M148.0,106.1 L143.0,103.5 L143.0,108.7 Z" fill="#111"/>
<line x1="379.0" y1="106.0" x2="404.2" y2="106.0" stroke="#111" stroke-width="1.35"/>
<path d="M407.2,106.0 L402.2,103.4 L402.2,108.6 Z" fill="#111"/>
<line x1="120.0" y1="232.0" x2="146.2" y2="232.0" stroke="#111" stroke-width="1.35"/>
<path d="M149.2,232.0 L144.2,229.4 L144.2,234.6 Z" fill="#111"/>
<line x1="378.8" y1="233.0" x2="404.6" y2="233.0" stroke="#111" stroke-width="1.35"/>
<path d="M407.6,233.0 L402.6,230.4 L402.6,235.6 Z" fill="#111"/>
<text x="1.8" y="315.6" font-size="20.00" text-anchor="start" font-weight="bold" fill="#0a0a0a" >B</text>
<line x1="88.5" y1="327.2" x2="88.5" y2="440.4" stroke="#444" stroke-width="1.00"/>
<line x1="88.5" y1="440.4" x2="246.0" y2="440.4" stroke="#444" stroke-width="1.00"/>
<line x1="85.0" y1="440.4" x2="88.5" y2="440.4" stroke="#444" stroke-width="1.00"/>
<text x="84.6" y="445.0" font-size="13.00" text-anchor="end" font-weight="normal" fill="#222" stroke="#222" stroke-width="0.12" >0</text>
<line x1="85.0" y1="417.8" x2="88.5" y2="417.8" stroke="#444" stroke-width="1.00"/>
<text x="84.6" y="422.4" font-size="13.00" text-anchor="end" font-weight="normal" fill="#222" stroke="#222" stroke-width="0.12" >20</text>
<line x1="85.0" y1="395.1" x2="88.5" y2="395.1" stroke="#444" stroke-width="1.00"/>
<text x="84.6" y="399.7" font-size="13.00" text-anchor="end" font-weight="normal" fill="#222" stroke="#222" stroke-width="0.12" >40</text>
<line x1="85.0" y1="372.5" x2="88.5" y2="372.5" stroke="#444" stroke-width="1.00"/>
<text x="84.6" y="377.1" font-size="13.00" text-anchor="end" font-weight="normal" fill="#222" stroke="#222" stroke-width="0.12" >60</text>
<line x1="85.0" y1="349.8" x2="88.5" y2="349.8" stroke="#444" stroke-width="1.00"/>
<text x="84.6" y="354.4" font-size="13.00" text-anchor="end" font-weight="normal" fill="#222" stroke="#222" stroke-width="0.12" >80</text>
<line x1="85.0" y1="327.2" x2="88.5" y2="327.2" stroke="#444" stroke-width="1.00"/>
<text x="84.6" y="331.8" font-size="13.00" text-anchor="end" font-weight="normal" fill="#222" stroke="#222" stroke-width="0.12" >100</text>
<text x="28.4" y="328.0" font-size="13.00" text-anchor="end" font-weight="normal" fill="#222" transform="rotate(-90 28.4 328.0)" stroke="#222" stroke-width="0.12" >Freq. CD34<tspan font-size="7.8" dy="-4.5">+</tspan><tspan dy="4.5">CD123</tspan><tspan font-size="7.8" dy="-4.5">+</tspan></text>
<text x="43.2" y="328.0" font-size="13.00" text-anchor="end" font-weight="normal" fill="#222" transform="rotate(-90 43.2 328.0)" stroke="#222" stroke-width="0.12" >CD45RA<tspan font-size="7.8" dy="-4.5">+</tspan><tspan dy="4.5"> of lin</tspan><tspan font-size="7.8" dy="-4.5">&#8211;</tspan><tspan dy="4.5"> (%)</tspan></text>
<text x="107.2" y="461.3" font-size="13.20" text-anchor="middle" font-weight="normal" fill="#222" stroke="#222" stroke-width="0.12" >Pre</text>
<text x="148.1" y="461.3" font-size="13.20" text-anchor="middle" font-weight="normal" fill="#222" stroke="#222" stroke-width="0.12" >Post</text>
<text x="186.3" y="461.3" font-size="13.20" text-anchor="middle" font-weight="normal" fill="#222" stroke="#222" stroke-width="0.12" >Pre</text>
<text x="226.9" y="461.3" font-size="13.20" text-anchor="middle" font-weight="normal" fill="#222" stroke="#222" stroke-width="0.12" >Post</text>
<line x1="108.3" y1="361.6" x2="147.4" y2="374.3" stroke="#1a1a1a" stroke-width="1.15"/>
<line x1="108.3" y1="370.7" x2="147.4" y2="423.0" stroke="#1a1a1a" stroke-width="1.15"/>
<line x1="108.3" y1="379.4" x2="147.4" y2="393.0" stroke="#1a1a1a" stroke-width="1.15"/>
<line x1="108.3" y1="430.2" x2="147.4" y2="393.0" stroke="#1a1a1a" stroke-width="1.15"/>
<line x1="108.3" y1="435.9" x2="147.4" y2="430.2" stroke="#1a1a1a" stroke-width="1.15"/>
<line x1="108.3" y1="437.9" x2="147.4" y2="436.4" stroke="#1a1a1a" stroke-width="1.15"/>
<line x1="108.3" y1="439.8" x2="147.4" y2="430.2" stroke="#1a1a1a" stroke-width="1.15"/>
<line x1="108.3" y1="435.9" x2="147.4" y2="438.9" stroke="#1a1a1a" stroke-width="1.15"/>
<line x1="108.3" y1="437.9" x2="147.4" y2="438.9" stroke="#1a1a1a" stroke-width="1.15"/>
<line x1="108.3" y1="439.8" x2="147.4" y2="436.4" stroke="#1a1a1a" stroke-width="1.15"/>
<circle cx="108.3" cy="333.4" r="2.75" fill="#6e6e6e" stroke="#2a2a2a" stroke-width="0.9"/>
<circle cx="108.3" cy="361.6" r="2.75" fill="#6e6e6e" stroke="#2a2a2a" stroke-width="0.9"/>
<circle cx="108.3" cy="370.7" r="2.75" fill="#6e6e6e" stroke="#2a2a2a" stroke-width="0.9"/>
<circle cx="108.3" cy="379.4" r="2.75" fill="#6e6e6e" stroke="#2a2a2a" stroke-width="0.9"/>
<circle cx="108.3" cy="430.2" r="2.75" fill="#6e6e6e" stroke="#2a2a2a" stroke-width="0.9"/>
<circle cx="108.3" cy="435.9" r="2.75" fill="#6e6e6e" stroke="#2a2a2a" stroke-width="0.9"/>
<circle cx="108.3" cy="437.9" r="2.75" fill="#6e6e6e" stroke="#2a2a2a" stroke-width="0.9"/>
<circle cx="108.3" cy="439.8" r="2.75" fill="#6e6e6e" stroke="#2a2a2a" stroke-width="0.9"/>
<circle cx="147.4" cy="374.3" r="2.75" fill="#6e6e6e" stroke="#2a2a2a" stroke-width="0.9"/>
<circle cx="147.4" cy="393.0" r="2.75" fill="#6e6e6e" stroke="#2a2a2a" stroke-width="0.9"/>
<circle cx="147.4" cy="423.0" r="2.75" fill="#6e6e6e" stroke="#2a2a2a" stroke-width="0.9"/>
<circle cx="147.4" cy="430.2" r="2.75" fill="#6e6e6e" stroke="#2a2a2a" stroke-width="0.9"/>
<circle cx="147.4" cy="436.4" r="2.75" fill="#6e6e6e" stroke="#2a2a2a" stroke-width="0.9"/>
<circle cx="147.4" cy="438.9" r="2.75" fill="#6e6e6e" stroke="#2a2a2a" stroke-width="0.9"/>
<line x1="187.0" y1="358.9" x2="226.7" y2="438.7" stroke="#1a1a1a" stroke-width="1.15"/>
<line x1="187.0" y1="406.4" x2="226.7" y2="438.7" stroke="#1a1a1a" stroke-width="1.15"/>
<line x1="187.0" y1="421.3" x2="226.7" y2="437.6" stroke="#1a1a1a" stroke-width="1.15"/>
<rect x="184.3" y="354.8" width="5.4" height="5.4" fill="#fff" stroke="#222" stroke-width="1"/>
<rect x="184.3" y="356.6" width="5.4" height="5.4" fill="#fff" stroke="#222" stroke-width="1"/>
<rect x="184.3" y="403.6" width="5.4" height="5.4" fill="#fff" stroke="#222" stroke-width="1"/>
<rect x="184.3" y="418.6" width="5.4" height="5.4" fill="#fff" stroke="#222" stroke-width="1"/>
<rect x="224.0" y="428.6" width="5.4" height="5.4" fill="#fff" stroke="#222" stroke-width="1"/>
<rect x="224.0" y="432.3" width="5.4" height="5.4" fill="#fff" stroke="#222" stroke-width="1"/>
<rect x="224.0" y="435.3" width="5.4" height="5.4" fill="#fff" stroke="#222" stroke-width="1"/>
<rect x="224.0" y="437.3" width="5.4" height="5.4" fill="#fff" stroke="#222" stroke-width="1"/>
<text x="268.8" y="315.8" font-size="20.30" text-anchor="start" font-weight="bold" fill="#0a0a0a" >C</text>
<text x="377.8" y="312.8" font-size="15.60" text-anchor="start" font-weight="normal" fill="#1a1a1a" stroke="#1a1a1a" stroke-width="0.12" >Responder</text>
<text x="307.3" y="363.1" font-size="13.30" text-anchor="middle" font-weight="normal" fill="#222" transform="rotate(-90 307.3 363.1)" stroke="#222" stroke-width="0.12" >% of max</text>
<rect x="322.0" y="321.5" width="85.0" height="84.5" stroke="#777" stroke-width="0.80" fill="none"/>
<line x1="322.0" y1="321.5" x2="322.0" y2="406.4" stroke="#222" stroke-width="1.00"/>
<line x1="321.6" y1="406.0" x2="407.0" y2="406.0" stroke="#222" stroke-width="1.00"/>
<line x1="320.0" y1="406.0" x2="322.0" y2="406.0" stroke="#444" stroke-width="0.70"/>
<text x="318.4" y="407.7" font-size="4.60" text-anchor="end" font-weight="normal" fill="#666" >0</text>
<line x1="320.0" y1="390.0" x2="322.0" y2="390.0" stroke="#444" stroke-width="0.70"/>
<text x="318.4" y="391.7" font-size="4.60" text-anchor="end" font-weight="normal" fill="#666" >20</text>
<line x1="320.0" y1="374.0" x2="322.0" y2="374.0" stroke="#444" stroke-width="0.70"/>
<text x="318.4" y="375.7" font-size="4.60" text-anchor="end" font-weight="normal" fill="#666" >40</text>
<line x1="320.0" y1="358.0" x2="322.0" y2="358.0" stroke="#444" stroke-width="0.70"/>
<text x="318.4" y="359.7" font-size="4.60" text-anchor="end" font-weight="normal" fill="#666" >60</text>
<line x1="320.0" y1="342.0" x2="322.0" y2="342.0" stroke="#444" stroke-width="0.70"/>
<text x="318.4" y="343.7" font-size="4.60" text-anchor="end" font-weight="normal" fill="#666" >80</text>
<line x1="320.0" y1="326.0" x2="322.0" y2="326.0" stroke="#444" stroke-width="0.70"/>
<text x="318.4" y="327.7" font-size="4.60" text-anchor="end" font-weight="normal" fill="#666" >100</text>
<line x1="338.0" y1="406.0" x2="338.0" y2="408.0" stroke="#444" stroke-width="0.70"/>
<text x="338.0" y="415.0" font-size="5.00" text-anchor="middle" font-weight="normal" fill="#555" >0</text>
<line x1="347.0" y1="406.0" x2="347.0" y2="408.0" stroke="#444" stroke-width="0.70"/>
<text x="347.0" y="415.0" font-size="5.00" text-anchor="middle" font-weight="normal" fill="#555" >10<tspan dy="-1.6" font-size="3.2">2</tspan></text>
<line x1="364.8" y1="406.0" x2="364.8" y2="408.0" stroke="#444" stroke-width="0.70"/>
<text x="364.8" y="415.0" font-size="5.00" text-anchor="middle" font-weight="normal" fill="#555" >10<tspan dy="-1.6" font-size="3.2">3</tspan></text>
<line x1="382.5" y1="406.0" x2="382.5" y2="408.0" stroke="#444" stroke-width="0.70"/>
<text x="382.5" y="415.0" font-size="5.00" text-anchor="middle" font-weight="normal" fill="#555" >10<tspan dy="-1.6" font-size="3.2">4</tspan></text>
<line x1="399.5" y1="406.0" x2="399.5" y2="408.0" stroke="#444" stroke-width="0.70"/>
<text x="399.5" y="415.0" font-size="5.00" text-anchor="middle" font-weight="normal" fill="#555" >10<tspan dy="-1.6" font-size="3.2">5</tspan></text>
<line x1="352.4" y1="406.0" x2="352.4" y2="407.1" stroke="#666" stroke-width="0.50"/>
<line x1="355.5" y1="406.0" x2="355.5" y2="407.1" stroke="#666" stroke-width="0.50"/>
<line x1="357.7" y1="406.0" x2="357.7" y2="407.1" stroke="#666" stroke-width="0.50"/>
<line x1="359.4" y1="406.0" x2="359.4" y2="407.1" stroke="#666" stroke-width="0.50"/>
<line x1="360.9" y1="406.0" x2="360.9" y2="407.1" stroke="#666" stroke-width="0.50"/>
<line x1="362.0" y1="406.0" x2="362.0" y2="407.1" stroke="#666" stroke-width="0.50"/>
<line x1="363.1" y1="406.0" x2="363.1" y2="407.1" stroke="#666" stroke-width="0.50"/>
<line x1="364.0" y1="406.0" x2="364.0" y2="407.1" stroke="#666" stroke-width="0.50"/>
<line x1="370.1" y1="406.0" x2="370.1" y2="407.1" stroke="#666" stroke-width="0.50"/>
<line x1="373.2" y1="406.0" x2="373.2" y2="407.1" stroke="#666" stroke-width="0.50"/>
<line x1="375.5" y1="406.0" x2="375.5" y2="407.1" stroke="#666" stroke-width="0.50"/>
<line x1="377.2" y1="406.0" x2="377.2" y2="407.1" stroke="#666" stroke-width="0.50"/>
<line x1="378.6" y1="406.0" x2="378.6" y2="407.1" stroke="#666" stroke-width="0.50"/>
<line x1="379.8" y1="406.0" x2="379.8" y2="407.1" stroke="#666" stroke-width="0.50"/>
<line x1="380.8" y1="406.0" x2="380.8" y2="407.1" stroke="#666" stroke-width="0.50"/>
<line x1="381.7" y1="406.0" x2="381.7" y2="407.1" stroke="#666" stroke-width="0.50"/>
<line x1="387.6" y1="406.0" x2="387.6" y2="407.1" stroke="#666" stroke-width="0.50"/>
<line x1="390.6" y1="406.0" x2="390.6" y2="407.1" stroke="#666" stroke-width="0.50"/>
<line x1="392.7" y1="406.0" x2="392.7" y2="407.1" stroke="#666" stroke-width="0.50"/>
<line x1="394.4" y1="406.0" x2="394.4" y2="407.1" stroke="#666" stroke-width="0.50"/>
<line x1="395.7" y1="406.0" x2="395.7" y2="407.1" stroke="#666" stroke-width="0.50"/>
<line x1="396.9" y1="406.0" x2="396.9" y2="407.1" stroke="#666" stroke-width="0.50"/>
<line x1="397.9" y1="406.0" x2="397.9" y2="407.1" stroke="#666" stroke-width="0.50"/>
<line x1="398.7" y1="406.0" x2="398.7" y2="407.1" stroke="#666" stroke-width="0.50"/>
<line x1="327.0" y1="406.0" x2="327.0" y2="407.1" stroke="#666" stroke-width="0.50"/>
<line x1="331.0" y1="406.0" x2="331.0" y2="407.1" stroke="#666" stroke-width="0.50"/>
<line x1="342.5" y1="406.0" x2="342.5" y2="407.1" stroke="#666" stroke-width="0.50"/>
<path d="M366.0,405.5 L366.0,405.3 L366.5,405.3 L367.0,405.2 L367.5,405.1 L368.0,404.9 L368.5,404.7 L369.0,404.5 L369.5,404.1 L370.0,403.7 L370.5,403.2 L371.0,402.5 L371.5,401.7 L372.0,400.7 L372.5,399.5 L373.0,398.1 L373.5,396.4 L374.0,394.4 L374.5,392.1 L375.0,389.6 L375.5,386.7 L376.0,383.4 L376.5,379.9 L377.0,376.0 L377.5,371.9 L378.0,367.6 L378.5,363.1 L379.0,358.6 L379.5,354.0 L380.0,349.4 L380.5,345.1 L381.0,341.0 L381.5,337.2 L382.0,334.0 L382.5,331.2 L383.0,329.0 L383.5,327.5 L384.0,326.7 L384.5,326.7 L385.0,327.7 L385.5,329.8 L386.0,332.8 L386.5,336.7 L387.0,341.3 L387.5,346.5 L388.0,352.0 L388.5,357.6 L389.0,363.3 L389.5,368.8 L390.0,374.1 L390.5,379.0 L391.0,383.4 L391.5,387.3 L392.0,390.8 L392.5,393.8 L393.0,396.3 L393.5,398.3 L394.0,400.0 L394.5,401.4 L395.0,402.4 L395.5,403.2 L396.0,403.9 L396.5,404.3 L397.0,404.7 L397.5,404.9 L398.0,405.1 L398.5,405.2 L399.0,405.3 L399.0,405.5 Z" fill="#c8c8c8" stroke="#333" stroke-width="0.80" stroke-linejoin="round"/>
<path d="M372.0,405.5 L372.0,405.5 L372.5,405.5 L373.0,405.5 L373.5,405.4 L374.0,405.4 L374.5,405.3 L375.0,405.3 L375.5,405.2 L376.0,405.0 L376.5,404.8 L377.0,404.6 L377.5,404.2 L378.0,403.8 L378.5,403.2 L379.0,402.4 L379.5,401.5 L380.0,400.3 L380.5,398.8 L381.0,397.0 L381.5,394.9 L382.0,392.4 L382.5,389.5 L383.0,386.2 L383.5,382.5 L384.0,378.4 L384.5,373.9 L385.0,369.2 L385.5,364.2 L386.0,359.0 L386.5,353.9 L387.0,348.8 L387.5,344.0 L388.0,339.6 L388.5,335.7 L389.0,332.4 L389.5,329.8 L390.0,328.1 L390.5,327.3 L391.0,327.6 L391.5,329.9 L392.0,334.2 L392.5,340.1 L393.0,338.3 L393.5,338.5 L394.0,340.7 L394.5,344.6 L395.0,350.0 L395.5,356.3 L396.0,363.2 L396.5,370.3 L397.0,377.0 L397.5,383.1 L398.0,388.4 L398.5,392.8 L399.0,396.4 L399.5,399.1 L400.0,401.2 L400.5,402.7 L401.0,403.7 L401.5,404.4 L402.0,404.8 L402.5,405.1 L403.0,405.3 L403.5,405.4 L404.0,405.4 L404.0,405.5 Z" fill="none" stroke="#333" stroke-width="0.80" stroke-linejoin="round"/>
<path d="M340.0,405.5 L340.0,405.2 L340.5,405.0 L341.0,404.5 L341.5,403.8 L342.0,402.7 L342.5,400.9 L343.0,398.4 L343.5,394.9 L344.0,390.2 L344.5,384.2 L345.0,377.0 L345.5,368.7 L346.0,359.7 L346.5,350.6 L347.0,342.1 L347.5,334.9 L348.0,329.8 L348.5,327.2 L349.0,327.6 L349.5,330.9 L350.0,336.9 L350.5,344.9 L351.0,354.1 L351.5,363.6 L352.0,372.7 L352.5,380.8 L353.0,387.6 L353.5,393.1 L354.0,397.2 L354.5,400.2 L355.0,402.2 L355.5,403.6 L356.0,404.4 L356.5,404.9 L357.0,405.2 L357.5,405.3 L357.5,405.5 Z" fill="#1f1022" stroke="#222" stroke-width="0.60" stroke-linejoin="round"/>
<rect x="427.3" y="321.6" width="85.7" height="84.7" stroke="#777" stroke-width="0.80" fill="none"/>
<line x1="427.3" y1="321.6" x2="427.3" y2="406.7" stroke="#222" stroke-width="1.00"/>
<line x1="426.9" y1="406.3" x2="513.0" y2="406.3" stroke="#222" stroke-width="1.00"/>
<line x1="425.3" y1="406.3" x2="427.3" y2="406.3" stroke="#444" stroke-width="0.70"/>
<text x="423.7" y="408.0" font-size="4.60" text-anchor="end" font-weight="normal" fill="#666" >0</text>
<line x1="425.3" y1="390.3" x2="427.3" y2="390.3" stroke="#444" stroke-width="0.70"/>
<text x="423.7" y="392.0" font-size="4.60" text-anchor="end" font-weight="normal" fill="#666" >20</text>
<line x1="425.3" y1="374.2" x2="427.3" y2="374.2" stroke="#444" stroke-width="0.70"/>
<text x="423.7" y="375.9" font-size="4.60" text-anchor="end" font-weight="normal" fill="#666" >40</text>
<line x1="425.3" y1="358.2" x2="427.3" y2="358.2" stroke="#444" stroke-width="0.70"/>
<text x="423.7" y="359.9" font-size="4.60" text-anchor="end" font-weight="normal" fill="#666" >60</text>
<line x1="425.3" y1="342.1" x2="427.3" y2="342.1" stroke="#444" stroke-width="0.70"/>
<text x="423.7" y="343.8" font-size="4.60" text-anchor="end" font-weight="normal" fill="#666" >80</text>
<line x1="425.3" y1="326.1" x2="427.3" y2="326.1" stroke="#444" stroke-width="0.70"/>
<text x="423.7" y="327.8" font-size="4.60" text-anchor="end" font-weight="normal" fill="#666" >100</text>
<line x1="443.3" y1="406.3" x2="443.3" y2="408.3" stroke="#444" stroke-width="0.70"/>
<text x="443.3" y="415.3" font-size="5.00" text-anchor="middle" font-weight="normal" fill="#555" >0</text>
<line x1="452.3" y1="406.3" x2="452.3" y2="408.3" stroke="#444" stroke-width="0.70"/>
<text x="452.3" y="415.3" font-size="5.00" text-anchor="middle" font-weight="normal" fill="#555" >10<tspan dy="-1.6" font-size="3.2">2</tspan></text>
<line x1="470.1" y1="406.3" x2="470.1" y2="408.3" stroke="#444" stroke-width="0.70"/>
<text x="470.1" y="415.3" font-size="5.00" text-anchor="middle" font-weight="normal" fill="#555" >10<tspan dy="-1.6" font-size="3.2">3</tspan></text>
<line x1="487.8" y1="406.3" x2="487.8" y2="408.3" stroke="#444" stroke-width="0.70"/>
<text x="487.8" y="415.3" font-size="5.00" text-anchor="middle" font-weight="normal" fill="#555" >10<tspan dy="-1.6" font-size="3.2">4</tspan></text>
<line x1="504.8" y1="406.3" x2="504.8" y2="408.3" stroke="#444" stroke-width="0.70"/>
<text x="504.8" y="415.3" font-size="5.00" text-anchor="middle" font-weight="normal" fill="#555" >10<tspan dy="-1.6" font-size="3.2">5</tspan></text>
<line x1="457.7" y1="406.3" x2="457.7" y2="407.4" stroke="#666" stroke-width="0.50"/>
<line x1="460.8" y1="406.3" x2="460.8" y2="407.4" stroke="#666" stroke-width="0.50"/>
<line x1="463.0" y1="406.3" x2="463.0" y2="407.4" stroke="#666" stroke-width="0.50"/>
<line x1="464.7" y1="406.3" x2="464.7" y2="407.4" stroke="#666" stroke-width="0.50"/>
<line x1="466.2" y1="406.3" x2="466.2" y2="407.4" stroke="#666" stroke-width="0.50"/>
<line x1="467.3" y1="406.3" x2="467.3" y2="407.4" stroke="#666" stroke-width="0.50"/>
<line x1="468.4" y1="406.3" x2="468.4" y2="407.4" stroke="#666" stroke-width="0.50"/>
<line x1="469.3" y1="406.3" x2="469.3" y2="407.4" stroke="#666" stroke-width="0.50"/>
<line x1="475.4" y1="406.3" x2="475.4" y2="407.4" stroke="#666" stroke-width="0.50"/>
<line x1="478.5" y1="406.3" x2="478.5" y2="407.4" stroke="#666" stroke-width="0.50"/>
<line x1="480.8" y1="406.3" x2="480.8" y2="407.4" stroke="#666" stroke-width="0.50"/>
<line x1="482.5" y1="406.3" x2="482.5" y2="407.4" stroke="#666" stroke-width="0.50"/>
<line x1="483.9" y1="406.3" x2="483.9" y2="407.4" stroke="#666" stroke-width="0.50"/>
<line x1="485.1" y1="406.3" x2="485.1" y2="407.4" stroke="#666" stroke-width="0.50"/>
<line x1="486.1" y1="406.3" x2="486.1" y2="407.4" stroke="#666" stroke-width="0.50"/>
<line x1="487.0" y1="406.3" x2="487.0" y2="407.4" stroke="#666" stroke-width="0.50"/>
<line x1="492.9" y1="406.3" x2="492.9" y2="407.4" stroke="#666" stroke-width="0.50"/>
<line x1="495.9" y1="406.3" x2="495.9" y2="407.4" stroke="#666" stroke-width="0.50"/>
<line x1="498.0" y1="406.3" x2="498.0" y2="407.4" stroke="#666" stroke-width="0.50"/>
<line x1="499.7" y1="406.3" x2="499.7" y2="407.4" stroke="#666" stroke-width="0.50"/>
<line x1="501.0" y1="406.3" x2="501.0" y2="407.4" stroke="#666" stroke-width="0.50"/>
<line x1="502.2" y1="406.3" x2="502.2" y2="407.4" stroke="#666" stroke-width="0.50"/>
<line x1="503.2" y1="406.3" x2="503.2" y2="407.4" stroke="#666" stroke-width="0.50"/>
<line x1="504.0" y1="406.3" x2="504.0" y2="407.4" stroke="#666" stroke-width="0.50"/>
<line x1="432.3" y1="406.3" x2="432.3" y2="407.4" stroke="#666" stroke-width="0.50"/>
<line x1="436.3" y1="406.3" x2="436.3" y2="407.4" stroke="#666" stroke-width="0.50"/>
<line x1="447.8" y1="406.3" x2="447.8" y2="407.4" stroke="#666" stroke-width="0.50"/>
<path d="M428.0,405.8 L428.0,405.4 L428.5,405.3 L429.0,405.1 L429.5,404.8 L430.0,404.4 L430.5,403.9 L431.0,403.3 L431.5,402.4 L432.0,401.4 L432.5,400.1 L433.0,398.5 L433.5,396.5 L434.0,394.2 L434.5,391.5 L435.0,388.3 L435.5,384.7 L436.0,380.7 L436.5,376.3 L437.0,371.5 L437.5,366.5 L438.0,361.3 L438.5,356.0 L439.0,350.8 L439.5,345.7 L440.0,341.0 L440.5,336.8 L441.0,333.2 L441.5,330.4 L442.0,328.4 L442.5,327.4 L443.0,327.4 L443.5,330.0 L444.0,335.1 L444.5,342.3 L445.0,350.9 L445.5,360.0 L446.0,368.9 L446.5,377.2 L447.0,384.5 L447.5,390.5 L448.0,395.2 L448.5,398.7 L449.0,401.2 L449.5,403.0 L450.0,404.1 L450.5,404.8 L451.0,405.3 L451.0,405.8 Z" fill="#1f1022" stroke="#222" stroke-width="0.60" stroke-linejoin="round"/>
<path d="M434.0,405.8 L434.0,405.5 L434.5,405.4 L435.0,405.3 L435.5,405.1 L436.0,404.9 L436.5,404.7 L437.0,404.4 L437.5,404.0 L438.0,403.5 L438.5,403.0 L439.0,402.3 L439.5,401.5 L440.0,400.6 L440.5,399.5 L441.0,398.2 L441.5,396.8 L442.0,395.1 L442.5,393.2 L443.0,391.1 L443.5,388.7 L444.0,386.1 L444.5,383.2 L445.0,380.2 L445.5,376.8 L446.0,373.3 L446.5,369.6 L447.0,365.8 L447.5,361.9 L448.0,357.9 L448.5,353.9 L449.0,350.0 L449.5,346.2 L450.0,342.5 L450.5,339.2 L451.0,336.1 L451.5,333.4 L452.0,331.1 L452.5,329.2 L453.0,327.9 L453.5,327.1 L454.0,326.8 L454.5,327.1 L455.0,328.1 L455.5,329.8 L456.0,332.0 L456.5,334.8 L457.0,338.1 L457.5,341.8 L458.0,345.8 L458.5,350.0 L459.0,354.3 L459.5,358.8 L460.0,363.2 L460.5,367.5 L461.0,371.7 L461.5,375.7 L462.0,379.4 L462.5,382.9 L463.0,386.1 L463.5,389.0 L464.0,391.6 L464.5,393.9 L465.0,395.9 L465.5,397.6 L466.0,399.1 L466.5,400.4 L467.0,401.4 L467.5,402.3 L468.0,403.1 L468.5,403.7 L469.0,404.1 L469.5,404.5 L470.0,404.8 L470.5,405.1 L471.0,405.2 L471.5,405.4 L472.0,405.5 L472.5,405.6 L473.0,405.6 L473.5,405.7 L474.0,405.7 L474.5,405.7 L475.0,405.8 L475.5,405.8 L476.0,405.8 L476.5,405.8 L477.0,405.8 L477.5,405.8 L478.0,405.8 L478.5,405.8 L479.0,405.8 L479.5,405.8 L480.0,405.8 L480.0,405.8 Z" fill="#c8c8c8" stroke="#333" stroke-width="0.80" stroke-linejoin="round"/>
<path d="M443.0,405.8 L443.0,405.6 L443.5,405.5 L444.0,405.4 L444.5,405.3 L445.0,405.1 L445.5,405.0 L446.0,404.8 L446.5,404.5 L447.0,404.2 L447.5,403.8 L448.0,403.4 L448.5,402.9 L449.0,402.2 L449.5,401.5 L450.0,400.7 L450.5,399.7 L451.0,398.6 L451.5,397.3 L452.0,395.9 L452.5,394.3 L453.0,392.5 L453.5,390.5 L454.0,388.3 L454.5,385.9 L455.0,383.3 L455.5,380.5 L456.0,377.5 L456.5,374.4 L457.0,371.1 L457.5,367.7 L458.0,364.3 L458.5,360.7 L459.0,357.1 L459.5,353.6 L460.0,350.1 L460.5,346.7 L461.0,343.4 L461.5,340.4 L462.0,337.6 L462.5,335.1 L463.0,332.9 L463.5,331.1 L464.0,329.6 L464.5,328.6 L465.0,328.0 L465.5,327.9 L466.0,328.3 L466.5,329.9 L467.0,330.8 L467.5,331.7 L468.0,332.6 L468.5,339.1 L469.0,339.8 L469.5,344.1 L470.0,348.3 L470.5,353.3 L471.0,357.5 L471.5,362.6 L472.0,366.2 L472.5,370.2 L473.0,372.2 L473.5,377.0 L474.0,380.5 L474.5,383.8 L475.0,385.5 L475.5,388.2 L476.0,390.9 L476.5,393.5 L477.0,395.5 L477.5,397.1 L478.0,398.5 L478.5,399.9 L479.0,400.8 L479.5,401.8 L480.0,402.4 L480.5,403.1 L481.0,403.7 L481.5,404.2 L482.0,404.5 L482.5,404.8 L483.0,405.0 L483.5,405.2 L484.0,405.3 L484.5,405.5 L485.0,405.5 L485.5,405.6 L486.0,405.7 L486.5,405.7 L487.0,405.7 L487.5,405.7 L488.0,405.8 L488.5,405.8 L489.0,405.8 L489.5,405.8 L490.0,405.8 L490.0,405.8 Z" fill="none" stroke="#333" stroke-width="0.80" stroke-linejoin="round"/>
<text x="345.8" y="430.2" font-size="13.20" text-anchor="start" font-weight="normal" fill="#1a1a1a" stroke="#1a1a1a" stroke-width="0.12" >HLA-I</text>
<text x="455.5" y="430.6" font-size="13.20" text-anchor="start" font-weight="normal" fill="#1a1a1a" stroke="#1a1a1a" stroke-width="0.12" >HLA-E</text>
<rect x="356" y="446" width="10" height="10.5" fill="#c8c8c8" stroke="#333" stroke-width="1"/>
<text x="370.5" y="455.3" font-size="13.80" text-anchor="start" font-weight="normal" fill="#1a1a1a" stroke="#1a1a1a" stroke-width="0.12" >Pre</text>
<rect x="397.5" y="446" width="10.5" height="10.5" fill="#fff" stroke="#333" stroke-width="1"/>
<text x="412.0" y="455.3" font-size="13.80" text-anchor="start" font-weight="normal" fill="#1a1a1a" stroke="#1a1a1a" stroke-width="0.12" >Post</text>
<rect x="443.5" y="446" width="10.5" height="10.5" fill="#1f1022" stroke="#222" stroke-width="1"/>
<text x="458.7" y="455.3" font-size="13.80" text-anchor="start" font-weight="normal" fill="#1a1a1a" stroke="#1a1a1a" stroke-width="0.12" >FMO</text>
<text x="2.0" y="490.9" font-size="20.00" text-anchor="start" font-weight="bold" fill="#0a0a0a" >D</text>
<line x1="91.6" y1="516.4" x2="91.6" y2="626.7" stroke="#444" stroke-width="1.00"/>
<line x1="91.6" y1="626.7" x2="245.0" y2="626.7" stroke="#444" stroke-width="1.00"/>
<line x1="88.1" y1="626.7" x2="91.6" y2="626.7" stroke="#444" stroke-width="1.00"/>
<text x="86.0" y="630.9" font-size="12.00" text-anchor="end" font-weight="normal" fill="#222" stroke="#222" stroke-width="0.12" >0</text>
<line x1="88.1" y1="599.1" x2="91.6" y2="599.1" stroke="#444" stroke-width="1.00"/>
<text x="86.0" y="603.3" font-size="12.00" text-anchor="end" font-weight="normal" fill="#222" stroke="#222" stroke-width="0.12" >10,000</text>
<line x1="88.1" y1="571.6" x2="91.6" y2="571.6" stroke="#444" stroke-width="1.00"/>
<text x="86.0" y="575.8" font-size="12.00" text-anchor="end" font-weight="normal" fill="#222" stroke="#222" stroke-width="0.12" >20,000</text>
<line x1="88.1" y1="544.0" x2="91.6" y2="544.0" stroke="#444" stroke-width="1.00"/>
<text x="86.0" y="548.2" font-size="12.00" text-anchor="end" font-weight="normal" fill="#222" stroke="#222" stroke-width="0.12" >30,000</text>
<line x1="88.1" y1="516.4" x2="91.6" y2="516.4" stroke="#444" stroke-width="1.00"/>
<text x="86.0" y="520.6" font-size="12.00" text-anchor="end" font-weight="normal" fill="#222" stroke="#222" stroke-width="0.12" >40,000</text>
<text x="12.3" y="573.5" font-size="13.00" text-anchor="middle" font-weight="normal" fill="#222" transform="rotate(-90 12.3 573.5)" stroke="#222" stroke-width="0.12" >GeoMFI HLA-I of lin<tspan font-size="7.8" dy="-4.5">&#8211;</tspan></text>
<text x="28.6" y="574.2" font-size="13.00" text-anchor="middle" font-weight="normal" fill="#222" transform="rotate(-90 28.6 574.2)" stroke="#222" stroke-width="0.12" >CD34<tspan font-size="7.8" dy="-4.5">+</tspan><tspan dy="4.5">CD45RA</tspan><tspan font-size="7.8" dy="-4.5">+</tspan><tspan dy="4.5">CD123</tspan><tspan font-size="7.8" dy="-4.5">+</tspan></text>
<text x="105.7" y="644.6" font-size="12.00" text-anchor="middle" font-weight="normal" fill="#222" stroke="#222" stroke-width="0.12" >Pre</text>
<text x="146.5" y="644.6" font-size="12.00" text-anchor="middle" font-weight="normal" fill="#222" stroke="#222" stroke-width="0.12" >Post</text>
<text x="189.0" y="644.6" font-size="12.00" text-anchor="middle" font-weight="normal" fill="#222" stroke="#222" stroke-width="0.12" >Pre</text>
<text x="227.6" y="644.6" font-size="12.00" text-anchor="middle" font-weight="normal" fill="#222" stroke="#222" stroke-width="0.12" >Post</text>
<line x1="148.5" y1="514.5" x2="230.0" y2="514.5" stroke="#222" stroke-width="1.00"/>
<text x="189.3" y="510.8" font-size="11.50" text-anchor="middle" font-weight="normal" fill="#222" ><tspan font-style="italic">P</tspan> &lt; 0.01</text>
<line x1="110.8" y1="573.4" x2="149.2" y2="564.2" stroke="#1a1a1a" stroke-width="1.15"/>
<line x1="110.8" y1="573.4" x2="149.2" y2="576.0" stroke="#1a1a1a" stroke-width="1.15"/>
<line x1="110.8" y1="577.4" x2="149.2" y2="577.4" stroke="#1a1a1a" stroke-width="1.15"/>
<line x1="110.8" y1="577.4" x2="149.2" y2="600.4" stroke="#1a1a1a" stroke-width="1.15"/>
<line x1="110.8" y1="584.0" x2="149.2" y2="594.5" stroke="#1a1a1a" stroke-width="1.15"/>
<line x1="110.8" y1="595.8" x2="149.2" y2="585.0" stroke="#1a1a1a" stroke-width="1.15"/>
<line x1="110.8" y1="606.3" x2="149.2" y2="594.5" stroke="#1a1a1a" stroke-width="1.15"/>
<line x1="110.8" y1="610.5" x2="149.2" y2="600.4" stroke="#1a1a1a" stroke-width="1.15"/>
<circle cx="110.8" cy="541.8" r="2.75" fill="#6e6e6e" stroke="#2a2a2a" stroke-width="0.9"/>
<circle cx="110.8" cy="573.4" r="2.75" fill="#6e6e6e" stroke="#2a2a2a" stroke-width="0.9"/>
<circle cx="110.8" cy="577.4" r="2.75" fill="#6e6e6e" stroke="#2a2a2a" stroke-width="0.9"/>
<circle cx="110.8" cy="584.0" r="2.75" fill="#6e6e6e" stroke="#2a2a2a" stroke-width="0.9"/>
<circle cx="110.8" cy="595.8" r="2.75" fill="#6e6e6e" stroke="#2a2a2a" stroke-width="0.9"/>
<circle cx="110.8" cy="606.3" r="2.75" fill="#6e6e6e" stroke="#2a2a2a" stroke-width="0.9"/>
<circle cx="110.8" cy="610.5" r="2.75" fill="#6e6e6e" stroke="#2a2a2a" stroke-width="0.9"/>
<circle cx="149.2" cy="564.2" r="2.75" fill="#6e6e6e" stroke="#2a2a2a" stroke-width="0.9"/>
<circle cx="149.2" cy="576.0" r="2.75" fill="#6e6e6e" stroke="#2a2a2a" stroke-width="0.9"/>
<circle cx="149.2" cy="577.4" r="2.75" fill="#6e6e6e" stroke="#2a2a2a" stroke-width="0.9"/>
<circle cx="149.2" cy="585.0" r="2.75" fill="#6e6e6e" stroke="#2a2a2a" stroke-width="0.9"/>
<circle cx="149.2" cy="594.5" r="2.75" fill="#6e6e6e" stroke="#2a2a2a" stroke-width="0.9"/>
<circle cx="149.2" cy="600.4" r="2.75" fill="#6e6e6e" stroke="#2a2a2a" stroke-width="0.9"/>
<line x1="187.5" y1="580.6" x2="226.3" y2="557.6" stroke="#1a1a1a" stroke-width="1.15"/>
<line x1="187.5" y1="592.6" x2="226.3" y2="549.2" stroke="#1a1a1a" stroke-width="1.15"/>
<line x1="187.5" y1="604.5" x2="226.3" y2="565.3" stroke="#1a1a1a" stroke-width="1.15"/>
<rect x="184.7" y="571.2" width="5.6" height="5.6" fill="#fff" stroke="#222" stroke-width="1"/>
<rect x="184.7" y="577.8" width="5.6" height="5.6" fill="#fff" stroke="#222" stroke-width="1"/>
<rect x="184.7" y="589.8" width="5.6" height="5.6" fill="#fff" stroke="#222" stroke-width="1"/>
<rect x="184.7" y="601.7" width="5.6" height="5.6" fill="#fff" stroke="#222" stroke-width="1"/>
<rect x="223.5" y="531.4" width="5.6" height="5.6" fill="#fff" stroke="#222" stroke-width="1"/>
<rect x="223.5" y="546.4" width="5.6" height="5.6" fill="#fff" stroke="#222" stroke-width="1"/>
<rect x="223.5" y="554.8" width="5.6" height="5.6" fill="#fff" stroke="#222" stroke-width="1"/>
<rect x="223.5" y="562.5" width="5.6" height="5.6" fill="#fff" stroke="#222" stroke-width="1"/>
<rect x="223.5" y="571.2" width="5.6" height="5.6" fill="#fff" stroke="#222" stroke-width="1"/>
<rect x="74.5" y="659.8" width="82" height="25" fill="#fff" stroke="#222" stroke-width="1"/>
<circle cx="83.8" cy="671.3" r="3.9" fill="#6e6e6e"/>
<text x="92.3" y="676.3" font-size="14.00" text-anchor="start" font-weight="normal" fill="#1a1a1a" stroke="#1a1a1a" stroke-width="0.12" >NR</text>
<rect x="125.6" y="668.2" width="7.6" height="7.6" fill="#fff" stroke="#222" stroke-width="1"/>
<text x="138.5" y="676.3" font-size="14.00" text-anchor="start" font-weight="normal" fill="#1a1a1a" stroke="#1a1a1a" stroke-width="0.12" >R</text>
<text x="271.6" y="490.6" font-size="20.00" text-anchor="start" font-weight="bold" fill="#0a0a0a" >E</text>
<line x1="345.5" y1="514.0" x2="345.5" y2="627.6" stroke="#444" stroke-width="1.00"/>
<line x1="345.5" y1="627.6" x2="504.4" y2="627.6" stroke="#444" stroke-width="1.00"/>
<line x1="342.0" y1="627.6" x2="345.5" y2="627.6" stroke="#444" stroke-width="1.00"/>
<text x="339.5" y="632.0" font-size="12.50" text-anchor="end" font-weight="normal" fill="#222" stroke="#222" stroke-width="0.12" >0</text>
<line x1="342.0" y1="599.2" x2="345.5" y2="599.2" stroke="#444" stroke-width="1.00"/>
<text x="339.5" y="603.6" font-size="12.50" text-anchor="end" font-weight="normal" fill="#222" stroke="#222" stroke-width="0.12" >200</text>
<line x1="342.0" y1="570.9" x2="345.5" y2="570.9" stroke="#444" stroke-width="1.00"/>
<text x="339.5" y="575.3" font-size="12.50" text-anchor="end" font-weight="normal" fill="#222" stroke="#222" stroke-width="0.12" >400</text>
<line x1="342.0" y1="542.5" x2="345.5" y2="542.5" stroke="#444" stroke-width="1.00"/>
<text x="339.5" y="546.9" font-size="12.50" text-anchor="end" font-weight="normal" fill="#222" stroke="#222" stroke-width="0.12" >600</text>
<line x1="342.0" y1="514.2" x2="345.5" y2="514.2" stroke="#444" stroke-width="1.00"/>
<text x="339.5" y="518.6" font-size="12.50" text-anchor="end" font-weight="normal" fill="#222" stroke="#222" stroke-width="0.12" >800</text>
<text x="290.5" y="575.0" font-size="13.40" text-anchor="middle" font-weight="normal" fill="#222" transform="rotate(-90 290.5 575.0)" stroke="#222" stroke-width="0.12" >GeoMFI HLA-E of lin<tspan font-size="8" dy="-4.6">&#8211;</tspan></text>
<text x="308.8" y="573.4" font-size="13.40" text-anchor="middle" font-weight="normal" fill="#222" transform="rotate(-90 308.8 573.4)" stroke="#222" stroke-width="0.12" >CD34<tspan font-size="8" dy="-4.6">+</tspan><tspan dy="4.6">CD45RA</tspan><tspan font-size="8" dy="-4.6">+</tspan><tspan dy="4.6">CD123</tspan><tspan font-size="8" dy="-4.6">+</tspan></text>
<text x="361.8" y="644.4" font-size="13.00" text-anchor="middle" font-weight="normal" fill="#222" stroke="#222" stroke-width="0.12" >Pre</text>
<text x="402.7" y="644.4" font-size="13.00" text-anchor="middle" font-weight="normal" fill="#222" stroke="#222" stroke-width="0.12" >Post</text>
<text x="446.6" y="644.4" font-size="13.00" text-anchor="middle" font-weight="normal" fill="#222" stroke="#222" stroke-width="0.12" >Pre</text>
<text x="487.6" y="644.4" font-size="13.00" text-anchor="middle" font-weight="normal" fill="#222" stroke="#222" stroke-width="0.12" >Post</text>
<line x1="405.2" y1="514.0" x2="486.2" y2="514.0" stroke="#222" stroke-width="1.00"/>
<text x="445.7" y="511.6" font-size="11.50" text-anchor="middle" font-weight="normal" fill="#222" ><tspan font-style="italic">P</tspan> &lt; 0.01</text>
<line x1="365.5" y1="550.0" x2="405.3" y2="578.6" stroke="#1a1a1a" stroke-width="1.15"/>
<line x1="365.5" y1="568.4" x2="405.3" y2="571.3" stroke="#1a1a1a" stroke-width="1.15"/>
<line x1="365.5" y1="579.2" x2="405.3" y2="578.6" stroke="#1a1a1a" stroke-width="1.15"/>
<line x1="365.5" y1="580.3" x2="405.3" y2="580.5" stroke="#1a1a1a" stroke-width="1.15"/>
<line x1="365.5" y1="586.0" x2="405.3" y2="590.8" stroke="#1a1a1a" stroke-width="1.15"/>
<line x1="365.5" y1="593.0" x2="405.3" y2="580.5" stroke="#1a1a1a" stroke-width="1.15"/>
<line x1="365.5" y1="595.7" x2="405.3" y2="586.4" stroke="#1a1a1a" stroke-width="1.15"/>
<line x1="365.5" y1="598.7" x2="405.3" y2="590.8" stroke="#1a1a1a" stroke-width="1.15"/>
<circle cx="365.5" cy="528.2" r="2.75" fill="#6e6e6e" stroke="#2a2a2a" stroke-width="0.9"/>
<circle cx="365.5" cy="550.0" r="2.75" fill="#6e6e6e" stroke="#2a2a2a" stroke-width="0.9"/>
<circle cx="365.5" cy="568.4" r="2.75" fill="#6e6e6e" stroke="#2a2a2a" stroke-width="0.9"/>
<circle cx="365.5" cy="579.2" r="2.75" fill="#6e6e6e" stroke="#2a2a2a" stroke-width="0.9"/>
<circle cx="365.5" cy="580.3" r="2.75" fill="#6e6e6e" stroke="#2a2a2a" stroke-width="0.9"/>
<circle cx="365.5" cy="586.0" r="2.75" fill="#6e6e6e" stroke="#2a2a2a" stroke-width="0.9"/>
<circle cx="365.5" cy="593.0" r="2.75" fill="#6e6e6e" stroke="#2a2a2a" stroke-width="0.9"/>
<circle cx="365.5" cy="595.7" r="2.75" fill="#6e6e6e" stroke="#2a2a2a" stroke-width="0.9"/>
<circle cx="365.5" cy="598.7" r="2.75" fill="#6e6e6e" stroke="#2a2a2a" stroke-width="0.9"/>
<circle cx="405.3" cy="571.3" r="2.75" fill="#6e6e6e" stroke="#2a2a2a" stroke-width="0.9"/>
<circle cx="405.3" cy="578.6" r="2.75" fill="#6e6e6e" stroke="#2a2a2a" stroke-width="0.9"/>
<circle cx="405.3" cy="580.5" r="2.75" fill="#6e6e6e" stroke="#2a2a2a" stroke-width="0.9"/>
<circle cx="405.3" cy="586.4" r="2.75" fill="#6e6e6e" stroke="#2a2a2a" stroke-width="0.9"/>
<circle cx="405.3" cy="590.8" r="2.75" fill="#6e6e6e" stroke="#2a2a2a" stroke-width="0.9"/>
<line x1="444.5" y1="586.3" x2="484.5" y2="570.4" stroke="#1a1a1a" stroke-width="1.15"/>
<line x1="444.5" y1="589.2" x2="484.5" y2="553.1" stroke="#1a1a1a" stroke-width="1.15"/>
<line x1="444.5" y1="594.3" x2="484.5" y2="571.5" stroke="#1a1a1a" stroke-width="1.15"/>
<rect x="441.7" y="557.9" width="5.6" height="5.6" fill="#fff" stroke="#222" stroke-width="1"/>
<rect x="441.7" y="583.5" width="5.6" height="5.6" fill="#fff" stroke="#222" stroke-width="1"/>
<rect x="441.7" y="586.4" width="5.6" height="5.6" fill="#fff" stroke="#222" stroke-width="1"/>
<rect x="441.7" y="591.5" width="5.6" height="5.6" fill="#fff" stroke="#222" stroke-width="1"/>
<rect x="481.7" y="543.4" width="5.6" height="5.6" fill="#fff" stroke="#222" stroke-width="1"/>
<rect x="481.7" y="550.3" width="5.6" height="5.6" fill="#fff" stroke="#222" stroke-width="1"/>
<rect x="481.7" y="567.6" width="5.6" height="5.6" fill="#fff" stroke="#222" stroke-width="1"/>
<rect x="481.7" y="568.7" width="5.6" height="5.6" fill="#fff" stroke="#222" stroke-width="1"/>
</svg>
</body></html>
